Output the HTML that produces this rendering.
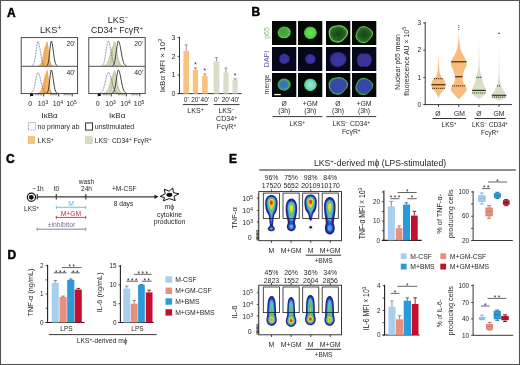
<!DOCTYPE html>
<html><head><meta charset="utf-8"><style>
html,body{margin:0;padding:0;background:#fff;width:520px;height:365px;overflow:hidden}
svg{display:block;will-change:transform;font-family:"Liberation Sans", sans-serif}
</style></head><body>
<svg width="520" height="365" viewBox="0 0 520 365" fill="#231f20">
<rect x="0" y="0" width="520" height="365" fill="#fff"/>
<rect x="0.5" y="0.5" width="519" height="364" fill="none" stroke="#555" stroke-width="1.1" />
<text x="7" y="16.5" font-size="12" fill="#000" font-weight="bold" stroke="#000" stroke-width="0.45">A</text>
<text x="251.5" y="16.3" font-size="12" fill="#000" font-weight="bold" stroke="#000" stroke-width="0.45">B</text>
<text x="6" y="162.5" font-size="12" fill="#000" font-weight="bold" stroke="#000" stroke-width="0.45">C</text>
<text x="7.5" y="259.3" font-size="12" fill="#000" font-weight="bold" stroke="#000" stroke-width="0.45">D</text>
<text x="229" y="162.6" font-size="12" fill="#000" font-weight="bold" stroke="#000" stroke-width="0.45">E</text>
<text x="40" y="32.6" font-size="9.2" >LKS<tspan baseline-shift="46%" font-size="70%">+</tspan></text>
<text x="118.2" y="22.7" font-size="9.0" text-anchor="middle" >LKS<tspan baseline-shift="46%" font-size="70%">−</tspan></text>
<text x="117" y="32.8" font-size="8.7" text-anchor="middle" >CD34<tspan baseline-shift="46%" font-size="70%">+</tspan> FcγR<tspan baseline-shift="46%" font-size="70%">+</tspan></text>
<path d="M21.20,66.00 L21.20,66.00 L21.67,66.00 L22.14,66.00 L22.61,66.00 L23.08,66.00 L23.55,66.00 L24.02,66.00 L24.49,66.00 L24.96,66.00 L25.43,66.00 L25.90,66.00 L26.37,66.00 L26.84,66.00 L27.31,66.00 L27.78,66.00 L28.25,66.00 L28.72,66.00 L29.19,66.00 L29.66,66.00 L30.13,66.00 L30.60,66.00 L31.07,66.00 L31.54,66.00 L32.01,66.00 L32.48,66.00 L32.95,66.00 L33.42,66.00 L33.89,66.00 L34.36,66.00 L34.83,66.00 L35.30,66.00 L35.77,65.99 L36.24,65.98 L36.71,65.97 L37.18,65.94 L37.65,65.89 L38.12,65.81 L38.59,65.68 L39.06,65.49 L39.53,65.19 L40.00,64.75 L40.47,64.14 L40.94,63.32 L41.41,62.25 L41.88,60.90 L42.35,59.28 L42.82,57.41 L43.29,55.34 L43.76,53.17 L44.23,51.01 L44.70,49.02 L45.17,47.34 L45.64,46.10 L46.11,45.42 L46.58,45.38 L47.05,46.27 L47.52,48.04 L47.99,50.46 L48.46,53.21 L48.93,55.98 L49.40,58.54 L49.87,60.71 L50.34,62.44 L50.81,63.72 L51.28,64.61 L51.75,65.19 L52.22,65.56 L52.69,65.77 L53.16,65.88 L53.63,65.94 L54.10,65.98 L54.57,65.99 L55.04,66.00 L55.51,66.00 L55.98,66.00 L56.45,66.00 L56.92,66.00 L57.39,66.00 L57.86,66.00 L58.33,66.00 L58.80,66.00 L59.27,66.00 L59.74,66.00 L60.21,66.00 L60.68,66.00 L61.15,66.00 L61.62,66.00 L62.09,66.00 L62.56,66.00 L63.03,66.00 L63.50,66.00 L63.97,66.00 L64.44,66.00 L64.91,66.00 L65.38,66.00 L65.85,66.00 L66.32,66.00 L66.79,66.00 L67.26,66.00 L67.73,66.00 L68.20,66.00 L68.67,66.00 L69.14,66.00 L69.61,66.00 L70.08,66.00 L70.55,66.00 L71.02,66.00 L71.49,66.00 L71.96,66.00 L72.43,66.00 L72.90,66.00 L73.37,66.00 L73.84,66.00 L74.31,66.00 L74.78,66.00 L75.25,66.00 L75.72,66.00 L76.19,66.00 L76.66,66.00 L77.13,66.00 L77.60,66.00 L77.60,66.00 Z" fill="#f6b468" stroke="none" stroke-width="0.8" />
<path d="M38.59,65.68 L39.06,65.49 L39.53,65.19 L40.00,64.75 L40.47,64.14 L40.94,63.32 L41.41,62.25 L41.88,60.90 L42.35,59.28 L42.82,57.41 L43.29,55.34 L43.76,53.17 L44.23,51.01 L44.70,49.02 L45.17,47.34 L45.64,46.10 L46.11,45.42 L46.58,45.38 L47.05,46.27 L47.52,48.04 L47.99,50.46 L48.46,53.21 L48.93,55.98 L49.40,58.54 L49.87,60.71 L50.34,62.44 L50.81,63.72 L51.28,64.61 L51.75,65.19 L52.22,65.56 L52.69,65.77" fill="none" stroke="#e8913a" stroke-width="0.5" />
<path d="M21.20,66.00 L21.20,66.00 L21.67,66.00 L22.14,66.00 L22.61,66.00 L23.08,66.00 L23.55,66.00 L24.02,66.00 L24.49,66.00 L24.96,66.00 L25.43,66.00 L25.90,66.00 L26.37,66.00 L26.84,66.00 L27.31,66.00 L27.78,66.00 L28.25,66.00 L28.72,66.00 L29.19,66.00 L29.66,66.00 L30.13,66.00 L30.60,66.00 L31.07,66.00 L31.54,66.00 L32.01,66.00 L32.48,66.00 L32.95,66.00 L33.42,66.00 L33.89,66.00 L34.36,66.00 L34.83,66.00 L35.30,66.00 L35.77,66.00 L36.24,66.00 L36.71,66.00 L37.18,66.00 L37.65,66.00 L38.12,66.00 L38.59,66.00 L39.06,66.00 L39.53,66.00 L40.00,66.00 L40.47,66.00 L40.94,65.99 L41.41,65.98 L41.88,65.94 L42.35,65.82 L42.82,65.54 L43.29,64.93 L43.76,63.76 L44.23,61.75 L44.70,58.71 L45.17,54.67 L45.64,50.09 L46.11,45.78 L46.58,42.75 L47.05,41.81 L47.52,43.27 L47.99,46.71 L48.46,51.22 L48.93,55.78 L49.40,59.62 L49.87,62.40 L50.34,64.17 L50.81,65.16 L51.28,65.65 L51.75,65.87 L52.22,65.96 L52.69,65.99 L53.16,66.00 L53.63,66.00 L54.10,66.00 L54.57,66.00 L55.04,66.00 L55.51,66.00 L55.98,66.00 L56.45,66.00 L56.92,66.00 L57.39,66.00 L57.86,66.00 L58.33,66.00 L58.80,66.00 L59.27,66.00 L59.74,66.00 L60.21,66.00 L60.68,66.00 L61.15,66.00 L61.62,66.00 L62.09,66.00 L62.56,66.00 L63.03,66.00 L63.50,66.00 L63.97,66.00 L64.44,66.00 L64.91,66.00 L65.38,66.00 L65.85,66.00 L66.32,66.00 L66.79,66.00 L67.26,66.00 L67.73,66.00 L68.20,66.00 L68.67,66.00 L69.14,66.00 L69.61,66.00 L70.08,66.00 L70.55,66.00 L71.02,66.00 L71.49,66.00 L71.96,66.00 L72.43,66.00 L72.90,66.00 L73.37,66.00 L73.84,66.00 L74.31,66.00 L74.78,66.00 L75.25,66.00 L75.72,66.00 L76.19,66.00 L76.66,66.00 L77.13,66.00 L77.60,66.00 L77.60,66.00 Z" fill="#f6b468" stroke="none" stroke-width="0.8" />
<path d="M42.35,65.82 L42.82,65.54 L43.29,64.93 L43.76,63.76 L44.23,61.75 L44.70,58.71 L45.17,54.67 L45.64,50.09 L46.11,45.78 L46.58,42.75 L47.05,41.81 L47.52,43.27 L47.99,46.71 L48.46,51.22 L48.93,55.78 L49.40,59.62 L49.87,62.40 L50.34,64.17 L50.81,65.16 L51.28,65.65" fill="none" stroke="#e8913a" stroke-width="0.6" />
<path d="M32.01,65.83 L32.48,65.64 L32.95,65.28 L33.42,64.66 L33.89,63.64 L34.36,62.09 L34.83,59.91 L35.30,57.07 L35.77,53.70 L36.24,50.05 L36.71,46.54 L37.18,43.68 L37.65,41.91 L38.12,41.53 L38.59,42.31 L39.06,44.01 L39.53,46.44 L40.00,49.32 L40.47,52.38 L40.94,55.33 L41.41,57.99 L41.88,60.24 L42.35,62.03 L42.82,63.38 L43.29,64.34 L43.76,64.99 L44.23,65.41 L44.70,65.67" fill="none" stroke="#4a505c" stroke-width="0.75" stroke-dasharray="0.9,0.7"/>
<path d="M46.58,65.82 L47.05,65.55 L47.52,64.96 L47.99,63.81 L48.46,61.84 L48.93,58.82 L49.40,54.79 L49.87,50.13 L50.34,45.63 L50.81,42.30 L51.28,41.00 L51.75,41.66 L52.22,43.63 L52.69,46.61 L53.16,50.14 L53.63,53.76 L54.10,57.08 L54.57,59.87 L55.04,62.03 L55.51,63.57 L55.98,64.60 L56.45,65.24 L56.92,65.61 L57.39,65.81" fill="none" stroke="#222" stroke-width="0.85" />
<text x="75.39999999999999" y="46.2" font-size="6.8" text-anchor="end" >20'</text>
<path d="M21.20,93.30 L21.20,93.30 L21.67,93.30 L22.14,93.30 L22.61,93.30 L23.08,93.30 L23.55,93.30 L24.02,93.30 L24.49,93.30 L24.96,93.30 L25.43,93.30 L25.90,93.30 L26.37,93.30 L26.84,93.30 L27.31,93.30 L27.78,93.30 L28.25,93.30 L28.72,93.30 L29.19,93.30 L29.66,93.30 L30.13,93.30 L30.60,93.30 L31.07,93.30 L31.54,93.30 L32.01,93.30 L32.48,93.30 L32.95,93.30 L33.42,93.30 L33.89,93.30 L34.36,93.30 L34.83,93.30 L35.30,93.30 L35.77,93.29 L36.24,93.28 L36.71,93.27 L37.18,93.24 L37.65,93.20 L38.12,93.12 L38.59,93.01 L39.06,92.82 L39.53,92.54 L40.00,92.14 L40.47,91.57 L40.94,90.80 L41.41,89.80 L41.88,88.55 L42.35,87.03 L42.82,85.29 L43.29,83.36 L43.76,81.33 L44.23,79.33 L44.70,77.47 L45.17,75.90 L45.64,74.75 L46.11,74.11 L46.58,74.07 L47.05,74.90 L47.52,76.56 L47.99,78.81 L48.46,81.37 L48.93,83.96 L49.40,86.34 L49.87,88.37 L50.34,89.98 L50.81,91.17 L51.28,92.00 L51.75,92.55 L52.22,92.89 L52.69,93.08 L53.16,93.19 L53.63,93.25 L54.10,93.28 L54.57,93.29 L55.04,93.30 L55.51,93.30 L55.98,93.30 L56.45,93.30 L56.92,93.30 L57.39,93.30 L57.86,93.30 L58.33,93.30 L58.80,93.30 L59.27,93.30 L59.74,93.30 L60.21,93.30 L60.68,93.30 L61.15,93.30 L61.62,93.30 L62.09,93.30 L62.56,93.30 L63.03,93.30 L63.50,93.30 L63.97,93.30 L64.44,93.30 L64.91,93.30 L65.38,93.30 L65.85,93.30 L66.32,93.30 L66.79,93.30 L67.26,93.30 L67.73,93.30 L68.20,93.30 L68.67,93.30 L69.14,93.30 L69.61,93.30 L70.08,93.30 L70.55,93.30 L71.02,93.30 L71.49,93.30 L71.96,93.30 L72.43,93.30 L72.90,93.30 L73.37,93.30 L73.84,93.30 L74.31,93.30 L74.78,93.30 L75.25,93.30 L75.72,93.30 L76.19,93.30 L76.66,93.30 L77.13,93.30 L77.60,93.30 L77.60,93.30 Z" fill="#f6b468" stroke="none" stroke-width="0.8" />
<path d="M38.59,93.01 L39.06,92.82 L39.53,92.54 L40.00,92.14 L40.47,91.57 L40.94,90.80 L41.41,89.80 L41.88,88.55 L42.35,87.03 L42.82,85.29 L43.29,83.36 L43.76,81.33 L44.23,79.33 L44.70,77.47 L45.17,75.90 L45.64,74.75 L46.11,74.11 L46.58,74.07 L47.05,74.90 L47.52,76.56 L47.99,78.81 L48.46,81.37 L48.93,83.96 L49.40,86.34 L49.87,88.37 L50.34,89.98 L50.81,91.17 L51.28,92.00 L51.75,92.55 L52.22,92.89 L52.69,93.08" fill="none" stroke="#e8913a" stroke-width="0.5" />
<path d="M21.20,93.30 L21.20,93.30 L21.67,93.30 L22.14,93.30 L22.61,93.30 L23.08,93.30 L23.55,93.30 L24.02,93.30 L24.49,93.30 L24.96,93.30 L25.43,93.30 L25.90,93.30 L26.37,93.30 L26.84,93.30 L27.31,93.30 L27.78,93.30 L28.25,93.30 L28.72,93.30 L29.19,93.30 L29.66,93.30 L30.13,93.30 L30.60,93.30 L31.07,93.30 L31.54,93.30 L32.01,93.30 L32.48,93.30 L32.95,93.30 L33.42,93.30 L33.89,93.30 L34.36,93.30 L34.83,93.30 L35.30,93.30 L35.77,93.30 L36.24,93.30 L36.71,93.30 L37.18,93.30 L37.65,93.30 L38.12,93.30 L38.59,93.30 L39.06,93.30 L39.53,93.30 L40.00,93.30 L40.47,93.30 L40.94,93.29 L41.41,93.28 L41.88,93.24 L42.35,93.13 L42.82,92.87 L43.29,92.29 L43.76,91.19 L44.23,89.30 L44.70,86.43 L45.17,82.63 L45.64,78.31 L46.11,74.25 L46.58,71.39 L47.05,70.51 L47.52,71.88 L47.99,75.13 L48.46,79.38 L48.93,83.67 L49.40,87.29 L49.87,89.91 L50.34,91.57 L50.81,92.51 L51.28,92.97 L51.75,93.18 L52.22,93.26 L52.69,93.29 L53.16,93.30 L53.63,93.30 L54.10,93.30 L54.57,93.30 L55.04,93.30 L55.51,93.30 L55.98,93.30 L56.45,93.30 L56.92,93.30 L57.39,93.30 L57.86,93.30 L58.33,93.30 L58.80,93.30 L59.27,93.30 L59.74,93.30 L60.21,93.30 L60.68,93.30 L61.15,93.30 L61.62,93.30 L62.09,93.30 L62.56,93.30 L63.03,93.30 L63.50,93.30 L63.97,93.30 L64.44,93.30 L64.91,93.30 L65.38,93.30 L65.85,93.30 L66.32,93.30 L66.79,93.30 L67.26,93.30 L67.73,93.30 L68.20,93.30 L68.67,93.30 L69.14,93.30 L69.61,93.30 L70.08,93.30 L70.55,93.30 L71.02,93.30 L71.49,93.30 L71.96,93.30 L72.43,93.30 L72.90,93.30 L73.37,93.30 L73.84,93.30 L74.31,93.30 L74.78,93.30 L75.25,93.30 L75.72,93.30 L76.19,93.30 L76.66,93.30 L77.13,93.30 L77.60,93.30 L77.60,93.30 Z" fill="#f6b468" stroke="none" stroke-width="0.8" />
<path d="M42.35,93.13 L42.82,92.87 L43.29,92.29 L43.76,91.19 L44.23,89.30 L44.70,86.43 L45.17,82.63 L45.64,78.31 L46.11,74.25 L46.58,71.39 L47.05,70.51 L47.52,71.88 L47.99,75.13 L48.46,79.38 L48.93,83.67 L49.40,87.29 L49.87,89.91 L50.34,91.57 L50.81,92.51 L51.28,92.97" fill="none" stroke="#e8913a" stroke-width="0.6" />
<path d="M31.07,93.01 L31.54,92.79 L32.01,92.44 L32.48,91.90 L32.95,91.13 L33.42,90.06 L33.89,88.65 L34.36,86.87 L34.83,84.76 L35.30,82.40 L35.77,79.91 L36.24,77.49 L36.71,75.35 L37.18,73.70 L37.65,72.72 L38.12,72.52 L38.59,72.94 L39.06,73.89 L39.53,75.29 L40.00,77.04 L40.47,79.01 L40.94,81.08 L41.41,83.13 L41.88,85.07 L42.35,86.81 L42.82,88.32 L43.29,89.59 L43.76,90.60 L44.23,91.39 L44.70,91.99 L45.17,92.42 L45.64,92.73 L46.11,92.94 L46.58,93.08" fill="none" stroke="#4a505c" stroke-width="0.75" stroke-dasharray="0.9,0.7"/>
<path d="M46.58,93.14 L47.05,92.88 L47.52,92.33 L47.99,91.26 L48.46,89.42 L48.93,86.61 L49.40,82.85 L49.87,78.51 L50.34,74.31 L50.81,71.21 L51.28,70.00 L51.75,70.61 L52.22,72.45 L52.69,75.23 L53.16,78.52 L53.63,81.89 L54.10,84.99 L54.57,87.59 L55.04,89.60 L55.51,91.03 L55.98,91.99 L56.45,92.59 L56.92,92.93 L57.39,93.12" fill="none" stroke="#222" stroke-width="0.85" />
<text x="75.39999999999999" y="74.89999999999999" font-size="6.8" text-anchor="end" >40'</text>
<rect x="21.2" y="37.6" width="56.4" height="56" fill="none" stroke="#3a3a3a" stroke-width="0.9" />
<line x1="21.2" y1="66.3" x2="77.6" y2="66.3" stroke="#3a3a3a" stroke-width="0.9" />
<line x1="30.5" y1="93.6" x2="30.5" y2="96.4" stroke="#231f20" stroke-width="0.9" />
<line x1="43.7" y1="93.6" x2="43.7" y2="96.4" stroke="#231f20" stroke-width="0.9" />
<line x1="58.7" y1="93.6" x2="58.7" y2="96.4" stroke="#231f20" stroke-width="0.9" />
<line x1="72.2" y1="93.6" x2="72.2" y2="96.4" stroke="#231f20" stroke-width="0.9" />
<line x1="41.7" y1="93.6" x2="41.7" y2="95.3" stroke="#231f20" stroke-width="0.55" />
<line x1="56.7" y1="93.6" x2="56.7" y2="95.3" stroke="#231f20" stroke-width="0.55" />
<line x1="70.2" y1="93.6" x2="70.2" y2="95.3" stroke="#231f20" stroke-width="0.55" />
<line x1="40.2" y1="93.6" x2="40.2" y2="95.3" stroke="#231f20" stroke-width="0.55" />
<line x1="55.2" y1="93.6" x2="55.2" y2="95.3" stroke="#231f20" stroke-width="0.55" />
<line x1="68.7" y1="93.6" x2="68.7" y2="95.3" stroke="#231f20" stroke-width="0.55" />
<line x1="38.7" y1="93.6" x2="38.7" y2="95.3" stroke="#231f20" stroke-width="0.55" />
<line x1="53.7" y1="93.6" x2="53.7" y2="95.3" stroke="#231f20" stroke-width="0.55" />
<line x1="67.2" y1="93.6" x2="67.2" y2="95.3" stroke="#231f20" stroke-width="0.55" />
<line x1="37.2" y1="93.6" x2="37.2" y2="95.3" stroke="#231f20" stroke-width="0.55" />
<line x1="52.2" y1="93.6" x2="52.2" y2="95.3" stroke="#231f20" stroke-width="0.55" />
<line x1="65.7" y1="93.6" x2="65.7" y2="95.3" stroke="#231f20" stroke-width="0.55" />
<line x1="35.7" y1="93.6" x2="35.7" y2="95.3" stroke="#231f20" stroke-width="0.55" />
<line x1="50.7" y1="93.6" x2="50.7" y2="95.3" stroke="#231f20" stroke-width="0.55" />
<line x1="64.2" y1="93.6" x2="64.2" y2="95.3" stroke="#231f20" stroke-width="0.55" />
<rect x="30.5" y="93.6" width="2.7" height="2.4" fill="#111" stroke="none" stroke-width="0.8" />
<text x="30.1" y="106.1" font-size="7" text-anchor="middle" >0</text>
<text x="42.900000000000006" y="106.1" font-size="7" text-anchor="middle" >10<tspan baseline-shift="46%" font-size="70%">3</tspan></text>
<text x="57.900000000000006" y="106.1" font-size="7" text-anchor="middle" >10<tspan baseline-shift="46%" font-size="70%">4</tspan></text>
<text x="71.4" y="106.1" font-size="7" text-anchor="middle" >10<tspan baseline-shift="46%" font-size="70%">5</tspan></text>
<text x="49.599999999999994" y="117.6" font-size="8.1" text-anchor="middle" >IκBα</text>
<path d="M88.80,66.00 L88.80,66.00 L89.27,66.00 L89.74,66.00 L90.21,66.00 L90.68,66.00 L91.15,66.00 L91.62,66.00 L92.09,66.00 L92.56,66.00 L93.03,66.00 L93.50,66.00 L93.97,66.00 L94.44,66.00 L94.91,66.00 L95.38,66.00 L95.85,66.00 L96.32,66.00 L96.79,66.00 L97.26,66.00 L97.73,66.00 L98.20,66.00 L98.67,66.00 L99.14,66.00 L99.61,66.00 L100.08,65.99 L100.55,65.99 L101.02,65.98 L101.49,65.97 L101.96,65.95 L102.43,65.92 L102.90,65.88 L103.37,65.81 L103.84,65.72 L104.31,65.58 L104.78,65.39 L105.25,65.12 L105.72,64.77 L106.19,64.31 L106.66,63.72 L107.13,62.98 L107.60,62.07 L108.07,61.00 L108.54,59.74 L109.01,58.33 L109.48,56.77 L109.95,55.10 L110.42,53.37 L110.89,51.65 L111.36,50.00 L111.83,48.50 L112.30,47.22 L112.77,46.23 L113.24,45.58 L113.71,45.31 L114.18,45.47 L114.65,46.11 L115.12,47.21 L115.59,48.68 L116.06,50.41 L116.53,52.32 L117.00,54.28 L117.47,56.21 L117.94,58.01 L118.41,59.64 L118.88,61.06 L119.35,62.26 L119.82,63.24 L120.29,64.01 L120.76,64.60 L121.23,65.04 L121.70,65.35 L122.17,65.58 L122.64,65.73 L123.11,65.83 L123.58,65.90 L124.05,65.94 L124.52,65.97 L124.99,65.98 L125.46,65.99 L125.93,65.99 L126.40,66.00 L126.87,66.00 L127.34,66.00 L127.81,66.00 L128.28,66.00 L128.75,66.00 L129.22,66.00 L129.69,66.00 L130.16,66.00 L130.63,66.00 L131.10,66.00 L131.57,66.00 L132.04,66.00 L132.51,66.00 L132.98,66.00 L133.45,66.00 L133.92,66.00 L134.39,66.00 L134.86,66.00 L135.33,66.00 L135.80,66.00 L136.27,66.00 L136.74,66.00 L137.21,66.00 L137.68,66.00 L138.15,66.00 L138.62,66.00 L139.09,66.00 L139.56,66.00 L140.03,66.00 L140.50,66.00 L140.97,66.00 L141.44,66.00 L141.91,66.00 L142.38,66.00 L142.85,66.00 L143.32,66.00 L143.79,66.00 L144.26,66.00 L144.73,66.00 L145.20,66.00 L145.20,66.00 Z" fill="#d3d9bb" stroke="none" stroke-width="0.8" />
<path d="M103.84,65.72 L104.31,65.58 L104.78,65.39 L105.25,65.12 L105.72,64.77 L106.19,64.31 L106.66,63.72 L107.13,62.98 L107.60,62.07 L108.07,61.00 L108.54,59.74 L109.01,58.33 L109.48,56.77 L109.95,55.10 L110.42,53.37 L110.89,51.65 L111.36,50.00 L111.83,48.50 L112.30,47.22 L112.77,46.23 L113.24,45.58 L113.71,45.31 L114.18,45.47 L114.65,46.11 L115.12,47.21 L115.59,48.68 L116.06,50.41 L116.53,52.32 L117.00,54.28 L117.47,56.21 L117.94,58.01 L118.41,59.64 L118.88,61.06 L119.35,62.26 L119.82,63.24 L120.29,64.01 L120.76,64.60 L121.23,65.04 L121.70,65.35 L122.17,65.58 L122.64,65.73" fill="none" stroke="#a9b388" stroke-width="0.5" />
<path d="M88.80,66.00 L88.80,66.00 L89.27,66.00 L89.74,66.00 L90.21,66.00 L90.68,66.00 L91.15,66.00 L91.62,66.00 L92.09,66.00 L92.56,66.00 L93.03,66.00 L93.50,66.00 L93.97,66.00 L94.44,66.00 L94.91,66.00 L95.38,66.00 L95.85,66.00 L96.32,66.00 L96.79,66.00 L97.26,66.00 L97.73,66.00 L98.20,66.00 L98.67,66.00 L99.14,66.00 L99.61,66.00 L100.08,66.00 L100.55,66.00 L101.02,66.00 L101.49,66.00 L101.96,66.00 L102.43,66.00 L102.90,66.00 L103.37,66.00 L103.84,66.00 L104.31,66.00 L104.78,66.00 L105.25,66.00 L105.72,66.00 L106.19,66.00 L106.66,66.00 L107.13,65.99 L107.60,65.98 L108.07,65.95 L108.54,65.87 L109.01,65.72 L109.48,65.43 L109.95,64.90 L110.42,64.01 L110.89,62.62 L111.36,60.61 L111.83,57.92 L112.30,54.64 L112.77,51.01 L113.24,47.42 L113.71,44.39 L114.18,42.40 L114.65,41.81 L115.12,42.53 L115.59,44.35 L116.06,47.00 L116.53,50.14 L117.00,53.41 L117.47,56.49 L117.94,59.17 L118.41,61.33 L118.88,62.97 L119.35,64.13 L119.82,64.90 L120.29,65.38 L120.76,65.67 L121.23,65.83 L121.70,65.92 L122.17,65.96 L122.64,65.98 L123.11,65.99 L123.58,66.00 L124.05,66.00 L124.52,66.00 L124.99,66.00 L125.46,66.00 L125.93,66.00 L126.40,66.00 L126.87,66.00 L127.34,66.00 L127.81,66.00 L128.28,66.00 L128.75,66.00 L129.22,66.00 L129.69,66.00 L130.16,66.00 L130.63,66.00 L131.10,66.00 L131.57,66.00 L132.04,66.00 L132.51,66.00 L132.98,66.00 L133.45,66.00 L133.92,66.00 L134.39,66.00 L134.86,66.00 L135.33,66.00 L135.80,66.00 L136.27,66.00 L136.74,66.00 L137.21,66.00 L137.68,66.00 L138.15,66.00 L138.62,66.00 L139.09,66.00 L139.56,66.00 L140.03,66.00 L140.50,66.00 L140.97,66.00 L141.44,66.00 L141.91,66.00 L142.38,66.00 L142.85,66.00 L143.32,66.00 L143.79,66.00 L144.26,66.00 L144.73,66.00 L145.20,66.00 L145.20,66.00 Z" fill="#d3d9bb" stroke="none" stroke-width="0.8" />
<path d="M109.01,65.72 L109.48,65.43 L109.95,64.90 L110.42,64.01 L110.89,62.62 L111.36,60.61 L111.83,57.92 L112.30,54.64 L112.77,51.01 L113.24,47.42 L113.71,44.39 L114.18,42.40 L114.65,41.81 L115.12,42.53 L115.59,44.35 L116.06,47.00 L116.53,50.14 L117.00,53.41 L117.47,56.49 L117.94,59.17 L118.41,61.33 L118.88,62.97 L119.35,64.13 L119.82,64.90 L120.29,65.38 L120.76,65.67" fill="none" stroke="#a9b388" stroke-width="0.6" />
<path d="M101.49,65.80 L101.96,65.61 L102.43,65.30 L102.90,64.80 L103.37,64.01 L103.84,62.86 L104.31,61.27 L104.78,59.19 L105.25,56.63 L105.72,53.68 L106.19,50.53 L106.66,47.44 L107.13,44.73 L107.60,42.71 L108.07,41.63 L108.54,41.60 L109.01,42.37 L109.48,43.83 L109.95,45.85 L110.42,48.25 L110.89,50.86 L111.36,53.49 L111.83,55.98 L112.30,58.23 L112.77,60.16 L113.24,61.75 L113.71,63.00 L114.18,63.95 L114.65,64.64 L115.12,65.13 L115.59,65.46 L116.06,65.67" fill="none" stroke="#4a505c" stroke-width="0.75" stroke-dasharray="0.9,0.7"/>
<path d="M112.30,65.76 L112.77,65.52 L113.24,65.10 L113.71,64.40 L114.18,63.30 L114.65,61.69 L115.12,59.49 L115.59,56.68 L116.06,53.39 L116.53,49.85 L117.00,46.43 L117.47,43.56 L117.94,41.65 L118.41,41.00 L118.88,41.42 L119.35,42.61 L119.82,44.46 L120.29,46.80 L120.76,49.44 L121.23,52.17 L121.70,54.83 L122.17,57.26 L122.64,59.39 L123.11,61.15 L123.58,62.56 L124.05,63.64 L124.52,64.43 L124.99,64.99 L125.46,65.37 L125.93,65.62 L126.40,65.78" fill="none" stroke="#222" stroke-width="0.85" />
<text x="143.0" y="46.2" font-size="6.8" text-anchor="end" >20'</text>
<path d="M88.80,93.30 L88.80,93.30 L89.27,93.30 L89.74,93.30 L90.21,93.30 L90.68,93.30 L91.15,93.30 L91.62,93.30 L92.09,93.30 L92.56,93.30 L93.03,93.30 L93.50,93.30 L93.97,93.30 L94.44,93.30 L94.91,93.30 L95.38,93.30 L95.85,93.30 L96.32,93.30 L96.79,93.30 L97.26,93.30 L97.73,93.30 L98.20,93.30 L98.67,93.30 L99.14,93.30 L99.61,93.30 L100.08,93.29 L100.55,93.29 L101.02,93.28 L101.49,93.27 L101.96,93.26 L102.43,93.23 L102.90,93.19 L103.37,93.13 L103.84,93.04 L104.31,92.91 L104.78,92.73 L105.25,92.48 L105.72,92.15 L106.19,91.72 L106.66,91.17 L107.13,90.48 L107.60,89.64 L108.07,88.64 L108.54,87.47 L109.01,86.15 L109.48,84.69 L109.95,83.13 L110.42,81.53 L110.89,79.92 L111.36,78.38 L111.83,76.98 L112.30,75.79 L112.77,74.87 L113.24,74.26 L113.71,74.01 L114.18,74.15 L114.65,74.76 L115.12,75.78 L115.59,77.15 L116.06,78.77 L116.53,80.54 L117.00,82.37 L117.47,84.17 L117.94,85.85 L118.41,87.37 L118.88,88.70 L119.35,89.81 L119.82,90.72 L120.29,91.44 L120.76,91.99 L121.23,92.40 L121.70,92.70 L122.17,92.91 L122.64,93.05 L123.11,93.14 L123.58,93.20 L124.05,93.24 L124.52,93.27 L124.99,93.28 L125.46,93.29 L125.93,93.29 L126.40,93.30 L126.87,93.30 L127.34,93.30 L127.81,93.30 L128.28,93.30 L128.75,93.30 L129.22,93.30 L129.69,93.30 L130.16,93.30 L130.63,93.30 L131.10,93.30 L131.57,93.30 L132.04,93.30 L132.51,93.30 L132.98,93.30 L133.45,93.30 L133.92,93.30 L134.39,93.30 L134.86,93.30 L135.33,93.30 L135.80,93.30 L136.27,93.30 L136.74,93.30 L137.21,93.30 L137.68,93.30 L138.15,93.30 L138.62,93.30 L139.09,93.30 L139.56,93.30 L140.03,93.30 L140.50,93.30 L140.97,93.30 L141.44,93.30 L141.91,93.30 L142.38,93.30 L142.85,93.30 L143.32,93.30 L143.79,93.30 L144.26,93.30 L144.73,93.30 L145.20,93.30 L145.20,93.30 Z" fill="#d3d9bb" stroke="none" stroke-width="0.8" />
<path d="M103.84,93.04 L104.31,92.91 L104.78,92.73 L105.25,92.48 L105.72,92.15 L106.19,91.72 L106.66,91.17 L107.13,90.48 L107.60,89.64 L108.07,88.64 L108.54,87.47 L109.01,86.15 L109.48,84.69 L109.95,83.13 L110.42,81.53 L110.89,79.92 L111.36,78.38 L111.83,76.98 L112.30,75.79 L112.77,74.87 L113.24,74.26 L113.71,74.01 L114.18,74.15 L114.65,74.76 L115.12,75.78 L115.59,77.15 L116.06,78.77 L116.53,80.54 L117.00,82.37 L117.47,84.17 L117.94,85.85 L118.41,87.37 L118.88,88.70 L119.35,89.81 L119.82,90.72 L120.29,91.44 L120.76,91.99 L121.23,92.40 L121.70,92.70 L122.17,92.91 L122.64,93.05" fill="none" stroke="#a9b388" stroke-width="0.5" />
<path d="M88.80,93.30 L88.80,93.30 L89.27,93.30 L89.74,93.30 L90.21,93.30 L90.68,93.30 L91.15,93.30 L91.62,93.30 L92.09,93.30 L92.56,93.30 L93.03,93.30 L93.50,93.30 L93.97,93.30 L94.44,93.30 L94.91,93.30 L95.38,93.30 L95.85,93.30 L96.32,93.30 L96.79,93.30 L97.26,93.30 L97.73,93.30 L98.20,93.30 L98.67,93.30 L99.14,93.30 L99.61,93.30 L100.08,93.30 L100.55,93.30 L101.02,93.30 L101.49,93.30 L101.96,93.30 L102.43,93.30 L102.90,93.30 L103.37,93.30 L103.84,93.30 L104.31,93.30 L104.78,93.30 L105.25,93.30 L105.72,93.30 L106.19,93.30 L106.66,93.30 L107.13,93.29 L107.60,93.28 L108.07,93.25 L108.54,93.18 L109.01,93.04 L109.48,92.76 L109.95,92.26 L110.42,91.43 L110.89,90.11 L111.36,88.22 L111.83,85.69 L112.30,82.60 L112.77,79.18 L113.24,75.80 L113.71,72.94 L114.18,71.07 L114.65,70.51 L115.12,71.19 L115.59,72.90 L116.06,75.39 L116.53,78.35 L117.00,81.43 L117.47,84.34 L117.94,86.86 L118.41,88.90 L118.88,90.44 L119.35,91.53 L119.82,92.26 L120.29,92.72 L120.76,92.99 L121.23,93.14 L121.70,93.22 L122.17,93.27 L122.64,93.29 L123.11,93.29 L123.58,93.30 L124.05,93.30 L124.52,93.30 L124.99,93.30 L125.46,93.30 L125.93,93.30 L126.40,93.30 L126.87,93.30 L127.34,93.30 L127.81,93.30 L128.28,93.30 L128.75,93.30 L129.22,93.30 L129.69,93.30 L130.16,93.30 L130.63,93.30 L131.10,93.30 L131.57,93.30 L132.04,93.30 L132.51,93.30 L132.98,93.30 L133.45,93.30 L133.92,93.30 L134.39,93.30 L134.86,93.30 L135.33,93.30 L135.80,93.30 L136.27,93.30 L136.74,93.30 L137.21,93.30 L137.68,93.30 L138.15,93.30 L138.62,93.30 L139.09,93.30 L139.56,93.30 L140.03,93.30 L140.50,93.30 L140.97,93.30 L141.44,93.30 L141.91,93.30 L142.38,93.30 L142.85,93.30 L143.32,93.30 L143.79,93.30 L144.26,93.30 L144.73,93.30 L145.20,93.30 L145.20,93.30 Z" fill="#d3d9bb" stroke="none" stroke-width="0.8" />
<path d="M109.01,93.04 L109.48,92.76 L109.95,92.26 L110.42,91.43 L110.89,90.11 L111.36,88.22 L111.83,85.69 L112.30,82.60 L112.77,79.18 L113.24,75.80 L113.71,72.94 L114.18,71.07 L114.65,70.51 L115.12,71.19 L115.59,72.90 L116.06,75.39 L116.53,78.35 L117.00,81.43 L117.47,84.34 L117.94,86.86 L118.41,88.90 L118.88,90.44 L119.35,91.53 L119.82,92.26 L120.29,92.72 L120.76,92.99" fill="none" stroke="#a9b388" stroke-width="0.6" />
<path d="M100.08,93.06 L100.55,92.91 L101.02,92.67 L101.49,92.33 L101.96,91.84 L102.43,91.17 L102.90,90.27 L103.37,89.13 L103.84,87.72 L104.31,86.04 L104.78,84.13 L105.25,82.06 L105.72,79.91 L106.19,77.80 L106.66,75.89 L107.13,74.30 L107.60,73.16 L108.07,72.57 L108.54,72.55 L109.01,72.98 L109.48,73.79 L109.95,74.94 L110.42,76.38 L110.89,78.01 L111.36,79.77 L111.83,81.56 L112.30,83.32 L112.77,84.99 L113.24,86.52 L113.71,87.87 L114.18,89.05 L114.65,90.03 L115.12,90.84 L115.59,91.49 L116.06,91.99 L116.53,92.37 L117.00,92.66 L117.47,92.86 L117.94,93.01" fill="none" stroke="#4a505c" stroke-width="0.75" stroke-dasharray="0.9,0.7"/>
<path d="M112.30,93.08 L112.77,92.86 L113.24,92.46 L113.71,91.81 L114.18,90.78 L114.65,89.28 L115.12,87.23 L115.59,84.62 L116.06,81.55 L116.53,78.25 L117.00,75.06 L117.47,72.39 L117.94,70.61 L118.41,70.00 L118.88,70.39 L119.35,71.50 L119.82,73.23 L120.29,75.41 L120.76,77.87 L121.23,80.41 L121.70,82.89 L122.17,85.16 L122.64,87.14 L123.11,88.78 L123.58,90.10 L124.05,91.10 L124.52,91.84 L124.99,92.36 L125.46,92.72 L125.93,92.95 L126.40,93.10" fill="none" stroke="#222" stroke-width="0.85" />
<text x="143.0" y="74.89999999999999" font-size="6.8" text-anchor="end" >40'</text>
<rect x="88.8" y="37.6" width="56.4" height="56" fill="none" stroke="#3a3a3a" stroke-width="0.9" />
<line x1="88.8" y1="66.3" x2="145.2" y2="66.3" stroke="#3a3a3a" stroke-width="0.9" />
<line x1="98.1" y1="93.6" x2="98.1" y2="96.4" stroke="#231f20" stroke-width="0.9" />
<line x1="111.3" y1="93.6" x2="111.3" y2="96.4" stroke="#231f20" stroke-width="0.9" />
<line x1="126.3" y1="93.6" x2="126.3" y2="96.4" stroke="#231f20" stroke-width="0.9" />
<line x1="139.8" y1="93.6" x2="139.8" y2="96.4" stroke="#231f20" stroke-width="0.9" />
<line x1="109.3" y1="93.6" x2="109.3" y2="95.3" stroke="#231f20" stroke-width="0.55" />
<line x1="124.3" y1="93.6" x2="124.3" y2="95.3" stroke="#231f20" stroke-width="0.55" />
<line x1="137.8" y1="93.6" x2="137.8" y2="95.3" stroke="#231f20" stroke-width="0.55" />
<line x1="107.8" y1="93.6" x2="107.8" y2="95.3" stroke="#231f20" stroke-width="0.55" />
<line x1="122.8" y1="93.6" x2="122.8" y2="95.3" stroke="#231f20" stroke-width="0.55" />
<line x1="136.3" y1="93.6" x2="136.3" y2="95.3" stroke="#231f20" stroke-width="0.55" />
<line x1="106.3" y1="93.6" x2="106.3" y2="95.3" stroke="#231f20" stroke-width="0.55" />
<line x1="121.3" y1="93.6" x2="121.3" y2="95.3" stroke="#231f20" stroke-width="0.55" />
<line x1="134.8" y1="93.6" x2="134.8" y2="95.3" stroke="#231f20" stroke-width="0.55" />
<line x1="104.8" y1="93.6" x2="104.8" y2="95.3" stroke="#231f20" stroke-width="0.55" />
<line x1="119.8" y1="93.6" x2="119.8" y2="95.3" stroke="#231f20" stroke-width="0.55" />
<line x1="133.3" y1="93.6" x2="133.3" y2="95.3" stroke="#231f20" stroke-width="0.55" />
<line x1="103.3" y1="93.6" x2="103.3" y2="95.3" stroke="#231f20" stroke-width="0.55" />
<line x1="118.3" y1="93.6" x2="118.3" y2="95.3" stroke="#231f20" stroke-width="0.55" />
<line x1="131.8" y1="93.6" x2="131.8" y2="95.3" stroke="#231f20" stroke-width="0.55" />
<rect x="98.1" y="93.6" width="2.7" height="2.4" fill="#111" stroke="none" stroke-width="0.8" />
<text x="97.7" y="106.1" font-size="7" text-anchor="middle" >0</text>
<text x="110.5" y="106.1" font-size="7" text-anchor="middle" >10<tspan baseline-shift="46%" font-size="70%">3</tspan></text>
<text x="125.5" y="106.1" font-size="7" text-anchor="middle" >10<tspan baseline-shift="46%" font-size="70%">4</tspan></text>
<text x="139.0" y="106.1" font-size="7" text-anchor="middle" >10<tspan baseline-shift="46%" font-size="70%">5</tspan></text>
<text x="117.19999999999999" y="117.6" font-size="8.1" text-anchor="middle" >IκBα</text>
<rect x="28.4" y="122.6" width="7" height="7.4" fill="none" stroke="#555" stroke-width="0.7" stroke-dasharray="0.8,0.8"/>
<text x="37.6" y="129.2" font-size="6.85" >no primary ab</text>
<rect x="85.6" y="122.9" width="6.9" height="7.2" fill="none" stroke="#333" stroke-width="1.0" />
<text x="94.8" y="129.2" font-size="6.95" >unstimulated</text>
<rect x="28.5" y="136.7" width="6.0" height="6.6" fill="#f9c27e" stroke="#eea04c" stroke-width="0.6" />
<text x="37.6" y="142.9" font-size="7.0" >LKS<tspan baseline-shift="46%" font-size="70%">+</tspan></text>
<rect x="85.6" y="136.8" width="6.6" height="6.6" fill="#d9dec8" stroke="#b8c09c" stroke-width="0.6" />
<text x="94.8" y="142.9" font-size="6.65" >LKS<tspan baseline-shift="46%" font-size="70%">−</tspan> CD34<tspan baseline-shift="46%" font-size="70%">+</tspan> FcγR<tspan baseline-shift="46%" font-size="70%">+</tspan></text>
<line x1="179.5" y1="36.7" x2="179.5" y2="93.6" stroke="#231f20" stroke-width="0.9" />
<line x1="177.7" y1="93.6" x2="241.5" y2="93.6" stroke="#231f20" stroke-width="0.9" />
<line x1="177.5" y1="93.6" x2="179.5" y2="93.6" stroke="#231f20" stroke-width="0.8" />
<text x="175.3" y="96.0" font-size="7" text-anchor="end" >0</text>
<line x1="177.5" y1="74.96666666666667" x2="179.5" y2="74.96666666666667" stroke="#231f20" stroke-width="0.8" />
<text x="175.3" y="77.36666666666667" font-size="7" text-anchor="end" >1</text>
<line x1="177.5" y1="56.333333333333336" x2="179.5" y2="56.333333333333336" stroke="#231f20" stroke-width="0.8" />
<text x="175.3" y="58.733333333333334" font-size="7" text-anchor="end" >2</text>
<line x1="177.5" y1="37.7" x2="179.5" y2="37.7" stroke="#231f20" stroke-width="0.8" />
<text x="175.3" y="40.1" font-size="7" text-anchor="end" >3</text>
<rect x="183.4" y="50.92966666666667" width="5.699999999999989" height="42.670333333333325" fill="#f9c27e" stroke="none" stroke-width="0.8" />
<line x1="186.25" y1="50.92966666666667" x2="186.25" y2="44.967000000000006" stroke="#8a7a6a" stroke-width="0.8" />
<line x1="184.65" y1="44.967000000000006" x2="187.85" y2="44.967000000000006" stroke="#8a7a6a" stroke-width="0.8" />
<rect x="192.8" y="69.74933333333334" width="5.299999999999983" height="23.850666666666655" fill="#f9c27e" stroke="none" stroke-width="0.8" />
<line x1="195.45" y1="69.74933333333334" x2="195.45" y2="67.88600000000001" stroke="#8a7a6a" stroke-width="0.8" />
<line x1="193.85" y1="67.88600000000001" x2="197.04999999999998" y2="67.88600000000001" stroke="#8a7a6a" stroke-width="0.8" />
<text x="195.45" y="66.88600000000001" font-size="6.5" text-anchor="middle" >*</text>
<rect x="202" y="75.89833333333334" width="5.699999999999989" height="17.701666666666654" fill="#f9c27e" stroke="none" stroke-width="0.8" />
<line x1="204.85" y1="75.89833333333334" x2="204.85" y2="74.03500000000001" stroke="#8a7a6a" stroke-width="0.8" />
<line x1="203.25" y1="74.03500000000001" x2="206.45" y2="74.03500000000001" stroke="#8a7a6a" stroke-width="0.8" />
<text x="204.85" y="73.03500000000001" font-size="6.5" text-anchor="middle" >*</text>
<rect x="213.6" y="61.364333333333335" width="5.800000000000011" height="32.23566666666666" fill="#d9dec8" stroke="none" stroke-width="0.8" />
<line x1="216.5" y1="61.364333333333335" x2="216.5" y2="57.63766666666667" stroke="#8a7a6a" stroke-width="0.8" />
<line x1="214.9" y1="57.63766666666667" x2="218.1" y2="57.63766666666667" stroke="#8a7a6a" stroke-width="0.8" />
<rect x="223.3" y="72.54433333333333" width="5.299999999999983" height="21.055666666666667" fill="#d9dec8" stroke="none" stroke-width="0.8" />
<line x1="225.95" y1="72.54433333333333" x2="225.95" y2="68.07233333333333" stroke="#8a7a6a" stroke-width="0.8" />
<line x1="224.35" y1="68.07233333333333" x2="227.54999999999998" y2="68.07233333333333" stroke="#8a7a6a" stroke-width="0.8" />
<rect x="232.5" y="79.81133333333332" width="5.199999999999989" height="13.788666666666671" fill="#d9dec8" stroke="none" stroke-width="0.8" />
<line x1="235.1" y1="79.81133333333332" x2="235.1" y2="78.87966666666665" stroke="#8a7a6a" stroke-width="0.8" />
<line x1="233.5" y1="78.87966666666665" x2="236.7" y2="78.87966666666665" stroke="#8a7a6a" stroke-width="0.8" />
<text x="235.1" y="77.87966666666665" font-size="6.5" text-anchor="middle" >*</text>
<text x="165.3" y="65.5" font-size="8.0" text-anchor="middle" transform="rotate(-90 165.3 65.5)" >IκBα MFI × 10<tspan baseline-shift="46%" font-size="70%">3</tspan></text>
<text x="186.2" y="102.3" font-size="6.5" text-anchor="middle" >0'</text>
<text x="195.5" y="102.3" font-size="6.5" text-anchor="middle" >20'</text>
<text x="204.8" y="102.3" font-size="6.5" text-anchor="middle" >40'</text>
<text x="216.5" y="102.3" font-size="6.5" text-anchor="middle" >0'</text>
<text x="226" y="102.3" font-size="6.5" text-anchor="middle" >20'</text>
<text x="235.1" y="102.3" font-size="6.5" text-anchor="middle" >40'</text>
<line x1="182.9" y1="104.6" x2="207.9" y2="104.6" stroke="#231f20" stroke-width="0.9" />
<line x1="213.6" y1="104.6" x2="239.6" y2="104.6" stroke="#231f20" stroke-width="0.9" />
<text x="195.4" y="112.8" font-size="7.1" text-anchor="middle" >LKS<tspan baseline-shift="46%" font-size="70%">+</tspan></text>
<text x="226.6" y="112.8" font-size="7.1" text-anchor="middle" >LKS<tspan baseline-shift="46%" font-size="70%">−</tspan></text>
<text x="226.6" y="120.6" font-size="7.1" text-anchor="middle" >CD34<tspan baseline-shift="46%" font-size="70%">+</tspan></text>
<text x="226.6" y="128.6" font-size="7.1" text-anchor="middle" >FcγR<tspan baseline-shift="46%" font-size="70%">+</tspan></text>
<defs>
<filter id="bl" x="-30%" y="-30%" width="160%" height="160%"><feGaussianBlur stdDeviation="0.45"/></filter>
<filter id="bl2" x="-30%" y="-30%" width="160%" height="160%"><feGaussianBlur stdDeviation="0.55"/></filter>
<radialGradient id="g1" cx="45%" cy="45%" r="55%"><stop offset="0%" stop-color="#3c9a34"/><stop offset="70%" stop-color="#46b03c"/><stop offset="90%" stop-color="#6cd45c"/><stop offset="100%" stop-color="#1a4a18"/></radialGradient>
<radialGradient id="g2" cx="50%" cy="50%" r="50%"><stop offset="0%" stop-color="#6ee05a"/><stop offset="75%" stop-color="#58d048"/><stop offset="92%" stop-color="#3fa838"/><stop offset="100%" stop-color="#143a12"/></radialGradient>
<radialGradient id="dp" cx="50%" cy="50%" r="50%"><stop offset="0%" stop-color="#3c38a2"/><stop offset="80%" stop-color="#37329a"/><stop offset="100%" stop-color="#221e66"/></radialGradient>
<radialGradient id="m1" cx="45%" cy="50%" r="55%"><stop offset="0%" stop-color="#3a68c8"/><stop offset="55%" stop-color="#3a78b8"/><stop offset="80%" stop-color="#4cb448"/><stop offset="100%" stop-color="#1a4a18"/></radialGradient>
<radialGradient id="m2" cx="50%" cy="50%" r="50%"><stop offset="0%" stop-color="#9ae8e0"/><stop offset="70%" stop-color="#70d8c0"/><stop offset="90%" stop-color="#48c060"/><stop offset="100%" stop-color="#143a12"/></radialGradient>
<radialGradient id="g3" cx="50%" cy="50%" r="50%"><stop offset="0%" stop-color="#1a4418"/><stop offset="70%" stop-color="#245e22"/><stop offset="100%" stop-color="#3a8a34"/></radialGradient>
<radialGradient id="m3" cx="50%" cy="50%" r="50%"><stop offset="0%" stop-color="#3848b0"/><stop offset="75%" stop-color="#3446a6"/><stop offset="100%" stop-color="#3a6a8a"/></radialGradient>
</defs>
<rect x="272" y="21" width="24.3" height="24" fill="#050a05" stroke="none" stroke-width="0.8" />
<rect x="272" y="47" width="24.3" height="24" fill="#07071a" stroke="none" stroke-width="0.8" />
<rect x="272" y="73" width="24.3" height="24" fill="#05080a" stroke="none" stroke-width="0.8" />
<rect x="298" y="21" width="24.3" height="24" fill="#050a05" stroke="none" stroke-width="0.8" />
<rect x="298" y="47" width="24.3" height="24" fill="#07071a" stroke="none" stroke-width="0.8" />
<rect x="298" y="73" width="24.3" height="24" fill="#05080a" stroke="none" stroke-width="0.8" />
<rect x="326" y="21" width="24.3" height="24" fill="#050a05" stroke="none" stroke-width="0.8" />
<rect x="326" y="47" width="24.3" height="24" fill="#07071a" stroke="none" stroke-width="0.8" />
<rect x="326" y="73" width="24.3" height="24" fill="#05080a" stroke="none" stroke-width="0.8" />
<rect x="352" y="21" width="24.3" height="24" fill="#050a05" stroke="none" stroke-width="0.8" />
<rect x="352" y="47" width="24.3" height="24" fill="#07071a" stroke="none" stroke-width="0.8" />
<rect x="352" y="73" width="24.3" height="24" fill="#05080a" stroke="none" stroke-width="0.8" />
<path d="M290.88,32.60 L290.78,33.59 L290.50,34.55 L290.06,35.44 L289.48,36.25 L288.79,36.95 L288.00,37.53 L287.14,37.99 L286.22,38.33 L285.27,38.54 L284.30,38.62 L283.32,38.57 L282.36,38.39 L281.42,38.07 L280.54,37.61 L279.73,37.02 L279.03,36.31 L278.46,35.48 L278.04,34.57 L277.79,33.60 L277.72,32.60 L277.82,31.61 L278.10,30.65 L278.54,29.76 L279.12,28.95 L279.81,28.25 L280.60,27.67 L281.46,27.21 L282.38,26.87 L283.33,26.66 L284.30,26.58 L285.28,26.63 L286.24,26.81 L287.18,27.13 L288.06,27.59 L288.87,28.18 L289.57,28.89 L290.14,29.72 L290.56,30.63 L290.81,31.60 Z" fill="url(#g1)" stroke="none" stroke-width="0" filter="url(#bl)"/>
<path d="M317.03,32.80 L316.91,33.83 L316.62,34.82 L316.16,35.74 L315.58,36.58 L314.88,37.31 L314.10,37.95 L313.24,38.49 L312.32,38.91 L311.33,39.20 L310.30,39.34 L309.25,39.31 L308.22,39.10 L307.24,38.71 L306.36,38.14 L305.59,37.44 L304.96,36.62 L304.47,35.72 L304.12,34.78 L303.91,33.80 L303.83,32.80 L303.87,31.80 L304.06,30.80 L304.40,29.84 L304.90,28.94 L305.55,28.12 L306.34,27.44 L307.25,26.90 L308.24,26.54 L309.26,26.36 L310.30,26.34 L311.32,26.47 L312.30,26.74 L313.24,27.12 L314.12,27.63 L314.92,28.25 L315.64,28.98 L316.23,29.82 L316.68,30.76 L316.95,31.76 Z" fill="url(#g2)" stroke="none" stroke-width="0" filter="url(#bl)"/>
<path d="M347.37,33.60 L346.88,35.01 L346.12,36.24 L345.25,37.30 L344.40,38.25 L343.57,39.17 L342.70,40.08 L341.72,40.90 L340.58,41.55 L339.32,41.96 L338.00,42.10 L336.67,42.02 L335.35,41.76 L334.06,41.33 L332.84,40.70 L331.76,39.84 L330.88,38.78 L330.22,37.56 L329.78,36.27 L329.47,34.95 L329.27,33.60 L329.19,32.21 L329.34,30.79 L329.81,29.43 L330.64,28.25 L331.76,27.36 L333.04,26.77 L334.34,26.41 L335.59,26.17 L336.79,25.97 L338.00,25.80 L339.25,25.73 L340.53,25.82 L341.81,26.12 L343.07,26.63 L344.27,27.33 L345.40,28.23 L346.38,29.33 L347.11,30.64 L347.46,32.10 Z" fill="url(#g3)" stroke="#74d068" stroke-width="1.1" filter="url(#bl)"/>
<path d="M372.48,34.60 L372.06,35.80 L371.44,36.87 L370.72,37.82 L369.99,38.69 L369.25,39.53 L368.46,40.36 L367.56,41.17 L366.51,41.87 L365.31,42.38 L364.00,42.65 L362.64,42.64 L361.31,42.37 L360.05,41.87 L358.91,41.18 L357.90,40.32 L357.08,39.32 L356.48,38.20 L356.13,37.00 L356.03,35.78 L356.16,34.60 L356.44,33.48 L356.82,32.41 L357.25,31.37 L357.75,30.34 L358.37,29.31 L359.16,28.34 L360.16,27.52 L361.35,26.94 L362.66,26.66 L364.00,26.68 L365.29,26.94 L366.50,27.36 L367.65,27.88 L368.76,28.45 L369.84,29.12 L370.86,29.92 L371.73,30.90 L372.33,32.06 L372.59,33.32 Z" fill="url(#g3)" stroke="#6cc860" stroke-width="1.0" filter="url(#bl)"/>
<path d="M289.86,58.90 L289.78,59.75 L289.53,60.57 L289.13,61.32 L288.63,61.99 L288.04,62.57 L287.38,63.07 L286.68,63.48 L285.93,63.82 L285.13,64.06 L284.30,64.20 L283.44,64.21 L282.59,64.06 L281.78,63.76 L281.04,63.31 L280.40,62.73 L279.89,62.04 L279.51,61.29 L279.25,60.51 L279.11,59.71 L279.06,58.90 L279.11,58.09 L279.25,57.29 L279.51,56.51 L279.89,55.76 L280.40,55.07 L281.04,54.49 L281.78,54.04 L282.59,53.74 L283.44,53.59 L284.30,53.60 L285.13,53.74 L285.93,53.98 L286.68,54.32 L287.38,54.73 L288.04,55.23 L288.63,55.81 L289.13,56.48 L289.53,57.23 L289.78,58.05 Z" fill="url(#dp)" stroke="none" stroke-width="0" filter="url(#bl2)"/>
<path d="M315.66,59.10 L315.58,59.94 L315.37,60.75 L315.01,61.50 L314.55,62.18 L313.98,62.78 L313.33,63.27 L312.62,63.65 L311.87,63.93 L311.09,64.09 L310.30,64.14 L309.51,64.09 L308.73,63.93 L307.98,63.65 L307.27,63.27 L306.62,62.78 L306.05,62.18 L305.59,61.50 L305.23,60.75 L305.02,59.94 L304.94,59.10 L305.02,58.26 L305.23,57.45 L305.59,56.70 L306.05,56.02 L306.62,55.42 L307.27,54.93 L307.98,54.55 L308.73,54.27 L309.51,54.11 L310.30,54.06 L311.09,54.11 L311.87,54.27 L312.62,54.55 L313.33,54.93 L313.98,55.42 L314.55,56.02 L315.01,56.70 L315.37,57.45 L315.58,58.26 Z" fill="url(#dp)" stroke="none" stroke-width="0" filter="url(#bl2)"/>
<path d="M346.65,59.40 L346.33,60.70 L345.79,61.90 L345.08,62.96 L344.27,63.90 L343.39,64.73 L342.46,65.46 L341.46,66.11 L340.39,66.66 L339.23,67.07 L338.00,67.30 L336.73,67.32 L335.47,67.10 L334.27,66.64 L333.17,65.97 L332.21,65.12 L331.40,64.14 L330.74,63.05 L330.23,61.89 L329.88,60.67 L329.70,59.40 L329.73,58.11 L329.99,56.83 L330.49,55.62 L331.22,54.54 L332.16,53.63 L333.25,52.94 L334.42,52.46 L335.62,52.18 L336.82,52.05 L338.00,52.04 L339.17,52.11 L340.35,52.27 L341.54,52.54 L342.73,52.97 L343.89,53.58 L344.93,54.42 L345.79,55.48 L346.39,56.71 L346.68,58.04 Z" fill="url(#dp)" stroke="none" stroke-width="0" filter="url(#bl2)"/>
<path d="M367.56,60.20 L367.47,61.26 L367.23,62.28 L366.85,63.21 L366.37,64.04 L365.80,64.77 L365.17,65.39 L364.49,65.91 L363.77,66.32 L363.00,66.63 L362.20,66.80 L361.38,66.81 L360.55,66.63 L359.77,66.25 L359.06,65.69 L358.45,64.97 L357.95,64.12 L357.59,63.18 L357.34,62.20 L357.20,61.20 L357.16,60.20 L357.20,59.20 L357.34,58.20 L357.59,57.22 L357.95,56.28 L358.45,55.43 L359.06,54.71 L359.77,54.15 L360.55,53.77 L361.38,53.59 L362.20,53.60 L363.00,53.77 L363.77,54.08 L364.49,54.49 L365.17,55.01 L365.80,55.63 L366.37,56.36 L366.85,57.19 L367.23,58.12 L367.47,59.14 Z" fill="#38339a" stroke="none" stroke-width="0" filter="url(#bl2)"/>
<path d="M371.68,60.00 L371.55,61.05 L371.29,62.05 L370.93,62.97 L370.48,63.82 L369.97,64.60 L369.39,65.29 L368.73,65.90 L368.01,66.38 L367.23,66.72 L366.40,66.87 L365.56,66.82 L364.75,66.55 L363.99,66.09 L363.32,65.46 L362.75,64.71 L362.27,63.86 L361.89,62.96 L361.60,62.01 L361.40,61.02 L361.28,60.00 L361.28,58.96 L361.40,57.91 L361.66,56.89 L362.07,55.95 L362.62,55.12 L363.27,54.45 L364.01,53.96 L364.80,53.64 L365.60,53.48 L366.40,53.47 L367.19,53.58 L367.96,53.81 L368.71,54.15 L369.43,54.62 L370.10,55.23 L370.69,55.99 L371.16,56.87 L371.49,57.87 L371.67,58.92 Z" fill="#38339a" stroke="none" stroke-width="0" filter="url(#bl2)"/>
<path d="M290.99,84.60 L290.88,85.61 L290.59,86.58 L290.15,87.49 L289.56,88.30 L288.86,89.02 L288.05,89.61 L287.18,90.08 L286.25,90.42 L285.29,90.64 L284.30,90.72 L283.31,90.67 L282.33,90.48 L281.38,90.16 L280.48,89.69 L279.66,89.09 L278.95,88.37 L278.37,87.53 L277.94,86.60 L277.69,85.62 L277.61,84.60 L277.72,83.59 L278.01,82.62 L278.45,81.71 L279.04,80.90 L279.74,80.18 L280.55,79.59 L281.42,79.12 L282.35,78.78 L283.31,78.56 L284.30,78.48 L285.29,78.53 L286.27,78.72 L287.22,79.04 L288.12,79.51 L288.94,80.11 L289.65,80.83 L290.23,81.67 L290.66,82.60 L290.91,83.58 Z" fill="url(#m1)" stroke="none" stroke-width="0" filter="url(#bl)"/>
<path d="M317.03,84.80 L316.91,85.83 L316.62,86.82 L316.16,87.74 L315.58,88.58 L314.88,89.31 L314.10,89.95 L313.24,90.49 L312.32,90.91 L311.33,91.20 L310.30,91.34 L309.25,91.31 L308.22,91.10 L307.24,90.71 L306.36,90.14 L305.59,89.44 L304.96,88.62 L304.47,87.72 L304.12,86.78 L303.91,85.80 L303.83,84.80 L303.87,83.80 L304.06,82.80 L304.40,81.84 L304.90,80.94 L305.55,80.12 L306.34,79.44 L307.25,78.90 L308.24,78.54 L309.26,78.36 L310.30,78.34 L311.32,78.47 L312.30,78.74 L313.24,79.12 L314.12,79.63 L314.92,80.25 L315.64,80.98 L316.23,81.82 L316.68,82.76 L316.95,83.76 Z" fill="url(#m2)" stroke="none" stroke-width="0" filter="url(#bl)"/>
<path d="M347.48,85.60 L346.98,87.02 L346.21,88.27 L345.34,89.34 L344.47,90.30 L343.64,91.24 L342.76,92.15 L341.76,92.99 L340.61,93.65 L339.34,94.05 L338.00,94.20 L336.65,94.11 L335.32,93.85 L334.02,93.42 L332.78,92.78 L331.69,91.91 L330.79,90.84 L330.13,89.61 L329.68,88.30 L329.37,86.97 L329.17,85.60 L329.09,84.19 L329.24,82.75 L329.72,81.38 L330.55,80.19 L331.69,79.29 L332.98,78.69 L334.29,78.32 L335.56,78.08 L336.78,77.88 L338.00,77.71 L339.26,77.64 L340.56,77.73 L341.86,78.03 L343.13,78.55 L344.34,79.26 L345.48,80.16 L346.48,81.28 L347.22,82.61 L347.57,84.08 Z" fill="url(#m3)" stroke="#5cc050" stroke-width="1.0" filter="url(#bl)"/>
<path d="M372.59,86.40 L372.16,87.62 L371.53,88.70 L370.81,89.66 L370.06,90.54 L369.31,91.39 L368.51,92.24 L367.61,93.05 L366.54,93.76 L365.33,94.28 L364.00,94.55 L362.63,94.54 L361.28,94.27 L360.01,93.77 L358.85,93.07 L357.83,92.20 L357.00,91.18 L356.39,90.05 L356.03,88.83 L355.94,87.60 L356.06,86.40 L356.35,85.26 L356.73,84.18 L357.17,83.13 L357.67,82.08 L358.30,81.04 L359.10,80.06 L360.11,79.23 L361.32,78.64 L362.64,78.35 L364.00,78.37 L365.31,78.64 L366.53,79.07 L367.69,79.59 L368.81,80.17 L369.91,80.85 L370.94,81.66 L371.82,82.66 L372.43,83.82 L372.70,85.11 Z" fill="url(#m3)" stroke="#58b84c" stroke-width="0.9" filter="url(#bl)"/>
<rect x="274.3" y="93.9" width="6.4" height="1.3" fill="#fff" stroke="none" stroke-width="0.8" />
<text x="268.6" y="33" font-size="7.0" text-anchor="middle" fill="#78c468" transform="rotate(-90 268.6 33)" >p65</text>
<text x="268.6" y="59" font-size="7.0" text-anchor="middle" fill="#5252b4" transform="rotate(-90 268.6 59)" >DAPI</text>
<text x="268.6" y="84.5" font-size="7.0" text-anchor="middle" fill="#333" transform="rotate(-90 268.6 84.5)" >merge</text>
<text x="284.2" y="105.5" font-size="6.8" text-anchor="middle" >Ø</text>
<text x="284.2" y="113.1" font-size="6.8" text-anchor="middle" >(3h)</text>
<text x="310.2" y="105.5" font-size="6.8" text-anchor="middle" >+GM</text>
<text x="310.2" y="113.1" font-size="6.8" text-anchor="middle" >(3h)</text>
<text x="338" y="105.5" font-size="6.8" text-anchor="middle" >Ø</text>
<text x="338" y="113.1" font-size="6.8" text-anchor="middle" >(3h)</text>
<text x="364" y="105.5" font-size="6.8" text-anchor="middle" >+GM</text>
<text x="364" y="113.1" font-size="6.8" text-anchor="middle" >(3h)</text>
<line x1="272.5" y1="116.6" x2="322.3" y2="116.6" stroke="#231f20" stroke-width="0.9" />
<line x1="326.3" y1="116.6" x2="376.2" y2="116.6" stroke="#231f20" stroke-width="0.9" />
<text x="297.3" y="126.3" font-size="6.8" text-anchor="middle" >LKS<tspan baseline-shift="46%" font-size="70%">+</tspan></text>
<text x="351.3" y="126.3" font-size="6.8" text-anchor="middle" >LKS<tspan baseline-shift="46%" font-size="70%">−</tspan> CD34<tspan baseline-shift="46%" font-size="70%">+</tspan></text>
<text x="351.3" y="134" font-size="6.8" text-anchor="middle" >FcγR<tspan baseline-shift="46%" font-size="70%">+</tspan></text>
<line x1="425.2" y1="22" x2="425.2" y2="104.6" stroke="#231f20" stroke-width="0.9" />
<line x1="424.5" y1="104.6" x2="512" y2="104.6" stroke="#231f20" stroke-width="0.9" />
<line x1="423.2" y1="104.6" x2="425.2" y2="104.6" stroke="#231f20" stroke-width="0.8" />
<text x="421.2" y="106.8" font-size="6.6" text-anchor="end" >0</text>
<line x1="423.2" y1="77.39999999999999" x2="425.2" y2="77.39999999999999" stroke="#231f20" stroke-width="0.8" />
<text x="421.2" y="79.6" font-size="6.6" text-anchor="end" >1</text>
<line x1="423.2" y1="50.199999999999996" x2="425.2" y2="50.199999999999996" stroke="#231f20" stroke-width="0.8" />
<text x="421.2" y="52.4" font-size="6.6" text-anchor="end" >2</text>
<line x1="423.2" y1="23.0" x2="425.2" y2="23.0" stroke="#231f20" stroke-width="0.8" />
<text x="421.2" y="25.2" font-size="6.6" text-anchor="end" >3</text>
<text x="399.6" y="62" font-size="7.9" text-anchor="middle" textLength="55.5" lengthAdjust="spacingAndGlyphs" transform="rotate(-90 399.6 62)" >Nuclear p65 mean</text>
<text x="408.9" y="61.4" font-size="7.9" text-anchor="middle" textLength="68.5" lengthAdjust="spacingAndGlyphs" transform="rotate(-90 408.9 61.4)" >fluorescence AU × 10<tspan baseline-shift="46%" font-size="70%">5</tspan></text>
<path d="M438.50,54.00 L438.15,62.00 L437.70,70.00 L437.00,74.00 L435.50,77.00 L433.70,78.70 L432.20,81.00 L431.20,84.70 L431.90,88.40 L434.00,90.50 L436.00,93.00 L437.30,95.50 L438.50,98.00 L438.50,98.00 L439.70,95.50 L441.00,93.00 L443.00,90.50 L445.10,88.40 L445.80,84.70 L444.80,81.00 L443.30,78.70 L441.50,77.00 L440.00,74.00 L439.30,70.00 L438.85,62.00 L438.50,54.00 Z" fill="#f7bd7e" stroke="none" stroke-width="0.8" />
<path d="M458.80,33.00 L458.50,38.00 L457.80,45.00 L456.80,50.00 L455.00,54.00 L453.20,57.00 L451.60,60.00 L450.90,61.80 L451.00,65.00 L452.20,68.00 L453.60,71.00 L454.50,74.00 L454.80,76.70 L454.90,80.00 L454.00,83.00 L452.00,85.80 L450.80,88.50 L451.20,91.00 L453.30,93.50 L455.80,96.00 L458.80,99.50 L458.80,99.50 L461.80,96.00 L464.30,93.50 L466.40,91.00 L466.80,88.50 L465.60,85.80 L463.60,83.00 L462.70,80.00 L462.80,76.70 L463.10,74.00 L464.00,71.00 L465.40,68.00 L466.60,65.00 L466.70,61.80 L466.00,60.00 L464.40,57.00 L462.60,54.00 L460.80,50.00 L459.80,45.00 L459.10,38.00 L458.80,33.00 Z" fill="#f7bd7e" stroke="none" stroke-width="0.8" />
<path d="M479.00,40.00 L478.75,55.00 L478.50,65.00 L477.90,71.00 L476.80,75.00 L476.10,77.40 L475.40,81.00 L474.20,85.00 L472.70,88.00 L471.90,90.40 L472.00,93.00 L473.70,95.00 L476.00,97.00 L479.00,99.00 L479.00,99.00 L482.00,97.00 L484.30,95.00 L486.00,93.00 L486.10,90.40 L485.30,88.00 L483.80,85.00 L482.60,81.00 L481.90,77.40 L481.20,75.00 L480.10,71.00 L479.50,65.00 L479.25,55.00 L479.00,40.00 Z" fill="#d9dfc6" stroke="none" stroke-width="0.8" />
<path d="M499.00,45.00 L498.80,60.00 L498.60,72.00 L498.20,80.00 L497.30,84.00 L496.90,85.80 L495.40,89.00 L493.40,92.00 L491.50,95.30 L491.90,97.20 L494.80,99.00 L499.00,100.50 L499.00,100.50 L503.20,99.00 L506.10,97.20 L506.50,95.30 L504.60,92.00 L502.60,89.00 L501.10,85.80 L500.70,84.00 L499.80,80.00 L499.40,72.00 L499.20,60.00 L499.00,45.00 Z" fill="#d9dfc6" stroke="none" stroke-width="0.8" />
<line x1="431.5" y1="84.7" x2="445.5" y2="84.7" stroke="#4a2e0a" stroke-width="1.2" />
<line x1="434.0" y1="78.7" x2="443.0" y2="78.7" stroke="#4a2e0a" stroke-width="1.2" stroke-dasharray="1,0.9"/>
<line x1="432.2" y1="88.4" x2="444.8" y2="88.4" stroke="#4a2e0a" stroke-width="1.2" stroke-dasharray="1,0.9"/>
<line x1="451.2" y1="61.8" x2="466.40000000000003" y2="61.8" stroke="#4a2e0a" stroke-width="1.2" />
<line x1="455.1" y1="76.7" x2="462.5" y2="76.7" stroke="#4a2e0a" stroke-width="1.2" />
<line x1="452.3" y1="85.8" x2="465.3" y2="85.8" stroke="#4a2e0a" stroke-width="1.2" stroke-dasharray="1,0.9"/>
<line x1="472.2" y1="90.4" x2="485.8" y2="90.4" stroke="#2e3a18" stroke-width="1.2" />
<line x1="476.4" y1="77.4" x2="481.6" y2="77.4" stroke="#2e3a18" stroke-width="1.2" stroke-dasharray="1,0.9"/>
<line x1="472.3" y1="93" x2="485.7" y2="93" stroke="#2e3a18" stroke-width="1.2" stroke-dasharray="1,0.9"/>
<line x1="491.8" y1="95.3" x2="506.2" y2="95.3" stroke="#2e3a18" stroke-width="1.2" />
<line x1="497.2" y1="85.8" x2="500.8" y2="85.8" stroke="#2e3a18" stroke-width="1.2" stroke-dasharray="1,0.9"/>
<line x1="492.2" y1="97.2" x2="505.8" y2="97.2" stroke="#2e3a18" stroke-width="1.2" stroke-dasharray="1,0.9"/>
<circle cx="458.8" cy="25.5" r="0.6" fill="#333"/>
<circle cx="458.8" cy="27.5" r="0.6" fill="#333"/>
<circle cx="458.8" cy="29.5" r="0.6" fill="#333"/>
<circle cx="499" cy="33.2" r="0.8" fill="#333"/>
<line x1="438.5" y1="104.6" x2="438.5" y2="107" stroke="#231f20" stroke-width="0.8" />
<line x1="458.8" y1="104.6" x2="458.8" y2="107" stroke="#231f20" stroke-width="0.8" />
<line x1="479" y1="104.6" x2="479" y2="107" stroke="#231f20" stroke-width="0.8" />
<line x1="499" y1="104.6" x2="499" y2="107" stroke="#231f20" stroke-width="0.8" />
<text x="438" y="116.3" font-size="6.8" text-anchor="middle" >Ø</text>
<text x="459.5" y="116.3" font-size="6.8" text-anchor="middle" >GM</text>
<text x="479" y="116.3" font-size="6.8" text-anchor="middle" >Ø</text>
<text x="499" y="116.3" font-size="6.8" text-anchor="middle" >GM</text>
<line x1="432.5" y1="118.5" x2="466" y2="118.5" stroke="#231f20" stroke-width="0.9" />
<line x1="474.6" y1="118.5" x2="505.7" y2="118.5" stroke="#231f20" stroke-width="0.9" />
<text x="449" y="127" font-size="6.5" text-anchor="middle" >LKS<tspan baseline-shift="46%" font-size="70%">+</tspan></text>
<text x="490" y="127" font-size="6.5" text-anchor="middle" >LKS<tspan baseline-shift="46%" font-size="70%">−</tspan> CD34<tspan baseline-shift="46%" font-size="70%">+</tspan></text>
<text x="490" y="134.6" font-size="6.5" text-anchor="middle" >FcγR<tspan baseline-shift="46%" font-size="70%">+</tspan></text>
<circle cx="31.4" cy="197.3" r="4.1" fill="#fff" stroke="#111" stroke-width="1.2"/>
<circle cx="31.3" cy="197.3" r="2.4" fill="#111"/>
<text x="31.5" y="211" font-size="6.5" text-anchor="middle" >LKS<tspan baseline-shift="46%" font-size="70%">+</tspan></text>
<line x1="37" y1="196.8" x2="155" y2="196.8" stroke="#3a3a3a" stroke-width="1.2" />
<path d="M154.5,194.6 L158.5,196.8 L154.5,199 Z" fill="#231f20" stroke="none" stroke-width="0.8" />
<line x1="37.2" y1="194.0" x2="37.2" y2="199.6" stroke="#3a3a3a" stroke-width="1.2" />
<line x1="56.3" y1="194.0" x2="56.3" y2="199.6" stroke="#3a3a3a" stroke-width="1.2" />
<line x1="85.8" y1="194.0" x2="85.8" y2="199.6" stroke="#3a3a3a" stroke-width="1.2" />
<text x="38.2" y="191.3" font-size="6.6" text-anchor="middle" >−1h</text>
<text x="56.5" y="191.3" font-size="6.6" text-anchor="middle" >t0</text>
<text x="86.5" y="183.5" font-size="6.6" text-anchor="middle" >wash</text>
<text x="86.5" y="191.3" font-size="6.6" text-anchor="middle" >24h</text>
<text x="124.3" y="191.4" font-size="6.6" text-anchor="middle" >+M-CSF</text>
<text x="123.5" y="206.3" font-size="6.6" text-anchor="middle" >8 days</text>
<text x="71" y="206.2" font-size="6.8" text-anchor="middle" fill="#5cb8e4" >M</text>
<line x1="56.3" y1="207.3" x2="85.8" y2="207.3" stroke="#5cb8e4" stroke-width="0.9" />
<line x1="56.3" y1="205.8" x2="56.3" y2="208.8" stroke="#5cb8e4" stroke-width="0.9" />
<line x1="85.8" y1="205.8" x2="85.8" y2="208.8" stroke="#5cb8e4" stroke-width="0.9" />
<text x="71" y="215.6" font-size="6.8" text-anchor="middle" fill="#c8303f" >M+GM</text>
<line x1="56.3" y1="217.4" x2="85.8" y2="217.4" stroke="#c8303f" stroke-width="0.9" />
<line x1="56.3" y1="215.9" x2="56.3" y2="218.9" stroke="#c8303f" stroke-width="0.9" />
<line x1="85.8" y1="215.9" x2="85.8" y2="218.9" stroke="#c8303f" stroke-width="0.9" />
<text x="61.5" y="226.6" font-size="6.8" text-anchor="middle" fill="#80709a" >±inhibitor</text>
<line x1="37.2" y1="229.2" x2="85.8" y2="229.2" stroke="#80709a" stroke-width="0.9" />
<line x1="37.2" y1="227.7" x2="37.2" y2="230.7" stroke="#80709a" stroke-width="0.9" />
<line x1="85.8" y1="227.7" x2="85.8" y2="230.7" stroke="#80709a" stroke-width="0.9" />
<path d="M160.20,196.40 L165.20,193.80 L164.30,189.20 L169.20,191.20 L172.80,188.00 L173.40,192.60 L179.00,193.90 L174.00,196.30 L175.20,200.60 L169.50,198.60 L163.20,200.80 L164.60,197.60 Z" fill="#fff" stroke="#111" stroke-width="1.0" stroke-linejoin="round"/>
<ellipse cx="169.4" cy="194.8" rx="3" ry="2.1" fill="#111"/>
<text x="169.3" y="209" font-size="6.8" text-anchor="middle" >mϕ</text>
<text x="169.5" y="216.6" font-size="6.8" text-anchor="middle" >cytokine</text>
<text x="169.5" y="224.1" font-size="6.8" text-anchor="middle" >production</text>
<line x1="47.6" y1="264.7" x2="47.6" y2="322.5" stroke="#231f20" stroke-width="1.1" />
<line x1="45.6" y1="322.5" x2="84.6" y2="322.5" stroke="#231f20" stroke-width="1.1" />
<line x1="45.6" y1="265.7" x2="47.6" y2="265.7" stroke="#231f20" stroke-width="0.8" />
<text x="43.6" y="267.9" font-size="6.3" text-anchor="end" >2</text>
<line x1="45.6" y1="279.9" x2="47.6" y2="279.9" stroke="#231f20" stroke-width="0.8" />
<line x1="45.6" y1="294.1" x2="47.6" y2="294.1" stroke="#231f20" stroke-width="0.8" />
<text x="43.6" y="296.3" font-size="6.3" text-anchor="end" >1</text>
<line x1="45.6" y1="308.3" x2="47.6" y2="308.3" stroke="#231f20" stroke-width="0.8" />
<line x1="45.6" y1="322.5" x2="47.6" y2="322.5" stroke="#231f20" stroke-width="0.8" />
<text x="43.6" y="324.7" font-size="6.3" text-anchor="end" >0</text>
<rect x="51.7" y="282.74" width="7.099999999999994" height="39.75999999999999" fill="#a9cfee" stroke="none" stroke-width="0.8" />
<line x1="55.25" y1="282.74" x2="55.25" y2="280.46799999999996" stroke="#6d8aa8" stroke-width="0.9" />
<line x1="53.45" y1="280.46799999999996" x2="57.05" y2="280.46799999999996" stroke="#6d8aa8" stroke-width="0.9" />
<rect x="59.5" y="296.94" width="7.200000000000003" height="25.560000000000002" fill="#e8907e" stroke="none" stroke-width="0.8" />
<line x1="63.1" y1="296.94" x2="63.1" y2="296.08799999999997" stroke="#a86a5c" stroke-width="0.9" />
<line x1="61.300000000000004" y1="296.08799999999997" x2="64.9" y2="296.08799999999997" stroke="#a86a5c" stroke-width="0.9" />
<rect x="67.2" y="279.9" width="7.099999999999994" height="42.60000000000002" fill="#2b9ad8" stroke="none" stroke-width="0.8" />
<line x1="70.75" y1="279.9" x2="70.75" y2="279.048" stroke="#2a6a98" stroke-width="0.9" />
<line x1="68.95" y1="279.048" x2="72.55" y2="279.048" stroke="#2a6a98" stroke-width="0.9" />
<rect x="74.7" y="289.556" width="7.099999999999994" height="32.94400000000002" fill="#c30f2d" stroke="none" stroke-width="0.8" />
<line x1="78.25" y1="289.556" x2="78.25" y2="288.42" stroke="#8a1020" stroke-width="0.9" />
<line x1="76.45" y1="288.42" x2="80.05" y2="288.42" stroke="#8a1020" stroke-width="0.9" />
<line x1="53.8" y1="272.8" x2="66.7" y2="272.8" stroke="#231f20" stroke-width="0.7" />
<text x="61.0" y="274.5" font-size="6.4" text-anchor="middle" letter-spacing="1.5">***</text>
<line x1="61.9" y1="267.6" x2="81.5" y2="267.6" stroke="#231f20" stroke-width="0.7" />
<text x="72.45" y="269.3" font-size="6.4" text-anchor="middle" letter-spacing="1.5">**</text>
<line x1="70.8" y1="272.8" x2="79.7" y2="272.8" stroke="#231f20" stroke-width="0.7" />
<text x="76.0" y="274.5" font-size="6.4" text-anchor="middle" letter-spacing="1.5">**</text>
<text x="33.3" y="292.5" font-size="7.3" text-anchor="middle" transform="rotate(-90 33.3 292.5)" >TNF-α (ng/mL)</text>
<line x1="120.4" y1="265.1" x2="120.4" y2="322.5" stroke="#231f20" stroke-width="1.1" />
<line x1="118.4" y1="322.5" x2="153.7" y2="322.5" stroke="#231f20" stroke-width="1.1" />
<line x1="118.4" y1="266.1" x2="120.4" y2="266.1" stroke="#231f20" stroke-width="0.8" />
<text x="116.4" y="268.3" font-size="6.3" text-anchor="end" >15</text>
<line x1="118.4" y1="284.90000000000003" x2="120.4" y2="284.90000000000003" stroke="#231f20" stroke-width="0.8" />
<text x="116.4" y="287.1" font-size="6.3" text-anchor="end" >10</text>
<line x1="118.4" y1="303.7" x2="120.4" y2="303.7" stroke="#231f20" stroke-width="0.8" />
<text x="116.4" y="305.9" font-size="6.3" text-anchor="end" >5</text>
<line x1="118.4" y1="322.5" x2="120.4" y2="322.5" stroke="#231f20" stroke-width="0.8" />
<text x="116.4" y="324.7" font-size="6.3" text-anchor="end" >0</text>
<rect x="123.3" y="288.66" width="6.8999999999999915" height="33.839999999999975" fill="#a9cfee" stroke="none" stroke-width="0.8" />
<line x1="126.75" y1="288.66" x2="126.75" y2="286.028" stroke="#6d8aa8" stroke-width="0.9" />
<line x1="124.95" y1="286.028" x2="128.55" y2="286.028" stroke="#6d8aa8" stroke-width="0.9" />
<rect x="130.7" y="303.7" width="7.0" height="18.80000000000001" fill="#e8907e" stroke="none" stroke-width="0.8" />
<line x1="134.2" y1="303.7" x2="134.2" y2="300.31600000000003" stroke="#a86a5c" stroke-width="0.9" />
<line x1="132.39999999999998" y1="300.31600000000003" x2="136.0" y2="300.31600000000003" stroke="#a86a5c" stroke-width="0.9" />
<rect x="138.1" y="284.90000000000003" width="6.700000000000017" height="37.599999999999966" fill="#2b9ad8" stroke="none" stroke-width="0.8" />
<line x1="141.45" y1="284.90000000000003" x2="141.45" y2="284.524" stroke="#2a6a98" stroke-width="0.9" />
<line x1="139.64999999999998" y1="284.524" x2="143.25" y2="284.524" stroke="#2a6a98" stroke-width="0.9" />
<rect x="145.8" y="292.42" width="6.699999999999989" height="30.079999999999984" fill="#c30f2d" stroke="none" stroke-width="0.8" />
<line x1="149.15" y1="292.42" x2="149.15" y2="290.164" stroke="#8a1020" stroke-width="0.9" />
<line x1="147.35" y1="290.164" x2="150.95000000000002" y2="290.164" stroke="#8a1020" stroke-width="0.9" />
<line x1="126.5" y1="281.2" x2="138" y2="281.2" stroke="#231f20" stroke-width="0.7" />
<text x="133.0" y="282.9" font-size="6.4" text-anchor="middle" letter-spacing="1.5">***</text>
<line x1="134" y1="274.3" x2="151.7" y2="274.3" stroke="#231f20" stroke-width="0.7" />
<text x="143.6" y="276.0" font-size="6.4" text-anchor="middle" letter-spacing="1.5">***</text>
<line x1="141.9" y1="281.2" x2="151.7" y2="281.2" stroke="#231f20" stroke-width="0.7" />
<text x="147.55" y="282.9" font-size="6.4" text-anchor="middle" letter-spacing="1.5">**</text>
<text x="101.6" y="292.3" font-size="7.3" text-anchor="middle" transform="rotate(-90 101.6 292.3)" >IL-6 (ng/mL)</text>
<text x="66.5" y="331" font-size="6.6" text-anchor="middle" >LPS</text>
<text x="137.5" y="331" font-size="6.6" text-anchor="middle" >LPS</text>
<line x1="48.8" y1="334.6" x2="156.7" y2="334.6" stroke="#231f20" stroke-width="0.9" />
<text x="102.2" y="343.2" font-size="6.7" text-anchor="middle" >LKS<tspan baseline-shift="46%" font-size="70%">+</tspan>-derived mϕ</text>
<rect x="165.5" y="276.3" width="6.6" height="6.4" fill="#a9cfee" stroke="none" stroke-width="0.8" />
<text x="175.2" y="282.0" font-size="6.8" >M-CSF</text>
<rect x="165.5" y="287.6" width="6.6" height="6.4" fill="#e8907e" stroke="none" stroke-width="0.8" />
<text x="175.2" y="293.3" font-size="6.8" >M+GM-CSF</text>
<rect x="165.5" y="298.3" width="6.6" height="6.4" fill="#2b9ad8" stroke="none" stroke-width="0.8" />
<text x="175.2" y="304.0" font-size="6.8" >M+BMS</text>
<rect x="165.5" y="309.2" width="6.6" height="6.4" fill="#c30f2d" stroke="none" stroke-width="0.8" />
<text x="175.2" y="314.9" font-size="6.8" >M+GM+BMS</text>
<text x="314" y="166.2" font-size="8.65" >LKS<tspan baseline-shift="46%" font-size="70%">+</tspan>-derived mϕ (LPS-stimulated)</text>
<line x1="259.2" y1="170" x2="515.8" y2="170" stroke="#231f20" stroke-width="1" />
<path d="M271.55,231.36 L271.00,231.35 L270.30,231.25 L269.78,231.10 L269.21,230.85 L268.80,230.60 L268.30,230.15 L268.05,229.80 L267.80,229.17 L267.77,228.60 L267.89,228.10 L268.16,227.60 L268.55,227.15 L268.87,226.85 L269.30,226.46 L269.63,226.10 L269.87,225.60 L269.91,224.85 L269.80,224.11 L269.71,223.60 L269.59,222.85 L269.53,222.35 L269.45,221.60 L269.38,220.85 L269.33,220.10 L269.28,219.60 L269.21,218.85 L269.13,218.10 L269.05,217.52 L268.93,216.85 L268.80,216.24 L268.61,215.60 L268.42,215.10 L268.20,214.60 L267.93,214.10 L267.63,213.60 L267.32,213.10 L267.05,212.65 L266.80,212.19 L266.55,211.67 L266.31,211.10 L266.13,210.60 L265.98,210.10 L265.80,209.35 L265.70,208.85 L265.58,208.10 L265.52,207.60 L265.44,206.85 L265.37,206.10 L265.31,205.35 L265.28,204.85 L265.23,204.10 L265.20,203.35 L265.21,202.60 L265.25,201.85 L265.30,201.35 L265.42,200.60 L265.55,200.06 L265.77,199.35 L265.97,198.85 L266.21,198.35 L266.50,197.85 L266.80,197.42 L267.06,197.10 L267.53,196.60 L267.81,196.35 L268.30,195.98 L268.80,195.67 L269.30,195.43 L269.80,195.25 L270.42,195.10 L271.05,195.01 L271.80,195.02 L272.38,195.10 L273.05,195.26 L273.55,195.45 L274.05,195.70 L274.55,196.01 L274.99,196.35 L275.30,196.63 L275.74,197.10 L276.05,197.49 L276.30,197.86 L276.59,198.35 L276.83,198.85 L277.05,199.41 L277.26,200.10 L277.38,200.60 L277.50,201.35 L277.55,201.86 L277.59,202.60 L277.59,203.35 L277.57,204.10 L277.54,204.60 L277.49,205.35 L277.43,206.10 L277.36,206.85 L277.30,207.42 L277.22,208.10 L277.10,208.85 L277.00,209.35 L276.81,210.10 L276.67,210.60 L276.49,211.10 L276.28,211.60 L276.05,212.10 L275.78,212.60 L275.48,213.10 L275.17,213.60 L274.87,214.10 L274.60,214.60 L274.38,215.10 L274.19,215.60 L274.04,216.10 L273.87,216.85 L273.78,217.35 L273.68,218.10 L273.59,218.85 L273.54,219.35 L273.48,220.10 L273.42,220.85 L273.35,221.60 L273.29,222.10 L273.21,222.85 L273.09,223.60 L273.00,224.10 L272.89,224.85 L272.91,225.60 L273.11,226.10 L273.53,226.60 L273.80,226.87 L274.26,227.35 L274.55,227.77 L274.79,228.35 L274.85,228.85 L274.76,229.35 L274.53,229.85 L274.11,230.35 L273.80,230.60 L273.30,230.90 L272.80,231.11 L272.05,231.30 L271.55,231.36Z " fill="#25207e" stroke="none" stroke-width="0.8" />
<path d="M271.55,224.57 L271.02,224.35 L270.75,223.85 L270.55,223.25 L270.41,222.60 L270.30,221.89 L270.24,221.35 L270.19,220.60 L270.14,219.85 L270.10,219.10 L270.05,218.35 L270.01,217.85 L269.93,217.10 L269.83,216.35 L269.74,215.85 L269.58,215.10 L269.44,214.60 L269.28,214.10 L269.05,213.49 L268.80,212.94 L268.55,212.44 L268.30,211.97 L268.05,211.49 L267.80,210.97 L267.55,210.38 L267.35,209.85 L267.20,209.35 L267.05,208.76 L266.91,208.10 L266.80,207.47 L266.70,206.85 L266.60,206.10 L266.54,205.60 L266.45,204.85 L266.38,204.10 L266.34,203.35 L266.33,202.60 L266.36,201.85 L266.46,201.10 L266.56,200.60 L266.79,199.85 L266.99,199.35 L267.24,198.85 L267.55,198.37 L267.80,198.04 L268.21,197.60 L268.55,197.30 L269.05,196.94 L269.55,196.67 L270.05,196.48 L270.55,196.35 L271.30,196.26 L272.05,196.31 L272.55,196.42 L273.08,196.60 L273.59,196.85 L274.05,197.14 L274.55,197.56 L274.83,197.85 L275.24,198.35 L275.55,198.84 L275.80,199.33 L276.01,199.85 L276.18,200.35 L276.30,200.89 L276.41,201.60 L276.47,202.35 L276.47,203.10 L276.44,203.85 L276.37,204.60 L276.30,205.26 L276.23,205.85 L276.13,206.60 L276.05,207.15 L275.94,207.85 L275.80,208.54 L275.67,209.10 L275.52,209.60 L275.30,210.25 L275.05,210.85 L274.82,211.35 L274.56,211.85 L274.30,212.35 L274.05,212.84 L273.81,213.35 L273.61,213.85 L273.44,214.35 L273.29,214.85 L273.11,215.60 L273.02,216.10 L272.90,216.85 L272.81,217.60 L272.77,218.10 L272.71,218.85 L272.67,219.60 L272.63,220.35 L272.58,221.10 L272.53,221.60 L272.44,222.35 L272.30,223.05 L272.14,223.60 L271.92,224.10 L271.55,224.57Z M272.05,230.39 L271.30,230.49 L270.55,230.39 L270.05,230.21 L269.55,229.89 L269.27,229.60 L269.02,229.10 L269.05,228.36 L269.30,227.88 L269.55,227.59 L270.05,227.14 L270.43,226.85 L270.80,226.59 L271.55,226.39 L272.05,226.67 L272.55,227.07 L272.87,227.35 L273.30,227.84 L273.55,228.32 L273.63,228.85 L273.49,229.35 L273.11,229.85 L272.77,230.10 L272.20,230.35Z " fill="#2c50c8" stroke="none" stroke-width="0.8" />
<path d="M271.30,221.41 L271.15,220.85 L271.05,220.10 L271.03,219.60 L271.00,218.85 L270.96,218.10 L270.87,217.35 L270.78,216.85 L270.65,216.10 L270.54,215.60 L270.36,214.85 L270.22,214.35 L270.05,213.81 L269.80,213.11 L269.59,212.60 L269.37,212.10 L269.14,211.60 L268.90,211.10 L268.66,210.60 L268.45,210.10 L268.26,209.60 L268.05,208.98 L267.87,208.35 L267.76,207.85 L267.60,207.10 L267.51,206.60 L267.38,205.85 L267.30,205.35 L267.19,204.60 L267.10,203.85 L267.05,203.10 L267.04,202.60 L267.06,202.10 L267.14,201.35 L267.30,200.63 L267.47,200.10 L267.68,199.60 L267.96,199.10 L268.30,198.63 L268.55,198.35 L269.05,197.90 L269.50,197.60 L270.01,197.35 L270.55,197.18 L271.05,197.10 L271.76,197.10 L272.30,197.19 L272.80,197.35 L273.30,197.60 L273.80,197.94 L274.25,198.35 L274.55,198.70 L274.84,199.10 L275.12,199.60 L275.33,200.10 L275.55,200.82 L275.66,201.35 L275.74,202.10 L275.76,202.85 L275.72,203.60 L275.64,204.35 L275.55,205.03 L275.46,205.60 L275.34,206.35 L275.25,206.85 L275.10,207.60 L274.99,208.10 L274.80,208.81 L274.63,209.35 L274.45,209.85 L274.25,210.35 L274.02,210.85 L273.78,211.35 L273.54,211.85 L273.30,212.38 L273.05,212.98 L272.82,213.60 L272.65,214.10 L272.51,214.60 L272.32,215.35 L272.20,215.85 L272.06,216.60 L271.97,217.10 L271.87,217.85 L271.82,218.60 L271.79,219.10 L271.75,219.85 L271.68,220.60 L271.55,221.33Z M271.80,229.66 L271.05,229.71 L270.55,229.54 L270.09,229.10 L270.01,228.60 L270.26,228.10 L270.55,227.83 L271.05,227.59 L271.66,227.60 L272.14,227.85 L272.54,228.35 L272.61,228.85 L272.34,229.35 L271.95,229.60Z " fill="#44a8e6" stroke="none" stroke-width="0.8" />
<path d="M271.55,213.73 L271.05,213.55 L270.76,213.10 L270.49,212.60 L270.24,212.10 L270.00,211.60 L269.76,211.10 L269.52,210.60 L269.30,210.10 L269.05,209.51 L268.81,208.85 L268.65,208.35 L268.51,207.85 L268.32,207.10 L268.20,206.60 L268.05,205.89 L267.94,205.35 L267.80,204.60 L267.73,204.10 L267.64,203.35 L267.62,202.60 L267.65,201.85 L267.77,201.10 L267.91,200.60 L268.10,200.10 L268.36,199.60 L268.71,199.10 L269.05,198.72 L269.50,198.35 L269.92,198.10 L270.55,197.85 L271.05,197.76 L271.80,197.76 L272.30,197.87 L272.88,198.10 L273.30,198.35 L273.80,198.77 L274.09,199.10 L274.44,199.60 L274.70,200.10 L274.89,200.60 L275.05,201.22 L275.15,201.85 L275.19,202.60 L275.16,203.35 L275.07,204.10 L275.00,204.60 L274.86,205.35 L274.76,205.85 L274.60,206.60 L274.48,207.10 L274.30,207.82 L274.15,208.35 L273.99,208.85 L273.80,209.38 L273.55,209.99 L273.30,210.55 L273.05,211.08 L272.80,211.60 L272.56,212.10 L272.31,212.60 L272.05,213.10 L271.80,213.49Z " fill="#5cc8a8" stroke="none" stroke-width="0.8" />
<path d="M271.55,211.49 L271.02,211.35 L270.59,210.85 L270.30,210.38 L270.05,209.91 L269.80,209.38 L269.58,208.85 L269.39,208.35 L269.22,207.85 L269.05,207.29 L268.85,206.60 L268.71,206.10 L268.55,205.46 L268.41,204.85 L268.30,204.32 L268.19,203.60 L268.12,202.85 L268.14,202.10 L268.24,201.35 L268.37,200.85 L268.56,200.35 L268.83,199.85 L269.20,199.35 L269.55,199.02 L270.05,198.67 L270.55,198.46 L271.05,198.35 L271.76,198.35 L272.30,198.48 L272.80,198.70 L273.30,199.06 L273.60,199.35 L273.97,199.85 L274.24,200.35 L274.43,200.85 L274.56,201.35 L274.66,202.10 L274.68,202.85 L274.61,203.60 L274.54,204.10 L274.39,204.85 L274.28,205.35 L274.09,206.10 L273.95,206.60 L273.80,207.12 L273.58,207.85 L273.41,208.35 L273.22,208.85 L273.01,209.35 L272.78,209.85 L272.52,210.35 L272.21,210.85 L271.80,211.34Z " fill="#66c04a" stroke="none" stroke-width="0.8" />
<path d="M271.30,209.60 L270.90,209.35 L270.55,208.92 L270.30,208.48 L270.05,207.96 L269.80,207.36 L269.61,206.85 L269.43,206.35 L269.26,205.85 L269.05,205.20 L268.88,204.60 L268.77,204.10 L268.64,203.35 L268.59,202.60 L268.63,201.85 L268.79,201.10 L268.98,200.60 L269.26,200.10 L269.55,199.73 L269.98,199.35 L270.41,199.10 L271.05,198.91 L271.80,198.91 L272.39,199.10 L272.82,199.35 L273.30,199.79 L273.55,200.12 L273.82,200.60 L274.05,201.25 L274.17,201.85 L274.21,202.60 L274.16,203.35 L274.05,204.01 L273.92,204.60 L273.78,205.10 L273.55,205.84 L273.37,206.35 L273.19,206.85 L273.00,207.35 L272.80,207.85 L272.55,208.38 L272.29,208.85 L271.90,209.35 L271.33,209.60Z " fill="#c4dc3a" stroke="none" stroke-width="0.8" />
<path d="M271.30,207.60 L270.89,207.35 L270.55,206.96 L270.30,206.56 L270.05,206.09 L269.80,205.56 L269.55,204.94 L269.35,204.35 L269.22,203.85 L269.09,203.10 L269.06,202.35 L269.15,201.60 L269.30,201.09 L269.55,200.57 L269.92,200.10 L270.30,199.78 L270.80,199.53 L271.55,199.44 L272.17,199.60 L272.60,199.85 L273.05,200.29 L273.30,200.66 L273.55,201.24 L273.69,201.85 L273.74,202.60 L273.67,203.35 L273.55,203.97 L273.37,204.60 L273.19,205.10 L272.98,205.60 L272.74,206.10 L272.47,206.60 L272.14,207.10 L271.80,207.46 L271.30,207.60Z " fill="#f4dc22" stroke="none" stroke-width="0.8" />
<path d="M271.55,205.90 L271.05,205.82 L270.55,205.38 L270.30,205.02 L270.05,204.56 L269.80,203.94 L269.64,203.35 L269.55,202.60 L269.61,201.85 L269.80,201.23 L270.05,200.79 L270.48,200.35 L270.99,200.10 L271.55,200.05 L272.05,200.19 L272.55,200.55 L272.80,200.86 L273.05,201.35 L273.22,202.10 L273.23,202.85 L273.10,203.60 L272.94,204.10 L272.73,204.60 L272.44,205.10 L272.05,205.60 L271.66,205.85Z " fill="#f48a1e" stroke="none" stroke-width="0.8" />
<path d="M271.80,204.43 L271.05,204.46 L270.67,204.10 L270.38,203.60 L270.21,203.10 L270.14,202.35 L270.30,201.62 L270.55,201.20 L271.02,200.85 L271.55,200.78 L272.05,201.01 L272.36,201.35 L272.58,201.85 L272.66,202.60 L272.55,203.26 L272.31,203.85 L272.05,204.21Z " fill="#e2301a" stroke="none" stroke-width="0.8" />
<path d="M292.05,231.14 L291.30,231.21 L290.55,231.14 L290.05,231.02 L289.55,230.84 L289.05,230.58 L288.55,230.24 L288.12,229.85 L287.80,229.47 L287.55,229.10 L287.28,228.60 L287.05,227.96 L286.92,227.35 L286.88,226.60 L286.95,225.85 L287.06,225.35 L287.30,224.60 L287.48,224.10 L287.65,223.60 L287.80,223.01 L287.84,222.35 L287.80,221.85 L287.63,221.10 L287.50,220.60 L287.31,219.85 L287.18,219.35 L287.05,218.77 L286.90,218.10 L286.80,217.59 L286.65,216.85 L286.55,216.35 L286.39,215.60 L286.30,215.09 L286.16,214.35 L286.05,213.62 L285.97,213.10 L285.88,212.35 L285.81,211.60 L285.78,211.10 L285.73,210.35 L285.70,209.60 L285.68,208.85 L285.69,208.10 L285.71,207.35 L285.75,206.60 L285.80,206.10 L285.89,205.35 L286.03,204.60 L286.14,204.10 L286.30,203.51 L286.52,202.85 L286.72,202.35 L286.96,201.85 L287.23,201.35 L287.55,200.87 L287.80,200.53 L288.18,200.10 L288.55,199.75 L289.05,199.36 L289.48,199.10 L290.04,198.85 L290.55,198.69 L291.30,198.60 L292.05,198.66 L292.76,198.85 L293.30,199.09 L293.73,199.35 L294.07,199.60 L294.55,200.03 L294.85,200.35 L295.24,200.85 L295.55,201.33 L295.80,201.77 L296.05,202.29 L296.28,202.85 L296.45,203.35 L296.60,203.85 L296.77,204.60 L296.87,205.10 L296.98,205.85 L297.04,206.60 L297.08,207.10 L297.11,207.85 L297.12,208.60 L297.11,209.35 L297.08,210.10 L297.05,210.65 L297.01,211.35 L296.94,212.10 L296.86,212.85 L296.79,213.35 L296.68,214.10 L296.55,214.82 L296.45,215.35 L296.30,216.10 L296.21,216.60 L296.05,217.34 L295.95,217.85 L295.80,218.54 L295.68,219.10 L295.55,219.62 L295.36,220.35 L295.22,220.85 L295.05,221.50 L294.93,222.10 L294.90,222.85 L295.02,223.60 L295.17,224.10 L295.34,224.60 L295.55,225.34 L295.66,225.85 L295.73,226.60 L295.69,227.35 L295.55,227.97 L295.32,228.60 L295.06,229.10 L294.80,229.47 L294.48,229.85 L294.05,230.24 L293.55,230.58 L293.05,230.84 L292.55,231.02 L292.05,231.14Z " fill="#25207e" stroke="none" stroke-width="0.8" />
<path d="M292.30,229.60 L291.55,229.76 L290.80,229.73 L290.30,229.60 L289.77,229.35 L289.30,229.00 L288.93,228.60 L288.62,228.10 L288.42,227.60 L288.30,226.89 L288.30,226.52 L288.40,225.85 L288.55,225.35 L288.80,224.79 L289.05,224.32 L289.32,223.85 L289.56,223.35 L289.71,222.60 L289.55,221.87 L289.35,221.35 L289.14,220.85 L288.94,220.35 L288.76,219.85 L288.55,219.12 L288.42,218.60 L288.30,218.03 L288.17,217.35 L288.05,216.72 L287.93,216.10 L287.80,215.41 L287.69,214.85 L287.55,214.14 L287.45,213.60 L287.32,212.85 L287.25,212.35 L287.15,211.60 L287.08,210.85 L287.04,210.35 L286.99,209.60 L286.96,208.85 L286.96,208.10 L286.97,207.35 L287.03,206.60 L287.08,206.10 L287.20,205.35 L287.30,204.85 L287.51,204.10 L287.69,203.60 L287.92,203.10 L288.19,202.60 L288.52,202.10 L288.80,201.75 L289.20,201.35 L289.55,201.08 L290.05,200.78 L290.55,200.58 L291.30,200.46 L292.05,200.53 L292.55,200.69 L293.05,200.94 L293.55,201.31 L293.86,201.60 L294.28,202.10 L294.55,202.50 L294.80,202.94 L295.05,203.47 L295.28,204.10 L295.43,204.60 L295.55,205.10 L295.69,205.85 L295.77,206.60 L295.81,207.10 L295.84,207.85 L295.84,208.60 L295.82,209.35 L295.79,209.85 L295.74,210.60 L295.67,211.35 L295.58,212.10 L295.51,212.60 L295.40,213.35 L295.30,213.87 L295.16,214.60 L295.05,215.16 L294.92,215.85 L294.80,216.45 L294.68,217.10 L294.55,217.78 L294.44,218.35 L294.30,218.92 L294.11,219.60 L293.95,220.10 L293.76,220.60 L293.54,221.10 L293.30,221.67 L293.07,222.35 L293.03,222.85 L293.13,223.35 L293.35,223.85 L293.61,224.35 L293.86,224.85 L294.07,225.35 L294.27,226.10 L294.31,226.60 L294.29,227.10 L294.10,227.85 L293.85,228.35 L293.55,228.75 L293.19,229.10 L292.80,229.37 L292.30,229.60Z " fill="#2c50c8" stroke="none" stroke-width="0.8" />
<path d="M291.55,221.10 L291.05,221.05 L290.55,220.72 L290.22,220.35 L289.91,219.85 L289.68,219.35 L289.50,218.85 L289.30,218.14 L289.18,217.60 L289.05,216.94 L288.94,216.35 L288.80,215.65 L288.68,215.10 L288.55,214.48 L288.41,213.85 L288.30,213.31 L288.16,212.60 L288.05,211.92 L287.97,211.35 L287.88,210.60 L287.81,209.85 L287.77,209.35 L287.74,208.60 L287.74,207.85 L287.77,207.10 L287.81,206.60 L287.91,205.85 L288.05,205.21 L288.23,204.60 L288.41,204.10 L288.65,203.60 L288.96,203.10 L289.30,202.66 L289.62,202.35 L290.05,202.02 L290.55,201.78 L291.30,201.62 L292.05,201.71 L292.55,201.91 L293.05,202.24 L293.44,202.60 L293.80,203.04 L294.05,203.43 L294.30,203.91 L294.55,204.53 L294.72,205.10 L294.84,205.60 L294.96,206.35 L295.03,207.10 L295.05,207.60 L295.06,208.35 L295.05,208.85 L295.01,209.60 L294.95,210.35 L294.87,211.10 L294.80,211.60 L294.68,212.35 L294.55,213.06 L294.44,213.60 L294.30,214.25 L294.17,214.85 L294.05,215.41 L293.91,216.10 L293.80,216.67 L293.67,217.35 L293.55,217.92 L293.38,218.60 L293.22,219.10 L293.01,219.60 L292.74,220.10 L292.36,220.60 L292.05,220.88 L291.55,221.10Z M291.80,228.66 L291.05,228.71 L290.55,228.57 L290.05,228.26 L289.68,227.85 L289.43,227.35 L289.33,226.60 L289.48,225.85 L289.73,225.35 L290.05,224.93 L290.41,224.60 L290.84,224.35 L291.55,224.27 L292.05,224.47 L292.51,224.85 L292.80,225.21 L293.05,225.65 L293.26,226.35 L293.24,227.10 L293.05,227.64 L292.73,228.10 L292.30,228.44 L291.80,228.66Z " fill="#44a8e6" stroke="none" stroke-width="0.8" />
<path d="M291.55,219.18 L291.05,219.09 L290.59,218.60 L290.35,218.10 L290.18,217.60 L290.04,217.10 L289.87,216.35 L289.75,215.85 L289.56,215.10 L289.43,214.60 L289.29,214.10 L289.09,213.35 L288.97,212.85 L288.81,212.10 L288.71,211.60 L288.59,210.85 L288.52,210.35 L288.44,209.60 L288.39,208.85 L288.37,208.10 L288.38,207.35 L288.45,206.60 L288.55,205.97 L288.70,205.35 L288.86,204.85 L289.08,204.35 L289.37,203.85 L289.77,203.35 L290.05,203.09 L290.55,202.78 L291.20,202.60 L291.61,202.60 L292.30,202.80 L292.76,203.10 L293.05,203.37 L293.43,203.85 L293.72,204.35 L293.94,204.85 L294.10,205.35 L294.27,206.10 L294.35,206.60 L294.42,207.35 L294.43,208.10 L294.41,208.85 L294.36,209.60 L294.30,210.18 L294.21,210.85 L294.09,211.60 L293.99,212.10 L293.83,212.85 L293.71,213.35 L293.55,213.95 L293.37,214.60 L293.24,215.10 L293.05,215.85 L292.93,216.35 L292.80,216.93 L292.62,217.60 L292.45,218.10 L292.20,218.60 L291.80,219.06Z M291.30,227.38 L290.80,227.14 L290.64,226.60 L290.89,226.10 L291.55,225.98 L291.91,226.35 L291.84,227.10 L291.48,227.35Z " fill="#5cc8a8" stroke="none" stroke-width="0.8" />
<path d="M291.55,215.67 L291.05,215.52 L290.75,215.10 L290.48,214.60 L290.24,214.10 L290.03,213.60 L289.80,212.97 L289.60,212.35 L289.46,211.85 L289.30,211.16 L289.19,210.60 L289.08,209.85 L289.02,209.35 L288.96,208.60 L288.95,207.85 L288.98,207.10 L289.05,206.55 L289.20,205.85 L289.36,205.35 L289.58,204.85 L289.90,204.35 L290.30,203.92 L290.80,203.61 L291.30,203.50 L291.95,203.60 L292.41,203.85 L292.80,204.22 L293.08,204.60 L293.34,205.10 L293.55,205.66 L293.72,206.35 L293.80,206.93 L293.85,207.60 L293.85,208.35 L293.81,209.10 L293.76,209.60 L293.65,210.35 L293.55,210.91 L293.40,211.60 L293.27,212.10 L293.05,212.82 L292.86,213.35 L292.66,213.85 L292.44,214.35 L292.19,214.85 L291.88,215.35 L291.55,215.67Z " fill="#66c04a" stroke="none" stroke-width="0.8" />
<path d="M291.55,212.95 L291.04,212.85 L290.60,212.35 L290.32,211.85 L290.12,211.35 L289.96,210.85 L289.80,210.25 L289.68,209.60 L289.58,208.85 L289.54,208.35 L289.54,207.60 L289.58,207.10 L289.71,206.35 L289.87,205.85 L290.11,205.35 L290.50,204.85 L290.83,204.60 L291.55,204.46 L292.05,204.65 L292.53,205.10 L292.80,205.55 L293.02,206.10 L293.14,206.60 L293.24,207.35 L293.26,208.10 L293.22,208.85 L293.12,209.60 L293.03,210.10 L292.84,210.85 L292.68,211.35 L292.47,211.85 L292.20,212.35 L291.80,212.82Z " fill="#c4dc3a" stroke="none" stroke-width="0.8" />
<path d="M291.55,210.73 L291.04,210.60 L290.70,210.10 L290.49,209.60 L290.31,208.85 L290.25,208.35 L290.24,207.60 L290.30,207.10 L290.53,206.35 L290.80,205.94 L291.30,205.65 L291.89,205.85 L292.27,206.35 L292.44,206.85 L292.55,207.49 L292.56,208.10 L292.52,208.60 L292.38,209.35 L292.22,209.85 L291.96,210.35 L291.55,210.73Z " fill="#f4dc22" stroke="none" stroke-width="0.8" />
<path d="M310.80,220.87 L310.30,220.82 L309.85,220.35 L309.58,219.85 L309.38,219.35 L309.23,218.85 L309.05,218.13 L308.93,217.60 L308.80,216.86 L308.70,216.35 L308.56,215.60 L308.44,215.10 L308.30,214.56 L308.05,213.91 L307.80,213.43 L307.55,213.06 L307.19,212.60 L306.80,212.11 L306.55,211.78 L306.25,211.35 L305.95,210.85 L305.70,210.35 L305.48,209.85 L305.30,209.34 L305.08,208.60 L304.96,208.10 L304.82,207.35 L304.74,206.85 L304.65,206.10 L304.57,205.35 L304.53,204.85 L304.47,204.10 L304.42,203.35 L304.40,202.60 L304.40,201.85 L304.45,201.10 L304.55,200.35 L304.64,199.85 L304.80,199.25 L305.02,198.60 L305.24,198.10 L305.51,197.60 L305.80,197.14 L306.05,196.80 L306.44,196.35 L306.80,196.01 L307.30,195.61 L307.69,195.35 L308.15,195.10 L308.75,194.85 L309.30,194.68 L309.80,194.59 L310.55,194.53 L311.30,194.57 L311.80,194.66 L312.45,194.85 L313.05,195.10 L313.51,195.35 L313.89,195.60 L314.30,195.92 L314.75,196.35 L315.05,196.68 L315.37,197.10 L315.70,197.60 L315.96,198.10 L316.18,198.60 L316.36,199.10 L316.55,199.82 L316.66,200.35 L316.75,201.10 L316.79,201.85 L316.80,202.60 L316.77,203.35 L316.73,204.10 L316.67,204.85 L316.60,205.60 L316.55,206.10 L316.46,206.85 L316.34,207.60 L316.24,208.10 L316.05,208.85 L315.90,209.35 L315.72,209.85 L315.50,210.35 L315.25,210.85 L314.95,211.35 L314.60,211.85 L314.30,212.24 L314.01,212.60 L313.62,213.10 L313.30,213.60 L313.07,214.10 L312.89,214.60 L312.75,215.10 L312.59,215.85 L312.50,216.35 L312.36,217.10 L312.26,217.60 L312.10,218.35 L311.97,218.85 L311.80,219.40 L311.55,220.00 L311.30,220.43 L310.83,220.85Z " fill="#25207e" stroke="none" stroke-width="0.8" />
<path d="M310.80,217.98 L310.27,217.85 L309.98,217.35 L309.79,216.85 L309.60,216.10 L309.50,215.60 L309.35,214.85 L309.25,214.35 L309.07,213.60 L308.92,213.10 L308.73,212.60 L308.49,212.10 L308.20,211.60 L307.87,211.10 L307.55,210.63 L307.30,210.24 L307.05,209.81 L306.80,209.31 L306.55,208.70 L306.35,208.10 L306.22,207.60 L306.05,206.85 L305.96,206.35 L305.84,205.60 L305.78,205.10 L305.68,204.35 L305.60,203.60 L305.55,202.93 L305.52,202.35 L305.53,201.60 L305.57,201.10 L305.67,200.35 L305.80,199.80 L306.03,199.10 L306.25,198.60 L306.53,198.10 L306.80,197.72 L307.10,197.35 L307.55,196.91 L307.95,196.60 L308.34,196.35 L308.85,196.10 L309.55,195.87 L310.05,195.78 L310.80,195.75 L311.55,195.85 L312.05,195.98 L312.55,196.19 L313.05,196.46 L313.55,196.82 L313.86,197.10 L314.30,197.59 L314.55,197.93 L314.81,198.35 L315.06,198.85 L315.30,199.47 L315.48,200.10 L315.57,200.60 L315.66,201.35 L315.68,202.10 L315.66,202.85 L315.60,203.60 L315.55,204.10 L315.46,204.85 L315.36,205.60 L315.28,206.10 L315.15,206.85 L315.04,207.35 L314.85,208.10 L314.69,208.60 L314.49,209.10 L314.26,209.60 L313.99,210.10 L313.67,210.60 L313.33,211.10 L313.05,211.51 L312.80,211.93 L312.55,212.42 L312.30,213.04 L312.13,213.60 L312.01,214.10 L311.85,214.85 L311.75,215.35 L311.60,216.10 L311.47,216.60 L311.30,217.17 L311.05,217.70Z " fill="#2c50c8" stroke="none" stroke-width="0.8" />
<path d="M310.55,214.87 L310.30,214.59 L310.05,213.95 L309.87,213.35 L309.71,212.85 L309.53,212.35 L309.30,211.79 L309.05,211.27 L308.80,210.81 L308.52,210.35 L308.21,209.85 L307.92,209.35 L307.66,208.85 L307.43,208.35 L307.24,207.85 L307.05,207.23 L306.89,206.60 L306.78,206.10 L306.63,205.35 L306.54,204.85 L306.42,204.10 L306.32,203.35 L306.28,202.85 L306.24,202.10 L306.26,201.35 L306.31,200.85 L306.46,200.10 L306.62,199.60 L306.82,199.10 L307.09,198.60 L307.45,198.10 L307.80,197.71 L308.22,197.35 L308.59,197.10 L309.08,196.85 L309.80,196.62 L310.30,196.55 L311.05,196.56 L311.55,196.65 L312.12,196.85 L312.61,197.10 L313.05,197.40 L313.53,197.85 L313.80,198.16 L314.11,198.60 L314.38,199.10 L314.58,199.60 L314.80,200.35 L314.89,200.85 L314.95,201.60 L314.95,202.35 L314.90,203.10 L314.81,203.85 L314.74,204.35 L314.61,205.10 L314.52,205.60 L314.37,206.35 L314.25,206.85 L314.05,207.57 L313.87,208.10 L313.66,208.60 L313.42,209.10 L313.14,209.60 L312.83,210.10 L312.55,210.56 L312.30,210.99 L312.05,211.47 L311.80,212.03 L311.58,212.60 L311.41,213.10 L311.26,213.60 L311.05,214.24 L310.80,214.75Z " fill="#44a8e6" stroke="none" stroke-width="0.8" />
<path d="M310.55,211.65 L310.16,211.35 L309.80,210.86 L309.55,210.46 L309.30,210.06 L309.02,209.60 L308.72,209.10 L308.44,208.60 L308.20,208.10 L307.98,207.60 L307.80,207.10 L307.57,206.35 L307.44,205.85 L307.30,205.29 L307.15,204.60 L307.05,204.10 L306.92,203.35 L306.84,202.60 L306.81,201.85 L306.86,201.10 L306.99,200.35 L307.14,199.85 L307.35,199.35 L307.64,198.85 L308.03,198.35 L308.30,198.08 L308.80,197.70 L309.30,197.44 L309.80,197.27 L310.55,197.17 L311.30,197.25 L311.80,197.40 L312.30,197.64 L312.80,197.99 L313.17,198.35 L313.55,198.83 L313.80,199.26 L314.05,199.83 L314.21,200.35 L314.31,200.85 L314.38,201.60 L314.38,202.35 L314.31,203.10 L314.24,203.60 L314.10,204.35 L314.00,204.85 L313.83,205.60 L313.70,206.10 L313.55,206.63 L313.31,207.35 L313.12,207.85 L312.89,208.35 L312.62,208.85 L312.33,209.35 L312.05,209.81 L311.80,210.22 L311.55,210.63 L311.23,211.10 L310.80,211.59Z " fill="#5cc8a8" stroke="none" stroke-width="0.8" />
<path d="M310.80,209.70 L310.23,209.60 L309.80,209.20 L309.53,208.85 L309.21,208.35 L308.92,207.85 L308.68,207.35 L308.46,206.85 L308.27,206.35 L308.05,205.69 L307.87,205.10 L307.74,204.60 L307.56,203.85 L307.46,203.35 L307.35,202.60 L307.32,201.85 L307.36,201.10 L307.51,200.35 L307.69,199.85 L307.94,199.35 L308.30,198.85 L308.55,198.58 L309.05,198.19 L309.55,197.94 L310.05,197.79 L310.80,197.74 L311.38,197.85 L311.99,198.10 L312.38,198.35 L312.80,198.73 L313.10,199.10 L313.40,199.60 L313.61,200.10 L313.80,200.85 L313.86,201.35 L313.88,202.10 L313.82,202.85 L313.74,203.35 L313.59,204.10 L313.46,204.60 L313.30,205.19 L313.10,205.85 L312.93,206.35 L312.74,206.85 L312.52,207.35 L312.28,207.85 L311.99,208.35 L311.66,208.85 L311.30,209.32 L310.97,209.60Z " fill="#66c04a" stroke="none" stroke-width="0.8" />
<path d="M311.05,207.92 L310.30,208.01 L309.81,207.60 L309.55,207.26 L309.30,206.85 L309.03,206.35 L308.80,205.85 L308.55,205.24 L308.32,204.60 L308.16,204.10 L308.03,203.60 L307.87,202.85 L307.80,202.17 L307.79,201.60 L307.84,201.10 L308.01,200.35 L308.22,199.85 L308.54,199.35 L308.80,199.05 L309.30,198.65 L309.80,198.41 L310.30,198.29 L311.05,198.32 L311.55,198.47 L312.05,198.75 L312.45,199.10 L312.80,199.55 L313.05,200.01 L313.26,200.60 L313.36,201.10 L313.41,201.85 L313.36,202.60 L313.28,203.10 L313.11,203.85 L312.96,204.35 L312.79,204.85 L312.55,205.50 L312.30,206.08 L312.05,206.59 L311.80,207.03 L311.55,207.40 L311.13,207.85Z " fill="#c4dc3a" stroke="none" stroke-width="0.8" />
<path d="M310.80,206.40 L310.28,206.35 L309.80,205.97 L309.52,205.60 L309.21,205.10 L308.96,204.60 L308.74,204.10 L308.55,203.56 L308.37,202.85 L308.29,202.35 L308.26,201.60 L308.31,201.10 L308.53,200.35 L308.79,199.85 L309.05,199.52 L309.55,199.11 L310.05,198.89 L310.55,198.82 L311.05,198.87 L311.62,199.10 L312.05,199.42 L312.41,199.85 L312.67,200.35 L312.84,200.85 L312.94,201.60 L312.91,202.35 L312.80,203.00 L312.64,203.60 L312.46,204.10 L312.24,204.60 L311.99,205.10 L311.68,205.60 L311.30,206.07 L310.91,206.35Z " fill="#f4dc22" stroke="none" stroke-width="0.8" />
<path d="M311.05,204.86 L310.30,204.93 L309.84,204.60 L309.55,204.26 L309.30,203.85 L309.05,203.30 L308.84,202.60 L308.77,202.10 L308.78,201.35 L308.89,200.85 L309.10,200.35 L309.49,199.85 L309.84,199.60 L310.55,199.40 L311.30,199.57 L311.70,199.85 L312.05,200.27 L312.30,200.81 L312.42,201.35 L312.43,202.10 L312.30,202.85 L312.13,203.35 L311.90,203.85 L311.58,204.35 L311.30,204.67Z " fill="#f48a1e" stroke="none" stroke-width="0.8" />
<path d="M310.80,203.71 L310.19,203.60 L309.80,203.23 L309.55,202.78 L309.37,202.10 L309.38,201.35 L309.55,200.82 L309.94,200.35 L310.55,200.11 L311.27,200.35 L311.55,200.65 L311.80,201.24 L311.86,201.85 L311.79,202.35 L311.55,202.99 L311.30,203.36 L310.80,203.71Z " fill="#e2301a" stroke="none" stroke-width="0.8" />
<path d="M330.80,234.42 L330.05,234.54 L329.30,234.51 L328.58,234.35 L328.05,234.15 L327.55,233.87 L327.17,233.60 L326.80,233.28 L326.39,232.85 L326.05,232.40 L325.80,232.00 L325.55,231.53 L325.30,230.92 L325.12,230.35 L325.01,229.85 L324.90,229.10 L324.87,228.35 L324.91,227.60 L325.01,226.85 L325.11,226.35 L325.30,225.60 L325.43,225.10 L325.57,224.60 L325.73,223.85 L325.80,223.28 L325.82,222.60 L325.79,222.10 L325.70,221.35 L325.58,220.60 L325.50,220.10 L325.39,219.35 L325.30,218.72 L325.21,218.10 L325.11,217.35 L325.04,216.85 L324.92,216.10 L324.81,215.35 L324.72,214.85 L324.60,214.10 L324.53,213.60 L324.42,212.85 L324.33,212.10 L324.28,211.60 L324.22,210.85 L324.17,210.10 L324.14,209.35 L324.11,208.60 L324.10,207.85 L324.09,207.10 L324.10,206.35 L324.12,205.60 L324.17,204.85 L324.25,204.10 L324.32,203.60 L324.46,202.85 L324.58,202.35 L324.80,201.62 L324.98,201.10 L325.20,200.60 L325.45,200.10 L325.74,199.60 L326.05,199.16 L326.30,198.84 L326.77,198.35 L327.05,198.10 L327.55,197.73 L328.05,197.45 L328.55,197.24 L329.14,197.10 L329.80,197.04 L330.46,197.10 L331.05,197.24 L331.55,197.45 L332.05,197.73 L332.55,198.10 L332.83,198.35 L333.30,198.84 L333.55,199.16 L333.86,199.60 L334.15,200.10 L334.40,200.60 L334.62,201.10 L334.80,201.62 L335.02,202.35 L335.14,202.85 L335.28,203.60 L335.35,204.10 L335.43,204.85 L335.48,205.60 L335.50,206.35 L335.51,207.10 L335.50,207.85 L335.49,208.60 L335.46,209.35 L335.43,210.10 L335.38,210.85 L335.32,211.60 L335.27,212.10 L335.18,212.85 L335.07,213.60 L335.00,214.10 L334.88,214.85 L334.79,215.35 L334.68,216.10 L334.56,216.85 L334.49,217.35 L334.39,218.10 L334.30,218.72 L334.21,219.35 L334.10,220.10 L334.02,220.60 L333.90,221.35 L333.81,222.10 L333.78,222.60 L333.80,223.28 L333.87,223.85 L334.03,224.60 L334.17,225.10 L334.30,225.60 L334.49,226.35 L334.59,226.85 L334.69,227.60 L334.73,228.35 L334.70,229.10 L334.59,229.85 L334.48,230.35 L334.30,230.92 L334.05,231.53 L333.80,232.00 L333.55,232.40 L333.21,232.85 L332.80,233.28 L332.43,233.60 L332.05,233.87 L331.55,234.15 L331.02,234.35Z " fill="#25207e" stroke="none" stroke-width="0.8" />
<path d="M330.55,232.41 L329.80,232.51 L329.05,232.41 L328.55,232.21 L328.05,231.89 L327.73,231.60 L327.31,231.10 L327.05,230.66 L326.80,230.10 L326.65,229.60 L326.55,229.04 L326.51,228.35 L326.55,227.66 L326.64,227.10 L326.80,226.48 L327.01,225.85 L327.20,225.35 L327.39,224.85 L327.56,224.35 L327.72,223.60 L327.72,222.85 L327.59,222.10 L327.47,221.60 L327.30,220.99 L327.13,220.35 L327.01,219.85 L326.86,219.10 L326.77,218.60 L326.66,217.85 L326.55,217.12 L326.47,216.60 L326.35,215.85 L326.27,215.35 L326.13,214.60 L326.04,214.10 L325.91,213.35 L325.80,212.68 L325.71,212.10 L325.62,211.35 L325.55,210.63 L325.50,210.10 L325.45,209.35 L325.41,208.60 L325.38,207.85 L325.36,207.10 L325.37,206.35 L325.39,205.60 L325.45,204.85 L325.54,204.10 L325.63,203.60 L325.80,202.90 L325.97,202.35 L326.16,201.85 L326.40,201.35 L326.69,200.85 L327.05,200.35 L327.30,200.07 L327.80,199.61 L328.18,199.35 L328.69,199.10 L329.30,198.93 L330.05,198.89 L330.80,199.06 L331.30,199.28 L331.79,199.60 L332.08,199.85 L332.55,200.35 L332.80,200.69 L333.06,201.10 L333.32,201.60 L333.55,202.14 L333.79,202.85 L333.92,203.35 L334.05,204.06 L334.13,204.60 L334.20,205.35 L334.23,206.10 L334.24,206.85 L334.23,207.60 L334.20,208.35 L334.16,209.10 L334.12,209.85 L334.05,210.60 L334.01,211.10 L333.92,211.85 L333.81,212.60 L333.73,213.10 L333.60,213.85 L333.51,214.35 L333.38,215.10 L333.29,215.60 L333.17,216.35 L333.05,217.10 L332.98,217.60 L332.87,218.35 L332.78,218.85 L332.64,219.60 L332.53,220.10 L332.34,220.85 L332.20,221.35 L332.05,221.93 L331.91,222.60 L331.86,223.35 L331.97,224.10 L332.12,224.60 L332.31,225.10 L332.55,225.74 L332.76,226.35 L332.90,226.85 L333.04,227.60 L333.09,228.10 L333.07,228.85 L333.00,229.35 L332.80,230.10 L332.58,230.60 L332.30,231.08 L332.05,231.41 L331.60,231.85 L331.24,232.10 L330.71,232.35Z " fill="#2c50c8" stroke="none" stroke-width="0.8" />
<path d="M329.80,221.63 L329.30,221.45 L328.95,221.10 L328.61,220.60 L328.36,220.10 L328.17,219.60 L328.01,219.10 L327.83,218.35 L327.73,217.85 L327.59,217.10 L327.51,216.60 L327.37,215.85 L327.27,215.35 L327.11,214.60 L327.00,214.10 L326.84,213.35 L326.74,212.85 L326.60,212.10 L326.52,211.60 L326.42,210.85 L326.34,210.10 L326.29,209.60 L326.23,208.85 L326.19,208.10 L326.15,207.35 L326.14,206.60 L326.16,205.85 L326.21,205.10 L326.30,204.38 L326.40,203.85 L326.55,203.26 L326.78,202.60 L327.01,202.10 L327.30,201.60 L327.55,201.25 L327.92,200.85 L328.30,200.54 L328.80,200.26 L329.30,200.09 L330.05,200.05 L330.55,200.16 L331.05,200.38 L331.55,200.73 L331.92,201.10 L332.30,201.60 L332.55,202.02 L332.80,202.55 L333.00,203.10 L333.14,203.60 L333.30,204.35 L333.37,204.85 L333.43,205.60 L333.46,206.35 L333.45,207.10 L333.43,207.85 L333.39,208.60 L333.33,209.35 L333.29,209.85 L333.21,210.60 L333.11,211.35 L333.04,211.85 L332.91,212.60 L332.80,213.15 L332.65,213.85 L332.55,214.35 L332.38,215.10 L332.28,215.60 L332.14,216.35 L332.05,216.85 L331.92,217.60 L331.80,218.22 L331.65,218.85 L331.51,219.35 L331.30,219.96 L331.05,220.49 L330.80,220.91 L330.41,221.35 L329.98,221.60Z M330.30,230.90 L329.55,230.96 L329.05,230.80 L328.55,230.44 L328.26,230.10 L327.98,229.60 L327.80,229.00 L327.74,228.35 L327.80,227.65 L327.94,227.10 L328.15,226.60 L328.43,226.10 L328.80,225.63 L329.11,225.35 L329.60,225.10 L330.05,225.11 L330.55,225.39 L330.98,225.85 L331.30,226.31 L331.55,226.81 L331.73,227.35 L331.83,227.85 L331.85,228.60 L331.78,229.10 L331.55,229.75 L331.30,230.16 L330.87,230.60 L330.42,230.85Z " fill="#44a8e6" stroke="none" stroke-width="0.8" />
<path d="M329.80,218.63 L329.33,218.35 L329.05,217.88 L328.85,217.35 L328.69,216.85 L328.54,216.35 L328.33,215.60 L328.19,215.10 L328.04,214.60 L327.82,213.85 L327.68,213.35 L327.55,212.85 L327.37,212.10 L327.27,211.60 L327.14,210.85 L327.05,210.23 L326.97,209.60 L326.90,208.85 L326.84,208.10 L326.80,207.50 L326.78,206.85 L326.78,206.10 L326.80,205.60 L326.87,204.85 L327.01,204.10 L327.15,203.60 L327.33,203.10 L327.56,202.60 L327.88,202.10 L328.30,201.63 L328.67,201.35 L329.19,201.10 L329.80,201.00 L330.41,201.10 L330.93,201.35 L331.30,201.63 L331.72,202.10 L332.04,202.60 L332.27,203.10 L332.45,203.60 L332.59,204.10 L332.73,204.85 L332.80,205.60 L332.82,206.10 L332.82,206.85 L332.80,207.50 L332.76,208.10 L332.70,208.85 L332.63,209.60 L332.55,210.23 L332.46,210.85 L332.33,211.60 L332.23,212.10 L332.05,212.85 L331.92,213.35 L331.78,213.85 L331.56,214.60 L331.41,215.10 L331.27,215.60 L331.06,216.35 L330.91,216.85 L330.75,217.35 L330.55,217.88 L330.27,218.35 L329.80,218.63Z " fill="#5cc8a8" stroke="none" stroke-width="0.8" />
<path d="M329.80,214.63 L329.30,214.37 L329.05,214.06 L328.78,213.60 L328.54,213.10 L328.30,212.49 L328.10,211.85 L327.96,211.35 L327.80,210.63 L327.70,210.10 L327.58,209.35 L327.52,208.85 L327.44,208.10 L327.38,207.35 L327.35,206.60 L327.37,205.85 L327.43,205.10 L327.55,204.45 L327.72,203.85 L327.93,203.35 L328.22,202.85 L328.55,202.46 L329.03,202.10 L329.55,201.92 L330.30,201.98 L330.80,202.25 L331.18,202.60 L331.54,203.10 L331.78,203.60 L331.96,204.10 L332.08,204.60 L332.20,205.35 L332.24,206.10 L332.24,206.85 L332.20,207.60 L332.14,208.35 L332.05,209.10 L331.98,209.60 L331.85,210.35 L331.75,210.85 L331.57,211.60 L331.43,212.10 L331.26,212.60 L331.05,213.13 L330.80,213.65 L330.52,214.10 L330.05,214.56Z " fill="#66c04a" stroke="none" stroke-width="0.8" />
<path d="M329.80,212.16 L329.30,211.91 L329.05,211.58 L328.80,211.10 L328.55,210.41 L328.40,209.85 L328.28,209.35 L328.14,208.60 L328.05,207.99 L327.98,207.35 L327.94,206.60 L327.96,205.85 L328.04,205.10 L328.16,204.60 L328.33,204.10 L328.60,203.60 L329.05,203.11 L329.55,202.88 L329.82,202.85 L330.53,203.10 L330.81,203.35 L331.15,203.85 L331.36,204.35 L331.55,205.06 L331.62,205.60 L331.66,206.35 L331.64,207.10 L331.57,207.85 L331.50,208.35 L331.37,209.10 L331.26,209.60 L331.07,210.35 L330.89,210.85 L330.67,211.35 L330.35,211.85 L330.04,212.10Z " fill="#c4dc3a" stroke="none" stroke-width="0.8" />
<path d="M330.05,209.48 L329.43,209.35 L329.13,208.85 L328.94,208.35 L328.80,207.82 L328.69,207.10 L328.64,206.35 L328.70,205.60 L328.80,205.10 L329.05,204.55 L329.53,204.10 L330.05,204.09 L330.39,204.35 L330.70,204.85 L330.86,205.35 L330.95,206.10 L330.94,206.85 L330.84,207.60 L330.73,208.10 L330.55,208.68 L330.30,209.20Z " fill="#f4dc22" stroke="none" stroke-width="0.8" />
<rect x="258.8" y="191.6" width="82.69999999999999" height="49.099999999999994" fill="none" stroke="#222" stroke-width="0.9" />
<rect x="263.3" y="193.1" width="16.30000000000001" height="25.30000000000001" fill="none" stroke="#222" stroke-width="0.8" />
<rect x="283" y="193.1" width="16.19999999999999" height="25.30000000000001" fill="none" stroke="#222" stroke-width="0.8" />
<rect x="302.7" y="193.1" width="16.100000000000023" height="25.30000000000001" fill="none" stroke="#222" stroke-width="0.8" />
<rect x="322.2" y="193.1" width="16.100000000000023" height="25.30000000000001" fill="none" stroke="#222" stroke-width="0.8" />
<line x1="271.45000000000005" y1="189.4" x2="271.45000000000005" y2="191.6" stroke="#231f20" stroke-width="0.8" />
<line x1="271.45000000000005" y1="240.7" x2="271.45000000000005" y2="242.89999999999998" stroke="#231f20" stroke-width="0.8" />
<text x="271.45000000000005" y="179.79999999999998" font-size="6.9" text-anchor="middle" >96%</text>
<text x="271.45000000000005" y="187.6" font-size="6.9" text-anchor="middle" >17520</text>
<line x1="291.1" y1="189.4" x2="291.1" y2="191.6" stroke="#231f20" stroke-width="0.8" />
<line x1="291.1" y1="240.7" x2="291.1" y2="242.89999999999998" stroke="#231f20" stroke-width="0.8" />
<text x="291.1" y="179.79999999999998" font-size="6.9" text-anchor="middle" >75%</text>
<text x="291.1" y="187.6" font-size="6.9" text-anchor="middle" >5652</text>
<line x1="310.75" y1="189.4" x2="310.75" y2="191.6" stroke="#231f20" stroke-width="0.8" />
<line x1="310.75" y1="240.7" x2="310.75" y2="242.89999999999998" stroke="#231f20" stroke-width="0.8" />
<text x="310.75" y="179.79999999999998" font-size="6.9" text-anchor="middle" >98%</text>
<text x="310.75" y="187.6" font-size="6.9" text-anchor="middle" >20109</text>
<line x1="330.25" y1="189.4" x2="330.25" y2="191.6" stroke="#231f20" stroke-width="0.8" />
<line x1="330.25" y1="240.7" x2="330.25" y2="242.89999999999998" stroke="#231f20" stroke-width="0.8" />
<text x="330.25" y="179.79999999999998" font-size="6.9" text-anchor="middle" >84%</text>
<text x="330.25" y="187.6" font-size="6.9" text-anchor="middle" >10170</text>
<line x1="256.8" y1="198.2" x2="258.8" y2="198.2" stroke="#231f20" stroke-width="0.7" />
<text x="247.60000000000002" y="200.7" font-size="7" text-anchor="middle" >10<tspan baseline-shift="46%" font-size="70%">5</tspan></text>
<line x1="256.8" y1="210.5" x2="258.8" y2="210.5" stroke="#231f20" stroke-width="0.7" />
<text x="247.60000000000002" y="213.0" font-size="7" text-anchor="middle" >10<tspan baseline-shift="46%" font-size="70%">4</tspan></text>
<line x1="256.8" y1="222" x2="258.8" y2="222" stroke="#231f20" stroke-width="0.7" />
<text x="247.60000000000002" y="224.5" font-size="7" text-anchor="middle" >10<tspan baseline-shift="46%" font-size="70%">3</tspan></text>
<line x1="256.8" y1="237.3" x2="258.8" y2="237.3" stroke="#231f20" stroke-width="0.7" />
<text x="249.60000000000002" y="239.8" font-size="7" text-anchor="middle" >0</text>
<line x1="257.6" y1="194.6" x2="258.8" y2="194.6" stroke="#231f20" stroke-width="0.4" />
<line x1="257.6" y1="196.2" x2="258.8" y2="196.2" stroke="#231f20" stroke-width="0.4" />
<line x1="257.6" y1="197.79999999999998" x2="258.8" y2="197.79999999999998" stroke="#231f20" stroke-width="0.4" />
<line x1="257.6" y1="199.39999999999998" x2="258.8" y2="199.39999999999998" stroke="#231f20" stroke-width="0.4" />
<line x1="257.6" y1="200.99999999999997" x2="258.8" y2="200.99999999999997" stroke="#231f20" stroke-width="0.4" />
<line x1="257.6" y1="202.59999999999997" x2="258.8" y2="202.59999999999997" stroke="#231f20" stroke-width="0.4" />
<line x1="257.6" y1="204.19999999999996" x2="258.8" y2="204.19999999999996" stroke="#231f20" stroke-width="0.4" />
<line x1="257.6" y1="205.79999999999995" x2="258.8" y2="205.79999999999995" stroke="#231f20" stroke-width="0.4" />
<line x1="257.6" y1="207.39999999999995" x2="258.8" y2="207.39999999999995" stroke="#231f20" stroke-width="0.4" />
<line x1="257.6" y1="208.99999999999994" x2="258.8" y2="208.99999999999994" stroke="#231f20" stroke-width="0.4" />
<line x1="257.6" y1="210.59999999999994" x2="258.8" y2="210.59999999999994" stroke="#231f20" stroke-width="0.4" />
<line x1="257.6" y1="212.19999999999993" x2="258.8" y2="212.19999999999993" stroke="#231f20" stroke-width="0.4" />
<line x1="257.6" y1="213.79999999999993" x2="258.8" y2="213.79999999999993" stroke="#231f20" stroke-width="0.4" />
<line x1="257.6" y1="215.39999999999992" x2="258.8" y2="215.39999999999992" stroke="#231f20" stroke-width="0.4" />
<line x1="257.6" y1="216.99999999999991" x2="258.8" y2="216.99999999999991" stroke="#231f20" stroke-width="0.4" />
<line x1="257.6" y1="218.5999999999999" x2="258.8" y2="218.5999999999999" stroke="#231f20" stroke-width="0.4" />
<line x1="257.6" y1="220.1999999999999" x2="258.8" y2="220.1999999999999" stroke="#231f20" stroke-width="0.4" />
<line x1="257.6" y1="221.7999999999999" x2="258.8" y2="221.7999999999999" stroke="#231f20" stroke-width="0.4" />
<line x1="257.6" y1="223.3999999999999" x2="258.8" y2="223.3999999999999" stroke="#231f20" stroke-width="0.4" />
<line x1="257.6" y1="224.9999999999999" x2="258.8" y2="224.9999999999999" stroke="#231f20" stroke-width="0.4" />
<line x1="257.6" y1="226.59999999999988" x2="258.8" y2="226.59999999999988" stroke="#231f20" stroke-width="0.4" />
<line x1="257.6" y1="228.19999999999987" x2="258.8" y2="228.19999999999987" stroke="#231f20" stroke-width="0.4" />
<line x1="257.6" y1="229.79999999999987" x2="258.8" y2="229.79999999999987" stroke="#231f20" stroke-width="0.4" />
<line x1="257.6" y1="231.39999999999986" x2="258.8" y2="231.39999999999986" stroke="#231f20" stroke-width="0.4" />
<line x1="257.6" y1="232.99999999999986" x2="258.8" y2="232.99999999999986" stroke="#231f20" stroke-width="0.4" />
<line x1="257.6" y1="234.59999999999985" x2="258.8" y2="234.59999999999985" stroke="#231f20" stroke-width="0.4" />
<line x1="257.6" y1="236.19999999999985" x2="258.8" y2="236.19999999999985" stroke="#231f20" stroke-width="0.4" />
<line x1="257.6" y1="237.79999999999984" x2="258.8" y2="237.79999999999984" stroke="#231f20" stroke-width="0.4" />
<line x1="257.6" y1="239.39999999999984" x2="258.8" y2="239.39999999999984" stroke="#231f20" stroke-width="0.4" />
<line x1="256.2" y1="230.7" x2="258.8" y2="230.7" stroke="#231f20" stroke-width="0.75" />
<line x1="256.2" y1="232.0" x2="258.8" y2="232.0" stroke="#231f20" stroke-width="0.75" />
<line x1="256.2" y1="233.3" x2="258.8" y2="233.3" stroke="#231f20" stroke-width="0.75" />
<line x1="256.2" y1="234.60000000000002" x2="258.8" y2="234.60000000000002" stroke="#231f20" stroke-width="0.75" />
<line x1="256.2" y1="235.90000000000003" x2="258.8" y2="235.90000000000003" stroke="#231f20" stroke-width="0.75" />
<line x1="256.2" y1="237.20000000000005" x2="258.8" y2="237.20000000000005" stroke="#231f20" stroke-width="0.75" />
<line x1="256.2" y1="238.50000000000006" x2="258.8" y2="238.50000000000006" stroke="#231f20" stroke-width="0.75" />
<line x1="256.2" y1="239.80000000000007" x2="258.8" y2="239.80000000000007" stroke="#231f20" stroke-width="0.75" />
<text x="236.6" y="218.05" font-size="7.6" text-anchor="middle" transform="rotate(-90 236.6 218.05)" >TNF-α</text>
<circle cx="310.7" cy="227.5" r="3" fill="#ececf4"/><circle cx="310.7" cy="227.2" r="1.2" fill="#111"/>
<text x="271.4" y="252.6" font-size="6.9" text-anchor="middle" >M</text>
<text x="291.1" y="252.6" font-size="6.9" text-anchor="middle" >M+GM</text>
<text x="310.7" y="252.6" font-size="6.9" text-anchor="middle" >M</text>
<text x="330.2" y="252.6" font-size="6.9" text-anchor="middle" >M+GM</text>
<line x1="305.7" y1="255.2" x2="341.2" y2="255.2" stroke="#231f20" stroke-width="0.9" />
<text x="323.5" y="263.2" font-size="6.6" text-anchor="middle" >+BMS</text>
<path d="M272.80,325.71 L272.05,325.86 L271.30,325.87 L270.55,325.75 L270.05,325.59 L269.55,325.36 L269.05,325.06 L268.59,324.70 L268.30,324.43 L267.87,323.95 L267.55,323.50 L267.30,323.09 L267.05,322.58 L266.81,321.95 L266.67,321.45 L266.55,320.82 L266.48,320.20 L266.46,319.45 L266.52,318.70 L266.59,318.20 L266.72,317.45 L266.83,316.95 L266.98,316.20 L267.07,315.70 L267.17,314.95 L267.22,314.20 L267.23,313.45 L267.22,312.70 L267.20,311.95 L267.19,311.20 L267.19,310.45 L267.20,309.70 L267.23,308.95 L267.27,308.20 L267.30,307.64 L267.34,306.95 L267.39,306.20 L267.44,305.45 L267.49,304.70 L267.55,304.00 L267.59,303.45 L267.67,302.70 L267.77,301.95 L267.84,301.45 L267.98,300.70 L268.10,300.20 L268.30,299.52 L268.50,298.95 L268.71,298.45 L268.96,297.95 L269.27,297.45 L269.55,297.08 L269.91,296.70 L270.30,296.38 L270.80,296.11 L271.55,295.96 L272.30,296.08 L272.80,296.32 L273.29,296.70 L273.55,296.96 L273.93,297.45 L274.24,297.95 L274.49,298.45 L274.70,298.95 L274.88,299.45 L275.05,300.03 L275.22,300.70 L275.31,301.20 L275.44,301.95 L275.53,302.70 L275.58,303.20 L275.65,303.95 L275.71,304.70 L275.76,305.45 L275.80,306.09 L275.84,306.70 L275.89,307.45 L275.94,308.20 L275.97,308.95 L276.00,309.70 L276.01,310.45 L276.01,311.20 L276.00,311.95 L275.98,312.70 L275.97,313.45 L275.98,314.20 L276.03,314.95 L276.09,315.45 L276.22,316.20 L276.32,316.70 L276.48,317.45 L276.57,317.95 L276.68,318.70 L276.73,319.45 L276.72,320.20 L276.64,320.95 L276.53,321.45 L276.30,322.20 L276.10,322.70 L275.84,323.20 L275.55,323.65 L275.30,323.98 L274.88,324.45 L274.55,324.75 L274.05,325.12 L273.55,325.41 L273.05,325.63Z " fill="#25207e" stroke="none" stroke-width="0.8" />
<path d="M272.55,324.51 L271.80,324.64 L271.05,324.60 L270.47,324.45 L269.90,324.20 L269.50,323.95 L269.05,323.59 L268.69,323.20 L268.32,322.70 L268.05,322.21 L267.83,321.70 L267.67,321.20 L267.55,320.57 L267.49,319.95 L267.50,319.20 L267.55,318.69 L267.67,317.95 L267.80,317.41 L267.98,316.70 L268.10,316.20 L268.26,315.45 L268.33,314.95 L268.39,314.20 L268.39,313.45 L268.37,312.70 L268.34,311.95 L268.33,311.20 L268.32,310.45 L268.34,309.70 L268.37,308.95 L268.41,308.20 L268.46,307.45 L268.51,306.70 L268.55,306.11 L268.59,305.45 L268.65,304.70 L268.71,303.95 L268.78,303.20 L268.84,302.70 L268.96,301.95 L269.07,301.45 L269.27,300.70 L269.45,300.20 L269.68,299.70 L269.97,299.20 L270.30,298.78 L270.68,298.45 L271.18,298.20 L271.80,298.14 L272.30,298.31 L272.80,298.68 L273.05,298.95 L273.39,299.45 L273.64,299.95 L273.84,300.45 L274.05,301.13 L274.19,301.70 L274.30,302.33 L274.39,302.95 L274.47,303.70 L274.53,304.45 L274.57,304.95 L274.62,305.70 L274.68,306.45 L274.73,307.20 L274.78,307.95 L274.81,308.45 L274.84,309.20 L274.87,309.95 L274.88,310.70 L274.87,311.45 L274.85,312.20 L274.82,312.95 L274.80,313.70 L274.82,314.45 L274.90,315.20 L275.04,315.95 L275.16,316.45 L275.30,317.01 L275.47,317.70 L275.57,318.20 L275.68,318.95 L275.72,319.70 L275.67,320.45 L275.55,321.09 L275.37,321.70 L275.16,322.20 L274.88,322.70 L274.55,323.15 L274.29,323.45 L273.80,323.88 L273.30,324.20 L272.80,324.43Z " fill="#2c50c8" stroke="none" stroke-width="0.8" />
<path d="M272.55,323.71 L271.80,323.87 L271.05,323.82 L270.55,323.68 L270.05,323.44 L269.55,323.07 L269.18,322.70 L268.81,322.20 L268.55,321.70 L268.36,321.20 L268.23,320.70 L268.13,319.95 L268.14,319.20 L268.24,318.45 L268.35,317.95 L268.55,317.21 L268.71,316.70 L268.86,316.20 L269.05,315.46 L269.14,314.95 L269.20,314.20 L269.20,313.45 L269.17,312.70 L269.13,311.95 L269.11,311.20 L269.10,310.45 L269.12,309.70 L269.15,308.95 L269.20,308.20 L269.26,307.45 L269.30,306.92 L269.36,306.20 L269.41,305.45 L269.47,304.70 L269.54,303.95 L269.60,303.45 L269.71,302.70 L269.82,302.20 L270.04,301.45 L270.25,300.95 L270.54,300.45 L270.80,300.16 L271.30,299.85 L272.05,299.91 L272.44,300.20 L272.80,300.67 L273.05,301.16 L273.25,301.70 L273.38,302.20 L273.53,302.95 L273.60,303.45 L273.68,304.20 L273.75,304.95 L273.80,305.62 L273.84,306.20 L273.90,306.95 L273.96,307.70 L274.02,308.45 L274.05,309.02 L274.08,309.70 L274.10,310.45 L274.09,311.20 L274.07,311.95 L274.04,312.45 L274.01,313.20 L273.99,313.95 L274.03,314.70 L274.10,315.20 L274.27,315.95 L274.42,316.45 L274.57,316.95 L274.79,317.70 L274.91,318.20 L275.04,318.95 L275.07,319.45 L275.05,320.16 L274.97,320.70 L274.80,321.33 L274.55,321.91 L274.30,322.33 L274.02,322.70 L273.55,323.16 L273.12,323.45 L272.59,323.70Z " fill="#44a8e6" stroke="none" stroke-width="0.8" />
<path d="M272.05,323.22 L271.30,323.24 L270.80,323.13 L270.30,322.90 L269.80,322.53 L269.49,322.20 L269.15,321.70 L268.92,321.20 L268.76,320.70 L268.65,319.95 L268.66,319.20 L268.77,318.45 L268.89,317.95 L269.05,317.45 L269.30,316.78 L269.52,316.20 L269.70,315.70 L269.84,315.20 L269.96,314.45 L269.98,313.70 L269.94,312.95 L269.88,312.20 L269.83,311.45 L269.82,310.70 L269.83,309.95 L269.86,309.20 L269.92,308.45 L269.99,307.70 L270.05,307.13 L270.12,306.45 L270.20,305.70 L270.27,304.95 L270.33,304.45 L270.44,303.70 L270.55,303.16 L270.79,302.45 L271.05,302.00 L271.49,301.70 L271.80,301.72 L272.28,302.20 L272.51,302.70 L272.65,303.20 L272.80,303.92 L272.87,304.45 L272.95,305.20 L273.03,305.95 L273.08,306.45 L273.16,307.20 L273.23,307.95 L273.30,308.70 L273.34,309.20 L273.37,309.95 L273.38,310.70 L273.37,311.45 L273.32,312.20 L273.28,312.70 L273.23,313.45 L273.22,314.20 L273.30,314.88 L273.43,315.45 L273.59,315.95 L273.80,316.52 L274.05,317.18 L274.23,317.70 L274.37,318.20 L274.52,318.95 L274.56,319.45 L274.55,319.96 L274.44,320.70 L274.28,321.20 L274.05,321.70 L273.71,322.20 L273.30,322.61 L272.80,322.95 L272.30,323.16Z " fill="#5cc8a8" stroke="none" stroke-width="0.8" />
<path d="M271.55,322.70 L271.05,322.63 L270.55,322.43 L270.05,322.06 L269.73,321.70 L269.44,321.20 L269.25,320.70 L269.11,319.95 L269.12,319.20 L269.25,318.45 L269.40,317.95 L269.59,317.45 L269.83,316.95 L270.08,316.45 L270.36,315.95 L270.63,315.45 L270.86,314.95 L271.05,314.23 L271.06,313.70 L270.99,313.20 L270.85,312.45 L270.76,311.95 L270.69,311.20 L270.67,310.45 L270.71,309.70 L270.79,308.95 L270.88,308.45 L271.03,307.70 L271.19,307.20 L271.43,306.70 L271.80,306.70 L272.05,307.28 L272.22,307.95 L272.33,308.45 L272.44,309.20 L272.51,309.95 L272.53,310.70 L272.49,311.45 L272.39,312.20 L272.30,312.78 L272.16,313.45 L272.13,314.20 L272.30,314.82 L272.55,315.39 L272.80,315.86 L273.05,316.32 L273.30,316.80 L273.55,317.32 L273.80,317.95 L273.95,318.45 L274.05,318.95 L274.10,319.70 L274.05,320.27 L273.87,320.95 L273.63,321.45 L273.30,321.90 L272.99,322.20 L272.55,322.48 L271.80,322.70Z " fill="#66c04a" stroke="none" stroke-width="0.8" />
<path d="M272.30,322.02 L271.55,322.17 L270.80,321.98 L270.40,321.70 L270.05,321.32 L269.80,320.88 L269.59,320.20 L269.54,319.70 L269.56,319.20 L269.72,318.45 L269.91,317.95 L270.17,317.45 L270.51,316.95 L270.80,316.63 L271.30,316.28 L272.05,316.36 L272.46,316.70 L272.80,317.10 L273.05,317.48 L273.30,317.98 L273.55,318.70 L273.64,319.20 L273.64,319.95 L273.55,320.46 L273.30,321.08 L273.05,321.45 L272.55,321.89Z " fill="#c4dc3a" stroke="none" stroke-width="0.8" />
<path d="M272.05,321.53 L271.30,321.57 L270.80,321.35 L270.41,320.95 L270.15,320.45 L270.02,319.95 L270.03,319.20 L270.15,318.70 L270.36,318.20 L270.71,317.70 L271.05,317.40 L271.80,317.25 L272.30,317.51 L272.68,317.95 L272.96,318.45 L273.12,318.95 L273.20,319.70 L273.06,320.45 L272.80,320.95 L272.55,321.23 L272.05,321.53Z " fill="#f4dc22" stroke="none" stroke-width="0.8" />
<path d="M272.05,320.81 L271.30,320.88 L270.80,320.47 L270.59,319.95 L270.60,319.20 L270.80,318.68 L271.29,318.20 L271.80,318.16 L272.23,318.45 L272.53,318.95 L272.64,319.45 L272.55,320.18 L272.30,320.60Z " fill="#f48a1e" stroke="none" stroke-width="0.8" />
<path d="M292.30,326.71 L291.55,326.86 L290.80,326.87 L290.05,326.75 L289.55,326.60 L289.05,326.38 L288.55,326.10 L288.05,325.74 L287.72,325.45 L287.30,325.01 L287.05,324.69 L286.71,324.20 L286.44,323.70 L286.23,323.20 L286.05,322.65 L285.89,321.95 L285.82,321.20 L285.82,320.45 L285.91,319.70 L286.05,319.04 L286.21,318.45 L286.37,317.95 L286.55,317.45 L286.80,316.73 L286.95,316.20 L287.07,315.70 L287.17,314.95 L287.21,314.20 L287.22,313.45 L287.22,312.70 L287.21,311.95 L287.22,311.20 L287.23,310.45 L287.26,309.70 L287.30,308.95 L287.32,308.45 L287.35,307.70 L287.39,306.95 L287.43,306.20 L287.47,305.45 L287.52,304.70 L287.56,304.20 L287.62,303.45 L287.70,302.70 L287.80,302.08 L287.91,301.45 L288.05,300.86 L288.23,300.20 L288.40,299.70 L288.61,299.20 L288.86,298.70 L289.17,298.20 L289.55,297.73 L289.85,297.45 L290.30,297.15 L291.05,296.96 L291.80,297.11 L292.30,297.41 L292.62,297.70 L293.03,298.20 L293.30,298.63 L293.55,299.12 L293.79,299.70 L293.97,300.20 L294.11,300.70 L294.29,301.45 L294.38,301.95 L294.50,302.70 L294.55,303.20 L294.63,303.95 L294.69,304.70 L294.73,305.45 L294.77,306.20 L294.80,306.88 L294.83,307.45 L294.87,308.20 L294.91,308.95 L294.94,309.70 L294.97,310.45 L294.98,311.20 L294.99,311.95 L294.98,312.70 L294.98,313.45 L294.99,314.20 L295.03,314.95 L295.09,315.45 L295.25,316.20 L295.40,316.70 L295.56,317.20 L295.80,317.89 L295.99,318.45 L296.13,318.95 L296.29,319.70 L296.36,320.20 L296.39,320.95 L296.34,321.70 L296.26,322.20 L296.06,322.95 L295.87,323.45 L295.63,323.95 L295.32,324.45 L295.05,324.83 L294.73,325.20 L294.30,325.61 L293.87,325.95 L293.48,326.20 L293.00,326.45 L292.33,326.70Z " fill="#25207e" stroke="none" stroke-width="0.8" />
<path d="M291.55,325.74 L290.80,325.76 L290.30,325.68 L289.60,325.45 L289.11,325.20 L288.73,324.95 L288.30,324.58 L287.94,324.20 L287.58,323.70 L287.30,323.20 L287.09,322.70 L286.94,322.20 L286.81,321.45 L286.77,320.95 L286.80,320.30 L286.88,319.70 L287.05,318.98 L287.21,318.45 L287.39,317.95 L287.58,317.45 L287.80,316.84 L287.99,316.20 L288.10,315.70 L288.19,314.95 L288.22,314.20 L288.21,313.45 L288.19,312.70 L288.18,311.95 L288.19,311.20 L288.20,310.45 L288.23,309.70 L288.27,308.95 L288.30,308.28 L288.33,307.70 L288.36,306.95 L288.39,306.20 L288.43,305.45 L288.47,304.70 L288.53,303.95 L288.59,303.45 L288.69,302.70 L288.80,302.15 L288.98,301.45 L289.14,300.95 L289.35,300.45 L289.63,299.95 L290.01,299.45 L290.30,299.20 L290.83,298.95 L291.36,298.95 L291.90,299.20 L292.30,299.57 L292.57,299.95 L292.85,300.45 L293.06,300.95 L293.29,301.70 L293.41,302.20 L293.54,302.95 L293.61,303.45 L293.69,304.20 L293.74,304.95 L293.78,305.70 L293.80,306.20 L293.84,306.95 L293.87,307.70 L293.91,308.45 L293.95,309.20 L293.98,309.95 L294.00,310.70 L294.01,311.45 L294.01,312.20 L294.00,312.95 L293.99,313.70 L293.99,314.45 L294.03,315.20 L294.10,315.70 L294.28,316.45 L294.44,316.95 L294.62,317.45 L294.81,317.95 L295.05,318.65 L295.21,319.20 L295.32,319.70 L295.42,320.45 L295.42,321.20 L295.32,321.95 L295.19,322.45 L295.01,322.95 L294.77,323.45 L294.45,323.95 L294.05,324.43 L293.77,324.70 L293.30,325.07 L292.80,325.36 L292.30,325.57 L291.79,325.70Z " fill="#2c50c8" stroke="none" stroke-width="0.8" />
<path d="M291.80,324.98 L291.05,325.06 L290.30,324.96 L289.80,324.79 L289.30,324.52 L288.87,324.20 L288.55,323.89 L288.19,323.45 L287.89,322.95 L287.67,322.45 L287.52,321.95 L287.40,321.20 L287.40,320.45 L287.50,319.70 L287.62,319.20 L287.80,318.65 L288.05,317.99 L288.27,317.45 L288.47,316.95 L288.64,316.45 L288.80,315.86 L288.90,315.20 L288.94,314.45 L288.93,313.70 L288.90,312.95 L288.88,312.20 L288.88,311.45 L288.89,310.70 L288.92,309.95 L288.95,309.20 L288.99,308.45 L289.03,307.70 L289.05,307.20 L289.08,306.45 L289.12,305.70 L289.16,304.95 L289.22,304.20 L289.30,303.53 L289.40,302.95 L289.55,302.33 L289.77,301.70 L290.03,301.20 L290.30,300.83 L290.80,300.47 L291.30,300.44 L291.76,300.70 L292.05,301.01 L292.31,301.45 L292.55,302.02 L292.74,302.70 L292.85,303.20 L292.96,303.95 L293.03,304.70 L293.06,305.20 L293.10,305.95 L293.13,306.70 L293.16,307.45 L293.20,308.20 L293.23,308.95 L293.27,309.70 L293.30,310.40 L293.31,310.95 L293.32,311.70 L293.31,312.45 L293.30,312.95 L293.27,313.70 L293.26,314.45 L293.30,315.20 L293.37,315.70 L293.55,316.43 L293.73,316.95 L293.93,317.45 L294.14,317.95 L294.33,318.45 L294.55,319.11 L294.70,319.70 L294.80,320.45 L294.81,320.95 L294.77,321.45 L294.61,322.20 L294.43,322.70 L294.17,323.20 L293.82,323.70 L293.55,324.00 L293.05,324.42 L292.58,324.70 L292.05,324.91Z " fill="#44a8e6" stroke="none" stroke-width="0.8" />
<path d="M291.55,324.46 L290.80,324.48 L290.30,324.38 L289.80,324.18 L289.30,323.86 L288.86,323.45 L288.55,323.05 L288.30,322.62 L288.05,321.98 L287.93,321.45 L287.88,320.70 L287.95,319.95 L288.06,319.45 L288.30,318.72 L288.51,318.20 L288.74,317.70 L288.98,317.20 L289.20,316.70 L289.39,316.20 L289.55,315.54 L289.62,314.95 L289.63,314.20 L289.60,313.45 L289.55,312.70 L289.53,312.20 L289.52,311.45 L289.54,310.70 L289.56,310.20 L289.60,309.45 L289.65,308.70 L289.69,307.95 L289.73,307.20 L289.76,306.45 L289.79,305.70 L289.83,305.20 L289.90,304.45 L290.01,303.70 L290.14,303.20 L290.33,302.70 L290.69,302.20 L291.30,302.05 L291.72,302.45 L291.97,302.95 L292.13,303.45 L292.27,304.20 L292.33,304.70 L292.39,305.45 L292.43,306.20 L292.46,306.95 L292.50,307.70 L292.54,308.45 L292.57,308.95 L292.62,309.70 L292.65,310.45 L292.67,311.20 L292.67,311.95 L292.65,312.70 L292.60,313.45 L292.57,314.20 L292.58,314.95 L292.68,315.70 L292.82,316.20 L293.05,316.81 L293.30,317.37 L293.55,317.90 L293.79,318.45 L293.99,318.95 L294.14,319.45 L294.28,320.20 L294.32,320.70 L294.30,321.20 L294.16,321.95 L293.98,322.45 L293.72,322.95 L293.34,323.45 L293.05,323.74 L292.55,324.10 L292.05,324.33 L291.55,324.46Z " fill="#5cc8a8" stroke="none" stroke-width="0.8" />
<path d="M291.55,323.95 L290.80,323.98 L290.30,323.86 L289.80,323.63 L289.30,323.24 L289.04,322.95 L288.71,322.45 L288.50,321.95 L288.34,321.20 L288.32,320.45 L288.44,319.70 L288.59,319.20 L288.80,318.67 L289.05,318.15 L289.30,317.70 L289.59,317.20 L289.89,316.70 L290.17,316.20 L290.41,315.70 L290.57,315.20 L290.64,314.45 L290.55,313.87 L290.46,313.20 L290.36,312.45 L290.32,311.70 L290.32,310.95 L290.37,310.20 L290.46,309.45 L290.54,308.70 L290.63,308.20 L290.73,307.45 L290.80,306.77 L290.92,306.20 L291.05,305.66 L291.30,306.10 L291.37,306.70 L291.47,307.45 L291.55,307.95 L291.64,308.70 L291.75,309.45 L291.81,309.95 L291.86,310.70 L291.88,311.45 L291.86,312.20 L291.80,312.86 L291.71,313.45 L291.59,314.20 L291.58,314.95 L291.80,315.70 L292.03,316.20 L292.30,316.68 L292.55,317.10 L292.80,317.52 L293.05,317.96 L293.30,318.45 L293.55,319.03 L293.76,319.70 L293.85,320.20 L293.89,320.95 L293.80,321.57 L293.60,322.20 L293.34,322.70 L293.05,323.08 L292.65,323.45 L292.27,323.70 L291.56,323.95Z " fill="#66c04a" stroke="none" stroke-width="0.8" />
<path d="M291.55,323.48 L290.80,323.51 L290.30,323.37 L289.80,323.08 L289.40,322.70 L289.06,322.20 L288.86,321.70 L288.74,321.20 L288.72,320.45 L288.80,319.93 L289.02,319.20 L289.26,318.70 L289.55,318.20 L289.80,317.85 L290.14,317.45 L290.55,317.08 L291.05,316.88 L291.55,317.02 L292.05,317.43 L292.30,317.72 L292.65,318.20 L292.94,318.70 L293.17,319.20 L293.34,319.70 L293.48,320.45 L293.45,321.20 L293.30,321.83 L293.05,322.36 L292.80,322.71 L292.30,323.15 L291.80,323.41Z " fill="#c4dc3a" stroke="none" stroke-width="0.8" />
<path d="M291.55,323.00 L290.80,323.03 L290.30,322.87 L289.80,322.50 L289.55,322.20 L289.29,321.70 L289.12,320.95 L289.16,320.20 L289.30,319.63 L289.55,319.06 L289.80,318.66 L290.21,318.20 L290.55,317.94 L291.30,317.80 L291.80,318.04 L292.23,318.45 L292.55,318.89 L292.80,319.37 L292.99,319.95 L293.08,320.45 L293.05,321.18 L292.91,321.70 L292.65,322.20 L292.30,322.59 L291.80,322.91Z " fill="#f4dc22" stroke="none" stroke-width="0.8" />
<path d="M291.55,322.49 L290.80,322.53 L290.30,322.31 L289.93,321.95 L289.66,321.45 L289.55,320.95 L289.55,320.42 L289.74,319.70 L290.01,319.20 L290.30,318.86 L290.80,318.55 L291.55,318.62 L291.98,318.95 L292.30,319.37 L292.55,319.94 L292.65,320.45 L292.61,321.20 L292.42,321.70 L292.05,322.19 L291.64,322.45Z " fill="#f48a1e" stroke="none" stroke-width="0.8" />
<path d="M291.30,321.95 L290.80,321.92 L290.30,321.54 L290.05,320.95 L290.05,320.45 L290.20,319.95 L290.55,319.47 L291.05,319.25 L291.62,319.45 L292.00,319.95 L292.15,320.45 L292.08,321.20 L291.80,321.66 L291.30,321.95Z " fill="#e2301a" stroke="none" stroke-width="0.8" />
<path d="M311.55,325.21 L310.80,325.35 L310.05,325.35 L309.30,325.23 L308.80,325.08 L308.30,324.86 L307.80,324.58 L307.30,324.21 L307.00,323.95 L306.55,323.48 L306.30,323.16 L305.99,322.70 L305.71,322.20 L305.50,321.70 L305.30,321.08 L305.16,320.45 L305.08,319.70 L305.07,318.95 L305.14,318.20 L305.27,317.45 L305.38,316.95 L305.55,316.32 L305.71,315.70 L305.83,315.20 L305.95,314.45 L306.02,313.70 L306.04,312.95 L306.02,312.20 L305.99,311.45 L305.97,310.70 L305.96,309.95 L305.96,309.20 L305.97,308.45 L306.00,307.70 L306.03,306.95 L306.06,306.45 L306.09,305.70 L306.13,304.95 L306.16,304.20 L306.20,303.45 L306.25,302.70 L306.30,302.06 L306.36,301.45 L306.45,300.70 L306.55,300.11 L306.68,299.45 L306.81,298.95 L307.05,298.20 L307.24,297.70 L307.48,297.20 L307.76,296.70 L308.05,296.28 L308.33,295.95 L308.80,295.51 L309.27,295.20 L309.80,294.99 L310.30,294.91 L310.82,294.95 L311.53,295.20 L311.92,295.45 L312.30,295.77 L312.68,296.20 L313.04,296.70 L313.30,297.16 L313.55,297.69 L313.75,298.20 L313.92,298.70 L314.05,299.20 L314.22,299.95 L314.31,300.45 L314.42,301.20 L314.49,301.95 L314.55,302.70 L314.58,303.20 L314.63,303.95 L314.66,304.70 L314.70,305.45 L314.74,306.20 L314.77,306.95 L314.80,307.70 L314.82,308.20 L314.84,308.95 L314.84,309.70 L314.83,310.45 L314.81,311.20 L314.79,311.70 L314.77,312.45 L314.76,313.20 L314.79,313.95 L314.84,314.45 L314.98,315.20 L315.09,315.70 L315.29,316.45 L315.42,316.95 L315.55,317.56 L315.67,318.20 L315.73,318.95 L315.73,319.70 L315.64,320.45 L315.54,320.95 L315.30,321.70 L315.08,322.20 L314.81,322.70 L314.55,323.10 L314.27,323.45 L313.80,323.95 L313.52,324.20 L313.05,324.55 L312.55,324.84 L312.05,325.06 L311.55,325.21Z " fill="#25207e" stroke="none" stroke-width="0.8" />
<path d="M310.80,324.23 L310.05,324.24 L309.55,324.16 L308.91,323.95 L308.40,323.70 L308.02,323.45 L307.55,323.05 L307.22,322.70 L306.86,322.20 L306.58,321.70 L306.36,321.20 L306.20,320.70 L306.07,319.95 L306.03,319.45 L306.05,318.70 L306.10,318.20 L306.25,317.45 L306.38,316.95 L306.55,316.40 L306.76,315.70 L306.89,315.20 L307.03,314.45 L307.08,313.95 L307.10,313.20 L307.08,312.45 L307.05,311.93 L307.01,311.20 L306.98,310.45 L306.97,309.70 L306.98,308.95 L307.00,308.20 L307.03,307.45 L307.06,306.95 L307.10,306.20 L307.14,305.45 L307.18,304.70 L307.22,303.95 L307.27,303.20 L307.30,302.70 L307.37,301.95 L307.47,301.20 L307.56,300.70 L307.73,299.95 L307.88,299.45 L308.07,298.95 L308.31,298.45 L308.62,297.95 L309.04,297.45 L309.35,297.20 L309.81,296.95 L310.55,296.85 L311.05,296.97 L311.55,297.27 L311.99,297.70 L312.30,298.12 L312.55,298.56 L312.80,299.13 L313.00,299.70 L313.13,300.20 L313.29,300.95 L313.37,301.45 L313.45,302.20 L313.52,302.95 L313.55,303.46 L313.59,304.20 L313.64,304.95 L313.68,305.70 L313.72,306.45 L313.76,307.20 L313.79,307.95 L313.81,308.45 L313.82,309.20 L313.82,309.95 L313.81,310.70 L313.79,311.20 L313.75,311.95 L313.72,312.70 L313.70,313.45 L313.74,314.20 L313.81,314.70 L313.98,315.45 L314.12,315.95 L314.30,316.57 L314.48,317.20 L314.60,317.70 L314.73,318.45 L314.78,319.20 L314.74,319.95 L314.59,320.70 L314.44,321.20 L314.23,321.70 L313.94,322.20 L313.58,322.70 L313.30,323.00 L312.80,323.43 L312.40,323.70 L311.89,323.95 L311.30,324.15 L310.80,324.23Z " fill="#2c50c8" stroke="none" stroke-width="0.8" />
<path d="M311.05,323.48 L310.30,323.55 L309.62,323.45 L309.05,323.26 L308.55,322.99 L308.16,322.70 L307.80,322.36 L307.47,321.95 L307.17,321.45 L306.94,320.95 L306.79,320.45 L306.66,319.70 L306.65,318.95 L306.73,318.20 L306.83,317.70 L307.05,316.95 L307.21,316.45 L307.39,315.95 L307.55,315.45 L307.74,314.70 L307.81,314.20 L307.85,313.45 L307.83,312.70 L307.79,312.20 L307.74,311.45 L307.70,310.70 L307.68,309.95 L307.68,309.20 L307.69,308.45 L307.73,307.70 L307.77,306.95 L307.81,306.45 L307.85,305.70 L307.90,304.95 L307.95,304.20 L308.00,303.45 L308.05,302.81 L308.12,302.20 L308.23,301.45 L308.33,300.95 L308.55,300.21 L308.76,299.70 L309.03,299.20 L309.30,298.85 L309.80,298.45 L310.30,298.30 L310.99,298.45 L311.34,298.70 L311.77,299.20 L312.04,299.70 L312.25,300.20 L312.40,300.70 L312.55,301.35 L312.65,301.95 L312.74,302.70 L312.80,303.41 L312.84,303.95 L312.88,304.70 L312.93,305.45 L312.98,306.20 L313.03,306.95 L313.06,307.45 L313.09,308.20 L313.12,308.95 L313.13,309.70 L313.11,310.45 L313.07,311.20 L313.04,311.70 L312.99,312.45 L312.95,313.20 L312.97,313.95 L313.05,314.63 L313.18,315.20 L313.33,315.70 L313.55,316.35 L313.75,316.95 L313.90,317.45 L314.05,318.11 L314.14,318.70 L314.15,319.45 L314.06,320.20 L313.94,320.70 L313.75,321.20 L313.49,321.70 L313.14,322.20 L312.80,322.56 L312.31,322.95 L311.87,323.20 L311.30,323.42Z " fill="#44a8e6" stroke="none" stroke-width="0.8" />
<path d="M310.80,322.95 L310.05,322.96 L309.55,322.85 L309.05,322.65 L308.55,322.33 L308.14,321.95 L307.80,321.51 L307.55,321.07 L307.31,320.45 L307.19,319.95 L307.13,319.20 L307.19,318.45 L307.30,317.90 L307.50,317.20 L307.69,316.70 L307.89,316.20 L308.09,315.70 L308.30,315.09 L308.46,314.45 L308.54,313.70 L308.52,312.95 L308.45,312.20 L308.38,311.45 L308.32,310.70 L308.30,310.19 L308.29,309.45 L308.30,308.84 L308.33,308.20 L308.37,307.45 L308.43,306.70 L308.49,305.95 L308.55,305.20 L308.59,304.70 L308.65,303.95 L308.72,303.20 L308.80,302.53 L308.90,301.95 L309.05,301.35 L309.30,300.70 L309.55,300.27 L309.87,299.95 L310.55,299.76 L311.05,300.04 L311.36,300.45 L311.61,300.95 L311.80,301.53 L311.95,302.20 L312.05,302.90 L312.11,303.45 L312.17,304.20 L312.23,304.95 L312.29,305.70 L312.33,306.20 L312.39,306.95 L312.44,307.70 L312.49,308.45 L312.51,309.20 L312.51,309.95 L312.48,310.70 L312.42,311.45 L312.35,312.20 L312.30,312.75 L312.26,313.45 L312.30,314.18 L312.39,314.70 L312.55,315.25 L312.80,315.92 L313.01,316.45 L313.21,316.95 L313.38,317.45 L313.55,318.12 L313.64,318.70 L313.66,319.45 L313.55,320.20 L313.41,320.70 L313.19,321.20 L312.86,321.70 L312.55,322.06 L312.08,322.45 L311.64,322.70 L311.05,322.91Z " fill="#5cc8a8" stroke="none" stroke-width="0.8" />
<path d="M310.80,322.45 L310.05,322.46 L309.55,322.34 L309.05,322.09 L308.55,321.70 L308.30,321.42 L307.99,320.95 L307.78,320.45 L307.60,319.70 L307.58,318.95 L307.68,318.20 L307.81,317.70 L308.05,317.05 L308.30,316.50 L308.55,315.99 L308.80,315.49 L309.05,314.95 L309.22,314.45 L309.31,313.95 L309.31,313.20 L309.25,312.70 L309.13,311.95 L309.05,311.43 L308.97,310.70 L308.93,309.95 L308.93,309.20 L308.96,308.45 L309.01,307.70 L309.06,307.20 L309.15,306.45 L309.24,305.70 L309.30,305.20 L309.40,304.45 L309.50,303.70 L309.59,303.20 L309.80,302.45 L310.05,301.99 L310.55,301.83 L310.88,302.20 L311.09,302.70 L311.26,303.45 L311.34,303.95 L311.43,304.70 L311.53,305.45 L311.59,305.95 L311.68,306.70 L311.76,307.45 L311.81,307.95 L311.86,308.70 L311.88,309.45 L311.86,310.20 L311.81,310.95 L311.74,311.45 L311.63,312.20 L311.55,312.74 L311.47,313.45 L311.53,314.20 L311.66,314.70 L311.86,315.20 L312.10,315.70 L312.35,316.20 L312.60,316.70 L312.81,317.20 L313.05,317.91 L313.17,318.45 L313.23,319.20 L313.16,319.95 L313.02,320.45 L312.80,320.96 L312.47,321.45 L312.05,321.88 L311.56,322.20 L311.05,322.40Z " fill="#66c04a" stroke="none" stroke-width="0.8" />
<path d="M310.55,311.31 L310.05,311.00 L309.90,310.45 L309.81,309.70 L309.83,308.95 L309.95,308.20 L310.10,307.70 L310.55,307.41 L310.80,307.95 L310.90,308.45 L310.98,309.20 L310.96,309.95 L310.84,310.70 L310.62,311.20Z M310.80,321.98 L310.05,321.99 L309.55,321.84 L309.05,321.55 L308.69,321.20 L308.34,320.70 L308.13,320.20 L308.01,319.70 L307.98,318.95 L308.05,318.42 L308.25,317.70 L308.47,317.20 L308.74,316.70 L309.05,316.21 L309.30,315.88 L309.69,315.45 L310.05,315.15 L310.80,315.18 L311.11,315.45 L311.55,315.94 L311.80,316.28 L312.07,316.70 L312.33,317.20 L312.55,317.71 L312.76,318.45 L312.82,318.95 L312.80,319.58 L312.67,320.20 L312.46,320.70 L312.11,321.20 L311.80,321.51 L311.30,321.82 L310.80,321.98Z " fill="#c4dc3a" stroke="none" stroke-width="0.8" />
<path d="M310.80,321.50 L310.05,321.52 L309.55,321.33 L309.05,320.95 L308.80,320.64 L308.55,320.14 L308.39,319.45 L308.41,318.70 L308.55,318.11 L308.80,317.52 L309.05,317.10 L309.38,316.70 L309.80,316.34 L310.30,316.15 L310.80,316.23 L311.30,316.57 L311.64,316.95 L311.96,317.45 L312.19,317.95 L312.34,318.45 L312.42,319.20 L312.32,319.95 L312.11,320.45 L311.80,320.90 L311.46,321.20 L310.98,321.45Z " fill="#f4dc22" stroke="none" stroke-width="0.8" />
<path d="M310.80,320.99 L310.05,321.01 L309.55,320.77 L309.23,320.45 L308.95,319.95 L308.80,319.20 L308.91,318.45 L309.10,317.95 L309.44,317.45 L309.80,317.12 L310.30,316.93 L310.80,317.01 L311.30,317.37 L311.56,317.70 L311.81,318.20 L311.99,318.95 L311.93,319.70 L311.74,320.20 L311.33,320.70 L310.91,320.95Z " fill="#f48a1e" stroke="none" stroke-width="0.8" />
<path d="M310.30,320.46 L309.80,320.25 L309.53,319.95 L309.31,319.20 L309.46,318.45 L309.80,317.95 L310.30,317.70 L310.55,317.71 L311.05,318.00 L311.34,318.45 L311.49,319.20 L311.30,319.89 L311.05,320.21 L310.52,320.45Z " fill="#e2301a" stroke="none" stroke-width="0.8" />
<path d="M330.80,325.71 L330.05,325.86 L329.30,325.87 L328.55,325.75 L328.05,325.59 L327.55,325.36 L327.05,325.06 L326.59,324.70 L326.30,324.43 L325.87,323.95 L325.55,323.50 L325.30,323.09 L325.05,322.58 L324.81,321.95 L324.67,321.45 L324.55,320.82 L324.48,320.20 L324.46,319.45 L324.52,318.70 L324.59,318.20 L324.72,317.45 L324.83,316.95 L324.98,316.20 L325.07,315.70 L325.17,314.95 L325.22,314.20 L325.23,313.45 L325.22,312.70 L325.20,311.95 L325.19,311.20 L325.19,310.45 L325.20,309.70 L325.23,308.95 L325.27,308.20 L325.30,307.64 L325.34,306.95 L325.39,306.20 L325.44,305.45 L325.49,304.70 L325.55,304.00 L325.59,303.45 L325.67,302.70 L325.77,301.95 L325.84,301.45 L325.98,300.70 L326.10,300.20 L326.30,299.52 L326.50,298.95 L326.71,298.45 L326.96,297.95 L327.27,297.45 L327.55,297.08 L327.91,296.70 L328.30,296.38 L328.80,296.11 L329.55,295.96 L330.30,296.08 L330.80,296.32 L331.29,296.70 L331.55,296.96 L331.93,297.45 L332.24,297.95 L332.49,298.45 L332.70,298.95 L332.88,299.45 L333.05,300.03 L333.22,300.70 L333.31,301.20 L333.44,301.95 L333.53,302.70 L333.58,303.20 L333.65,303.95 L333.71,304.70 L333.76,305.45 L333.80,306.09 L333.84,306.70 L333.89,307.45 L333.94,308.20 L333.97,308.95 L334.00,309.70 L334.01,310.45 L334.01,311.20 L334.00,311.95 L333.98,312.70 L333.97,313.45 L333.98,314.20 L334.03,314.95 L334.09,315.45 L334.22,316.20 L334.32,316.70 L334.48,317.45 L334.57,317.95 L334.68,318.70 L334.73,319.45 L334.72,320.20 L334.64,320.95 L334.53,321.45 L334.30,322.20 L334.10,322.70 L333.84,323.20 L333.55,323.65 L333.30,323.98 L332.88,324.45 L332.55,324.75 L332.05,325.12 L331.55,325.41 L331.05,325.63Z " fill="#25207e" stroke="none" stroke-width="0.8" />
<path d="M330.55,324.51 L329.80,324.64 L329.05,324.60 L328.47,324.45 L327.90,324.20 L327.50,323.95 L327.05,323.59 L326.69,323.20 L326.32,322.70 L326.05,322.21 L325.83,321.70 L325.67,321.20 L325.55,320.57 L325.49,319.95 L325.50,319.20 L325.55,318.69 L325.67,317.95 L325.80,317.41 L325.98,316.70 L326.10,316.20 L326.26,315.45 L326.33,314.95 L326.39,314.20 L326.39,313.45 L326.37,312.70 L326.34,311.95 L326.33,311.20 L326.32,310.45 L326.34,309.70 L326.37,308.95 L326.41,308.20 L326.46,307.45 L326.51,306.70 L326.55,306.11 L326.59,305.45 L326.65,304.70 L326.71,303.95 L326.78,303.20 L326.84,302.70 L326.96,301.95 L327.07,301.45 L327.27,300.70 L327.45,300.20 L327.68,299.70 L327.97,299.20 L328.30,298.78 L328.68,298.45 L329.18,298.20 L329.80,298.14 L330.30,298.31 L330.80,298.68 L331.05,298.95 L331.39,299.45 L331.64,299.95 L331.84,300.45 L332.05,301.13 L332.19,301.70 L332.30,302.33 L332.39,302.95 L332.47,303.70 L332.53,304.45 L332.57,304.95 L332.62,305.70 L332.68,306.45 L332.73,307.20 L332.78,307.95 L332.81,308.45 L332.84,309.20 L332.87,309.95 L332.88,310.70 L332.87,311.45 L332.85,312.20 L332.82,312.95 L332.80,313.70 L332.82,314.45 L332.90,315.20 L333.04,315.95 L333.16,316.45 L333.30,317.01 L333.47,317.70 L333.57,318.20 L333.68,318.95 L333.72,319.70 L333.67,320.45 L333.55,321.09 L333.37,321.70 L333.16,322.20 L332.88,322.70 L332.55,323.15 L332.29,323.45 L331.80,323.88 L331.30,324.20 L330.80,324.43Z " fill="#2c50c8" stroke="none" stroke-width="0.8" />
<path d="M330.55,323.71 L329.80,323.87 L329.05,323.82 L328.55,323.68 L328.05,323.44 L327.55,323.07 L327.18,322.70 L326.81,322.20 L326.55,321.70 L326.36,321.20 L326.23,320.70 L326.13,319.95 L326.14,319.20 L326.24,318.45 L326.35,317.95 L326.55,317.21 L326.71,316.70 L326.86,316.20 L327.05,315.46 L327.14,314.95 L327.20,314.20 L327.20,313.45 L327.17,312.70 L327.13,311.95 L327.11,311.20 L327.10,310.45 L327.12,309.70 L327.15,308.95 L327.20,308.20 L327.26,307.45 L327.30,306.92 L327.36,306.20 L327.41,305.45 L327.47,304.70 L327.54,303.95 L327.60,303.45 L327.71,302.70 L327.82,302.20 L328.04,301.45 L328.25,300.95 L328.54,300.45 L328.80,300.16 L329.30,299.85 L330.05,299.91 L330.44,300.20 L330.80,300.67 L331.05,301.16 L331.25,301.70 L331.38,302.20 L331.53,302.95 L331.60,303.45 L331.68,304.20 L331.75,304.95 L331.80,305.62 L331.84,306.20 L331.90,306.95 L331.96,307.70 L332.02,308.45 L332.05,309.02 L332.08,309.70 L332.10,310.45 L332.09,311.20 L332.07,311.95 L332.04,312.45 L332.01,313.20 L331.99,313.95 L332.03,314.70 L332.10,315.20 L332.27,315.95 L332.42,316.45 L332.57,316.95 L332.79,317.70 L332.91,318.20 L333.04,318.95 L333.07,319.45 L333.05,320.16 L332.97,320.70 L332.80,321.33 L332.55,321.91 L332.30,322.33 L332.02,322.70 L331.55,323.16 L331.12,323.45 L330.59,323.70Z " fill="#44a8e6" stroke="none" stroke-width="0.8" />
<path d="M330.05,323.22 L329.30,323.24 L328.80,323.13 L328.30,322.90 L327.80,322.53 L327.49,322.20 L327.15,321.70 L326.92,321.20 L326.76,320.70 L326.65,319.95 L326.66,319.20 L326.77,318.45 L326.89,317.95 L327.05,317.45 L327.30,316.78 L327.52,316.20 L327.70,315.70 L327.84,315.20 L327.96,314.45 L327.98,313.70 L327.94,312.95 L327.88,312.20 L327.83,311.45 L327.82,310.70 L327.83,309.95 L327.86,309.20 L327.92,308.45 L327.99,307.70 L328.05,307.13 L328.12,306.45 L328.20,305.70 L328.27,304.95 L328.33,304.45 L328.44,303.70 L328.55,303.16 L328.79,302.45 L329.05,302.00 L329.49,301.70 L329.80,301.72 L330.28,302.20 L330.51,302.70 L330.65,303.20 L330.80,303.92 L330.87,304.45 L330.95,305.20 L331.03,305.95 L331.08,306.45 L331.16,307.20 L331.23,307.95 L331.30,308.70 L331.34,309.20 L331.37,309.95 L331.38,310.70 L331.37,311.45 L331.32,312.20 L331.28,312.70 L331.23,313.45 L331.22,314.20 L331.30,314.88 L331.43,315.45 L331.59,315.95 L331.80,316.52 L332.05,317.18 L332.23,317.70 L332.37,318.20 L332.52,318.95 L332.56,319.45 L332.55,319.96 L332.44,320.70 L332.28,321.20 L332.05,321.70 L331.71,322.20 L331.30,322.61 L330.80,322.95 L330.30,323.16Z " fill="#5cc8a8" stroke="none" stroke-width="0.8" />
<path d="M329.55,322.70 L329.05,322.63 L328.55,322.43 L328.05,322.06 L327.73,321.70 L327.44,321.20 L327.25,320.70 L327.11,319.95 L327.12,319.20 L327.25,318.45 L327.40,317.95 L327.59,317.45 L327.83,316.95 L328.08,316.45 L328.36,315.95 L328.63,315.45 L328.86,314.95 L329.05,314.23 L329.06,313.70 L328.99,313.20 L328.85,312.45 L328.76,311.95 L328.69,311.20 L328.67,310.45 L328.71,309.70 L328.79,308.95 L328.88,308.45 L329.03,307.70 L329.19,307.20 L329.43,306.70 L329.80,306.70 L330.05,307.28 L330.22,307.95 L330.33,308.45 L330.44,309.20 L330.51,309.95 L330.53,310.70 L330.49,311.45 L330.39,312.20 L330.30,312.78 L330.16,313.45 L330.13,314.20 L330.30,314.82 L330.55,315.39 L330.80,315.86 L331.05,316.32 L331.30,316.80 L331.55,317.32 L331.80,317.95 L331.95,318.45 L332.05,318.95 L332.10,319.70 L332.05,320.27 L331.87,320.95 L331.63,321.45 L331.30,321.90 L330.99,322.20 L330.55,322.48 L329.80,322.70Z " fill="#66c04a" stroke="none" stroke-width="0.8" />
<path d="M330.30,322.02 L329.55,322.17 L328.80,321.98 L328.40,321.70 L328.05,321.32 L327.80,320.88 L327.59,320.20 L327.54,319.70 L327.56,319.20 L327.72,318.45 L327.91,317.95 L328.17,317.45 L328.51,316.95 L328.80,316.63 L329.30,316.28 L330.05,316.36 L330.46,316.70 L330.80,317.10 L331.05,317.48 L331.30,317.98 L331.55,318.70 L331.64,319.20 L331.64,319.95 L331.55,320.46 L331.30,321.08 L331.05,321.45 L330.55,321.89Z " fill="#c4dc3a" stroke="none" stroke-width="0.8" />
<path d="M330.05,321.53 L329.30,321.57 L328.80,321.35 L328.41,320.95 L328.15,320.45 L328.02,319.95 L328.03,319.20 L328.15,318.70 L328.36,318.20 L328.71,317.70 L329.05,317.40 L329.80,317.25 L330.30,317.51 L330.68,317.95 L330.96,318.45 L331.12,318.95 L331.20,319.70 L331.06,320.45 L330.80,320.95 L330.55,321.23 L330.05,321.53Z " fill="#f4dc22" stroke="none" stroke-width="0.8" />
<path d="M330.05,320.81 L329.30,320.88 L328.80,320.47 L328.59,319.95 L328.60,319.20 L328.80,318.68 L329.29,318.20 L329.80,318.16 L330.23,318.45 L330.53,318.95 L330.64,319.45 L330.55,320.18 L330.30,320.60Z " fill="#f48a1e" stroke="none" stroke-width="0.8" />
<rect x="258.8" y="285.2" width="82.69999999999999" height="49.60000000000002" fill="none" stroke="#222" stroke-width="0.9" />
<rect x="263.3" y="287" width="16.30000000000001" height="25.600000000000023" fill="none" stroke="#222" stroke-width="0.8" />
<rect x="283" y="287" width="16.19999999999999" height="25.600000000000023" fill="none" stroke="#222" stroke-width="0.8" />
<rect x="302.7" y="287" width="16.100000000000023" height="25.600000000000023" fill="none" stroke="#222" stroke-width="0.8" />
<rect x="322.2" y="287" width="16.100000000000023" height="25.600000000000023" fill="none" stroke="#222" stroke-width="0.8" />
<line x1="271.45000000000005" y1="283.0" x2="271.45000000000005" y2="285.2" stroke="#231f20" stroke-width="0.8" />
<line x1="271.45000000000005" y1="334.8" x2="271.45000000000005" y2="337.0" stroke="#231f20" stroke-width="0.8" />
<text x="271.45000000000005" y="274.7" font-size="6.9" text-anchor="middle" >45%</text>
<text x="271.45000000000005" y="282.5" font-size="6.9" text-anchor="middle" >2823</text>
<line x1="291.1" y1="283.0" x2="291.1" y2="285.2" stroke="#231f20" stroke-width="0.8" />
<line x1="291.1" y1="334.8" x2="291.1" y2="337.0" stroke="#231f20" stroke-width="0.8" />
<text x="291.1" y="274.7" font-size="6.9" text-anchor="middle" >26%</text>
<text x="291.1" y="282.5" font-size="6.9" text-anchor="middle" >1552</text>
<line x1="310.75" y1="283.0" x2="310.75" y2="285.2" stroke="#231f20" stroke-width="0.8" />
<line x1="310.75" y1="334.8" x2="310.75" y2="337.0" stroke="#231f20" stroke-width="0.8" />
<text x="310.75" y="274.7" font-size="6.9" text-anchor="middle" >36%</text>
<text x="310.75" y="282.5" font-size="6.9" text-anchor="middle" >2604</text>
<line x1="330.25" y1="283.0" x2="330.25" y2="285.2" stroke="#231f20" stroke-width="0.8" />
<line x1="330.25" y1="334.8" x2="330.25" y2="337.0" stroke="#231f20" stroke-width="0.8" />
<text x="330.25" y="274.7" font-size="6.9" text-anchor="middle" >34%</text>
<text x="330.25" y="282.5" font-size="6.9" text-anchor="middle" >2856</text>
<line x1="256.8" y1="292.7" x2="258.8" y2="292.7" stroke="#231f20" stroke-width="0.7" />
<text x="247.60000000000002" y="295.2" font-size="7" text-anchor="middle" >10<tspan baseline-shift="46%" font-size="70%">5</tspan></text>
<line x1="256.8" y1="304.5" x2="258.8" y2="304.5" stroke="#231f20" stroke-width="0.7" />
<text x="247.60000000000002" y="307.0" font-size="7" text-anchor="middle" >10<tspan baseline-shift="46%" font-size="70%">4</tspan></text>
<line x1="256.8" y1="316" x2="258.8" y2="316" stroke="#231f20" stroke-width="0.7" />
<text x="247.60000000000002" y="318.5" font-size="7" text-anchor="middle" >10<tspan baseline-shift="46%" font-size="70%">3</tspan></text>
<line x1="256.8" y1="331.1" x2="258.8" y2="331.1" stroke="#231f20" stroke-width="0.7" />
<text x="249.60000000000002" y="333.6" font-size="7" text-anchor="middle" >0</text>
<line x1="257.6" y1="288.2" x2="258.8" y2="288.2" stroke="#231f20" stroke-width="0.4" />
<line x1="257.6" y1="289.8" x2="258.8" y2="289.8" stroke="#231f20" stroke-width="0.4" />
<line x1="257.6" y1="291.40000000000003" x2="258.8" y2="291.40000000000003" stroke="#231f20" stroke-width="0.4" />
<line x1="257.6" y1="293.00000000000006" x2="258.8" y2="293.00000000000006" stroke="#231f20" stroke-width="0.4" />
<line x1="257.6" y1="294.6000000000001" x2="258.8" y2="294.6000000000001" stroke="#231f20" stroke-width="0.4" />
<line x1="257.6" y1="296.2000000000001" x2="258.8" y2="296.2000000000001" stroke="#231f20" stroke-width="0.4" />
<line x1="257.6" y1="297.8000000000001" x2="258.8" y2="297.8000000000001" stroke="#231f20" stroke-width="0.4" />
<line x1="257.6" y1="299.40000000000015" x2="258.8" y2="299.40000000000015" stroke="#231f20" stroke-width="0.4" />
<line x1="257.6" y1="301.00000000000017" x2="258.8" y2="301.00000000000017" stroke="#231f20" stroke-width="0.4" />
<line x1="257.6" y1="302.6000000000002" x2="258.8" y2="302.6000000000002" stroke="#231f20" stroke-width="0.4" />
<line x1="257.6" y1="304.2000000000002" x2="258.8" y2="304.2000000000002" stroke="#231f20" stroke-width="0.4" />
<line x1="257.6" y1="305.80000000000024" x2="258.8" y2="305.80000000000024" stroke="#231f20" stroke-width="0.4" />
<line x1="257.6" y1="307.40000000000026" x2="258.8" y2="307.40000000000026" stroke="#231f20" stroke-width="0.4" />
<line x1="257.6" y1="309.0000000000003" x2="258.8" y2="309.0000000000003" stroke="#231f20" stroke-width="0.4" />
<line x1="257.6" y1="310.6000000000003" x2="258.8" y2="310.6000000000003" stroke="#231f20" stroke-width="0.4" />
<line x1="257.6" y1="312.20000000000033" x2="258.8" y2="312.20000000000033" stroke="#231f20" stroke-width="0.4" />
<line x1="257.6" y1="313.80000000000035" x2="258.8" y2="313.80000000000035" stroke="#231f20" stroke-width="0.4" />
<line x1="257.6" y1="315.4000000000004" x2="258.8" y2="315.4000000000004" stroke="#231f20" stroke-width="0.4" />
<line x1="257.6" y1="317.0000000000004" x2="258.8" y2="317.0000000000004" stroke="#231f20" stroke-width="0.4" />
<line x1="257.6" y1="318.6000000000004" x2="258.8" y2="318.6000000000004" stroke="#231f20" stroke-width="0.4" />
<line x1="257.6" y1="320.20000000000044" x2="258.8" y2="320.20000000000044" stroke="#231f20" stroke-width="0.4" />
<line x1="257.6" y1="321.80000000000047" x2="258.8" y2="321.80000000000047" stroke="#231f20" stroke-width="0.4" />
<line x1="257.6" y1="323.4000000000005" x2="258.8" y2="323.4000000000005" stroke="#231f20" stroke-width="0.4" />
<line x1="257.6" y1="325.0000000000005" x2="258.8" y2="325.0000000000005" stroke="#231f20" stroke-width="0.4" />
<line x1="257.6" y1="326.60000000000053" x2="258.8" y2="326.60000000000053" stroke="#231f20" stroke-width="0.4" />
<line x1="257.6" y1="328.20000000000056" x2="258.8" y2="328.20000000000056" stroke="#231f20" stroke-width="0.4" />
<line x1="257.6" y1="329.8000000000006" x2="258.8" y2="329.8000000000006" stroke="#231f20" stroke-width="0.4" />
<line x1="257.6" y1="331.4000000000006" x2="258.8" y2="331.4000000000006" stroke="#231f20" stroke-width="0.4" />
<line x1="257.6" y1="333.0000000000006" x2="258.8" y2="333.0000000000006" stroke="#231f20" stroke-width="0.4" />
<line x1="256.2" y1="324.8" x2="258.8" y2="324.8" stroke="#231f20" stroke-width="0.75" />
<line x1="256.2" y1="326.1" x2="258.8" y2="326.1" stroke="#231f20" stroke-width="0.75" />
<line x1="256.2" y1="327.40000000000003" x2="258.8" y2="327.40000000000003" stroke="#231f20" stroke-width="0.75" />
<line x1="256.2" y1="328.70000000000005" x2="258.8" y2="328.70000000000005" stroke="#231f20" stroke-width="0.75" />
<line x1="256.2" y1="330.00000000000006" x2="258.8" y2="330.00000000000006" stroke="#231f20" stroke-width="0.75" />
<line x1="256.2" y1="331.30000000000007" x2="258.8" y2="331.30000000000007" stroke="#231f20" stroke-width="0.75" />
<line x1="256.2" y1="332.6000000000001" x2="258.8" y2="332.6000000000001" stroke="#231f20" stroke-width="0.75" />
<line x1="256.2" y1="333.9000000000001" x2="258.8" y2="333.9000000000001" stroke="#231f20" stroke-width="0.75" />
<text x="237.3" y="312.1" font-size="7.6" text-anchor="middle" transform="rotate(-90 237.3 312.1)" >IL-6</text>
<text x="271.4" y="346.7" font-size="6.9" text-anchor="middle" >M</text>
<text x="291.1" y="346.7" font-size="6.9" text-anchor="middle" >M+GM</text>
<text x="310.7" y="346.7" font-size="6.9" text-anchor="middle" >M</text>
<text x="330.2" y="346.7" font-size="6.9" text-anchor="middle" >M+GM</text>
<line x1="305.7" y1="349.3" x2="341.2" y2="349.3" stroke="#231f20" stroke-width="0.9" />
<text x="323.5" y="356.5" font-size="6.4" text-anchor="middle" >+BMS</text>
<line x1="383.9" y1="190.6" x2="383.9" y2="240.4" stroke="#231f20" stroke-width="1.1" />
<line x1="381.9" y1="240.4" x2="421.7" y2="240.4" stroke="#231f20" stroke-width="1.1" />
<line x1="381.9" y1="192.02499999999998" x2="383.9" y2="192.02499999999998" stroke="#231f20" stroke-width="0.8" />
<line x1="381.9" y1="201.7" x2="383.9" y2="201.7" stroke="#231f20" stroke-width="0.8" />
<text x="379.9" y="203.89999999999998" font-size="6.3" text-anchor="end" >20</text>
<line x1="381.9" y1="211.375" x2="383.9" y2="211.375" stroke="#231f20" stroke-width="0.8" />
<line x1="381.9" y1="221.05" x2="383.9" y2="221.05" stroke="#231f20" stroke-width="0.8" />
<text x="379.9" y="223.25" font-size="6.3" text-anchor="end" >10</text>
<line x1="381.9" y1="230.725" x2="383.9" y2="230.725" stroke="#231f20" stroke-width="0.8" />
<line x1="381.9" y1="240.4" x2="383.9" y2="240.4" stroke="#231f20" stroke-width="0.8" />
<text x="379.9" y="242.6" font-size="6.3" text-anchor="end" >0</text>
<rect x="387.8" y="206.4" width="7.099999999999966" height="34.0" fill="#a9cfee" stroke="none" stroke-width="0.8" />
<line x1="391.35" y1="206.4" x2="391.35" y2="201.4" stroke="#6d8aa8" stroke-width="0.9" />
<line x1="389.55" y1="201.4" x2="393.15000000000003" y2="201.4" stroke="#6d8aa8" stroke-width="0.9" />
<rect x="395.8" y="228.1" width="6.599999999999966" height="12.300000000000011" fill="#e8907e" stroke="none" stroke-width="0.8" />
<line x1="399.1" y1="228.1" x2="399.1" y2="226" stroke="#a86a5c" stroke-width="0.9" />
<line x1="397.3" y1="226" x2="400.90000000000003" y2="226" stroke="#a86a5c" stroke-width="0.9" />
<rect x="403" y="204.6" width="7" height="35.80000000000001" fill="#2b9ad8" stroke="none" stroke-width="0.8" />
<line x1="406.5" y1="204.6" x2="406.5" y2="202.8" stroke="#2a6a98" stroke-width="0.9" />
<line x1="404.7" y1="202.8" x2="408.3" y2="202.8" stroke="#2a6a98" stroke-width="0.9" />
<rect x="411" y="215.6" width="6.699999999999989" height="24.80000000000001" fill="#c30f2d" stroke="none" stroke-width="0.8" />
<line x1="414.35" y1="215.6" x2="414.35" y2="211.2" stroke="#8a1020" stroke-width="0.9" />
<line x1="412.55" y1="211.2" x2="416.15000000000003" y2="211.2" stroke="#8a1020" stroke-width="0.9" />
<line x1="390.5" y1="198.7" x2="399.4" y2="198.7" stroke="#231f20" stroke-width="0.7" />
<text x="395.7" y="200.39999999999998" font-size="6.4" text-anchor="middle" letter-spacing="1.5">***</text>
<line x1="397.6" y1="192.5" x2="416.7" y2="192.5" stroke="#231f20" stroke-width="0.7" />
<text x="407.9" y="194.2" font-size="6.4" text-anchor="middle" letter-spacing="1.5">*</text>
<line x1="407.4" y1="198.7" x2="416.7" y2="198.7" stroke="#231f20" stroke-width="0.7" />
<text x="412.79999999999995" y="200.39999999999998" font-size="6.4" text-anchor="middle" letter-spacing="1.5">*</text>
<text x="364.6" y="213.5" font-size="8.3" text-anchor="middle" textLength="51.5" lengthAdjust="spacingAndGlyphs" transform="rotate(-90 364.6 213.5)" >TNF-α MFI × 10<tspan baseline-shift="46%" font-size="70%">3</tspan></text>
<line x1="473.1" y1="190.9" x2="473.1" y2="240.5" stroke="#231f20" stroke-width="0.9" />
<line x1="473.1" y1="240.5" x2="512.8" y2="240.5" stroke="#231f20" stroke-width="0.9" />
<line x1="471.1" y1="191.9" x2="473.1" y2="191.9" stroke="#231f20" stroke-width="0.8" />
<text x="469.1" y="194.1" font-size="6.4" text-anchor="end" >100</text>
<line x1="471.1" y1="203.9" x2="473.1" y2="203.9" stroke="#231f20" stroke-width="0.8" />
<line x1="471.1" y1="216.2" x2="473.1" y2="216.2" stroke="#231f20" stroke-width="0.8" />
<text x="469.1" y="218.39999999999998" font-size="6.4" text-anchor="end" >60</text>
<line x1="471.1" y1="228.4" x2="473.1" y2="228.4" stroke="#231f20" stroke-width="0.8" />
<line x1="471.1" y1="240.5" x2="473.1" y2="240.5" stroke="#231f20" stroke-width="0.8" />
<text x="469.1" y="242.7" font-size="6.4" text-anchor="end" >20</text>
<line x1="481.9" y1="193" x2="481.9" y2="204" stroke="#7fb3db" stroke-width="0.8" />
<line x1="479.9" y1="193" x2="483.9" y2="193" stroke="#7fb3db" stroke-width="1.0" />
<line x1="479.9" y1="204" x2="483.9" y2="204" stroke="#7fb3db" stroke-width="1.0" />
<rect x="478.59999999999997" y="195.8" width="6.6" height="5.5" fill="#a9cfee" stroke="#7fb3db" stroke-width="0.6" />
<line x1="478.59999999999997" y1="198.5" x2="485.2" y2="198.5" stroke="#7fb3db" stroke-width="0.7" />
<line x1="489.1" y1="205.7" x2="489.1" y2="218.2" stroke="#c56e5e" stroke-width="0.8" />
<line x1="487.1" y1="205.7" x2="491.1" y2="205.7" stroke="#c56e5e" stroke-width="1.0" />
<line x1="487.1" y1="218.2" x2="491.1" y2="218.2" stroke="#c56e5e" stroke-width="1.0" />
<rect x="485.90000000000003" y="207.9" width="6.4" height="8.099999999999994" fill="#e8907e" stroke="#c56e5e" stroke-width="0.6" />
<line x1="485.90000000000003" y1="211.5" x2="492.3" y2="211.5" stroke="#c56e5e" stroke-width="0.7" />
<line x1="497.4" y1="192.3" x2="497.4" y2="198.5" stroke="#1c78b0" stroke-width="0.8" />
<line x1="495.4" y1="192.3" x2="499.4" y2="192.3" stroke="#1c78b0" stroke-width="1.0" />
<line x1="495.4" y1="198.5" x2="499.4" y2="198.5" stroke="#1c78b0" stroke-width="1.0" />
<rect x="494.2" y="193.6" width="6.4" height="3.8000000000000114" fill="#2b9ad8" stroke="#1c78b0" stroke-width="0.6" />
<line x1="494.2" y1="195.5" x2="500.59999999999997" y2="195.5" stroke="#1c78b0" stroke-width="0.7" />
<line x1="506.2" y1="199.6" x2="506.2" y2="205.7" stroke="#8a0a20" stroke-width="0.8" />
<line x1="504.2" y1="199.6" x2="508.2" y2="199.6" stroke="#8a0a20" stroke-width="1.0" />
<line x1="504.2" y1="205.7" x2="508.2" y2="205.7" stroke="#8a0a20" stroke-width="1.0" />
<rect x="503.2" y="200.7" width="6.0" height="3.9000000000000057" fill="#c30f2d" stroke="#8a0a20" stroke-width="0.6" />
<line x1="503.2" y1="202.6" x2="509.2" y2="202.6" stroke="#8a0a20" stroke-width="0.7" />
<line x1="482.1" y1="188.6" x2="490.2" y2="188.6" stroke="#231f20" stroke-width="0.7" />
<text x="486.9" y="190.29999999999998" font-size="6.4" text-anchor="middle" letter-spacing="1.5">**</text>
<line x1="488" y1="182" x2="507" y2="182" stroke="#231f20" stroke-width="0.7" />
<text x="498.25" y="183.7" font-size="6.4" text-anchor="middle" letter-spacing="1.5">*</text>
<text x="442" y="213.8" font-size="7.3" text-anchor="middle" transform="rotate(-90 442 213.8)" >% of TNF-α-</text>
<text x="453" y="213.8" font-size="7.3" text-anchor="middle" transform="rotate(-90 453 213.8)" >producing cells</text>
<rect x="400.8" y="253.29999999999998" width="5.8" height="5.8" fill="#a9cfee" stroke="none" stroke-width="0.8" />
<text x="410.3" y="258.5" font-size="6.8" >M-CSF</text>
<rect x="440.3" y="253.29999999999998" width="5.8" height="5.8" fill="#e8907e" stroke="none" stroke-width="0.8" />
<text x="449.8" y="258.5" font-size="6.8" >M+GM-CSF</text>
<rect x="400.8" y="263.70000000000005" width="5.8" height="5.8" fill="#2b9ad8" stroke="none" stroke-width="0.8" />
<text x="410.3" y="268.90000000000003" font-size="6.8" >M+BMS</text>
<rect x="440.3" y="263.70000000000005" width="5.8" height="5.8" fill="#c30f2d" stroke="none" stroke-width="0.8" />
<text x="449.8" y="268.90000000000003" font-size="6.8" >M+GM+BMS</text>
<line x1="384.6" y1="284.7" x2="384.6" y2="335" stroke="#231f20" stroke-width="1.1" />
<line x1="382.6" y1="335" x2="419.5" y2="335" stroke="#231f20" stroke-width="1.1" />
<line x1="382.6" y1="285.7" x2="384.6" y2="285.7" stroke="#231f20" stroke-width="0.8" />
<text x="380.6" y="287.9" font-size="6.3" text-anchor="end" >4</text>
<line x1="382.6" y1="298.025" x2="384.6" y2="298.025" stroke="#231f20" stroke-width="0.8" />
<line x1="382.6" y1="310.35" x2="384.6" y2="310.35" stroke="#231f20" stroke-width="0.8" />
<text x="380.6" y="312.55" font-size="6.3" text-anchor="end" >2</text>
<line x1="382.6" y1="322.675" x2="384.6" y2="322.675" stroke="#231f20" stroke-width="0.8" />
<line x1="382.6" y1="335" x2="384.6" y2="335" stroke="#231f20" stroke-width="0.8" />
<text x="380.6" y="337.2" font-size="6.3" text-anchor="end" >0</text>
<rect x="388.4" y="306.8" width="7.100000000000023" height="28.19999999999999" fill="#a9cfee" stroke="none" stroke-width="0.8" />
<line x1="391.95" y1="306.8" x2="391.95" y2="301" stroke="#6d8aa8" stroke-width="0.9" />
<line x1="390.15" y1="301" x2="393.75" y2="301" stroke="#6d8aa8" stroke-width="0.9" />
<rect x="396" y="319.3" width="7.199999999999989" height="15.699999999999989" fill="#e8907e" stroke="none" stroke-width="0.8" />
<line x1="399.6" y1="319.3" x2="399.6" y2="315.7" stroke="#a86a5c" stroke-width="0.9" />
<line x1="397.8" y1="315.7" x2="401.40000000000003" y2="315.7" stroke="#a86a5c" stroke-width="0.9" />
<rect x="403.7" y="300.7" width="7.300000000000011" height="34.30000000000001" fill="#2b9ad8" stroke="none" stroke-width="0.8" />
<line x1="407.35" y1="300.7" x2="407.35" y2="297.8" stroke="#2a6a98" stroke-width="0.9" />
<line x1="405.55" y1="297.8" x2="409.15000000000003" y2="297.8" stroke="#2a6a98" stroke-width="0.9" />
<rect x="411.8" y="304" width="6.699999999999989" height="31" fill="#c30f2d" stroke="none" stroke-width="0.8" />
<line x1="415.15" y1="304" x2="415.15" y2="297.8" stroke="#8a1020" stroke-width="0.9" />
<line x1="413.34999999999997" y1="297.8" x2="416.95" y2="297.8" stroke="#8a1020" stroke-width="0.9" />
<line x1="390.7" y1="293.4" x2="399.3" y2="293.4" stroke="#231f20" stroke-width="0.7" />
<text x="395.75" y="295.09999999999997" font-size="6.4" text-anchor="middle" letter-spacing="1.5">*</text>
<line x1="397.4" y1="286.3" x2="417.2" y2="286.3" stroke="#231f20" stroke-width="0.7" />
<text x="408.04999999999995" y="288.0" font-size="6.4" text-anchor="middle" letter-spacing="1.5">*</text>
<text x="368.8" y="308.4" font-size="8.3" text-anchor="middle" textLength="43.5" lengthAdjust="spacingAndGlyphs" transform="rotate(-90 368.8 308.4)" >IL-6 MFI × 10<tspan baseline-shift="46%" font-size="70%">3</tspan></text>
<line x1="473.1" y1="284.4" x2="473.1" y2="335.3" stroke="#231f20" stroke-width="0.9" />
<line x1="473.1" y1="335.3" x2="513.2" y2="335.3" stroke="#231f20" stroke-width="0.9" />
<line x1="471.1" y1="285.4" x2="473.1" y2="285.4" stroke="#231f20" stroke-width="0.8" />
<text x="469.1" y="287.59999999999997" font-size="6.4" text-anchor="end" >100</text>
<line x1="471.1" y1="302.5" x2="473.1" y2="302.5" stroke="#231f20" stroke-width="0.8" />
<text x="469.1" y="304.7" font-size="6.4" text-anchor="end" >70</text>
<line x1="471.1" y1="318.9" x2="473.1" y2="318.9" stroke="#231f20" stroke-width="0.8" />
<text x="469.1" y="321.09999999999997" font-size="6.4" text-anchor="end" >40</text>
<line x1="471.1" y1="335.3" x2="473.1" y2="335.3" stroke="#231f20" stroke-width="0.8" />
<text x="469.1" y="337.5" font-size="6.4" text-anchor="end" >10</text>
<line x1="482" y1="315.2" x2="482" y2="319.7" stroke="#7fb3db" stroke-width="0.8" />
<line x1="480" y1="315.2" x2="484" y2="315.2" stroke="#7fb3db" stroke-width="1.0" />
<line x1="480" y1="319.7" x2="484" y2="319.7" stroke="#7fb3db" stroke-width="1.0" />
<rect x="479.1" y="317.3" width="5.8" height="2.0" fill="#a9cfee" stroke="#7fb3db" stroke-width="0.6" />
<line x1="479.1" y1="318.3" x2="484.9" y2="318.3" stroke="#7fb3db" stroke-width="0.7" />
<line x1="489.6" y1="322.4" x2="489.6" y2="330" stroke="#c56e5e" stroke-width="0.8" />
<line x1="487.6" y1="322.4" x2="491.6" y2="322.4" stroke="#c56e5e" stroke-width="1.0" />
<line x1="487.6" y1="330" x2="491.6" y2="330" stroke="#c56e5e" stroke-width="1.0" />
<rect x="486.5" y="324.4" width="6.2" height="4.800000000000011" fill="#e8907e" stroke="#c56e5e" stroke-width="0.6" />
<line x1="486.5" y1="326.5" x2="492.70000000000005" y2="326.5" stroke="#c56e5e" stroke-width="0.7" />
<line x1="497.2" y1="310" x2="497.2" y2="320.3" stroke="#1c78b0" stroke-width="0.8" />
<line x1="495.2" y1="310" x2="499.2" y2="310" stroke="#1c78b0" stroke-width="1.0" />
<line x1="495.2" y1="320.3" x2="499.2" y2="320.3" stroke="#1c78b0" stroke-width="1.0" />
<rect x="494.0" y="311.1" width="6.4" height="7.7999999999999545" fill="#2b9ad8" stroke="#1c78b0" stroke-width="0.6" />
<line x1="494.0" y1="314.5" x2="500.4" y2="314.5" stroke="#1c78b0" stroke-width="0.7" />
<line x1="505" y1="314.8" x2="505" y2="321.4" stroke="#8a0a20" stroke-width="0.8" />
<line x1="503" y1="314.8" x2="507" y2="314.8" stroke="#8a0a20" stroke-width="1.0" />
<line x1="503" y1="321.4" x2="507" y2="321.4" stroke="#8a0a20" stroke-width="1.0" />
<rect x="501.7" y="316.2" width="6.6" height="3.6999999999999886" fill="#c30f2d" stroke="#8a0a20" stroke-width="0.6" />
<line x1="501.7" y1="318" x2="508.3" y2="318" stroke="#8a0a20" stroke-width="0.7" />
<line x1="481" y1="306" x2="489.6" y2="306" stroke="#231f20" stroke-width="0.7" />
<text x="486.05" y="307.7" font-size="6.4" text-anchor="middle" letter-spacing="1.5">*</text>
<line x1="487.5" y1="298.4" x2="506.4" y2="298.4" stroke="#231f20" stroke-width="0.7" />
<text x="497.7" y="300.09999999999997" font-size="6.4" text-anchor="middle" letter-spacing="1.5">**</text>
<text x="441.8" y="313.2" font-size="7.3" text-anchor="middle" textLength="27.5" lengthAdjust="spacingAndGlyphs" transform="rotate(-90 441.8 313.2)" >% of IL-6-</text>
<text x="453" y="310.8" font-size="7.3" text-anchor="middle" textLength="49.5" lengthAdjust="spacingAndGlyphs" transform="rotate(-90 453 310.8)" >producing cells</text>
</svg></body></html>
